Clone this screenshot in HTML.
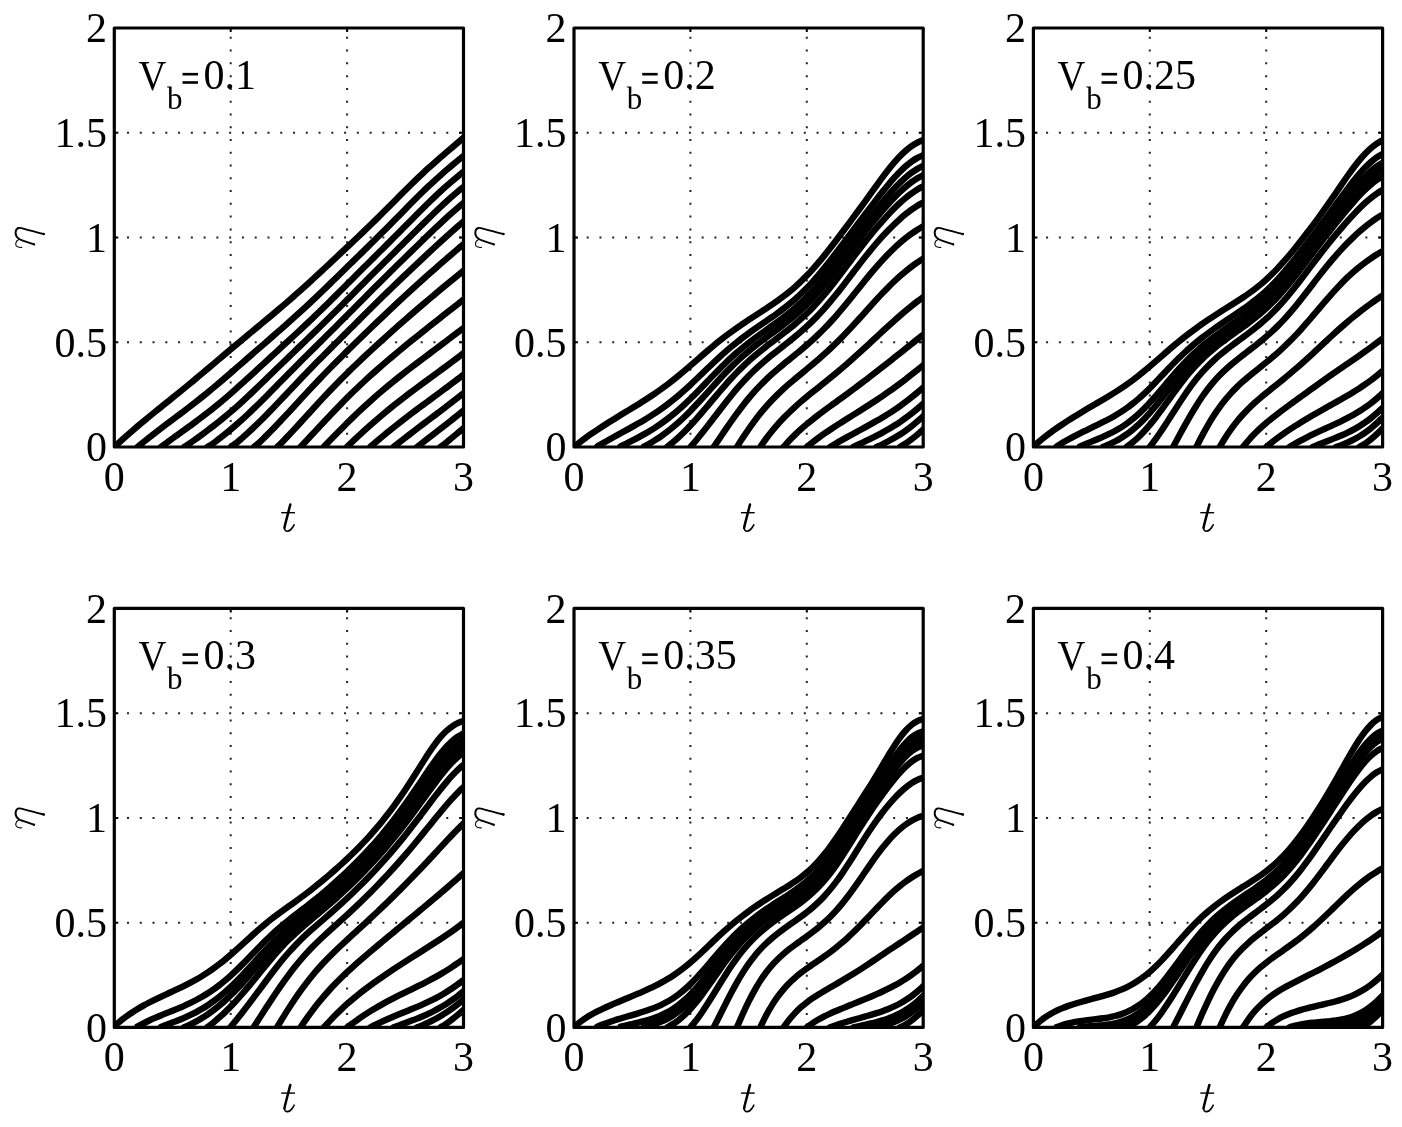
<!DOCTYPE html><html><head><meta charset="utf-8"><style>html,body{margin:0;padding:0;background:#fff;overflow:hidden}svg{display:block}</style></head><body>
<svg width="1402" height="1127" viewBox="0 0 1402 1127" style="will-change:transform">
<rect width="1402" height="1127" fill="#fff"/>
<defs>
<clipPath id="c00"><rect x="114.30" y="28.00" width="349.20" height="419.00"/></clipPath>
<clipPath id="c01"><rect x="574.00" y="28.00" width="349.20" height="419.00"/></clipPath>
<clipPath id="c02"><rect x="1033.40" y="28.00" width="349.20" height="419.00"/></clipPath>
<clipPath id="c10"><rect x="114.30" y="608.40" width="349.20" height="419.00"/></clipPath>
<clipPath id="c11"><rect x="574.00" y="608.40" width="349.20" height="419.00"/></clipPath>
<clipPath id="c12"><rect x="1033.40" y="608.40" width="349.20" height="419.00"/></clipPath>
</defs>
<line x1="230.70" y1="447.00" x2="230.70" y2="28.00" stroke="#222" stroke-width="2" stroke-dasharray="2 10.77" stroke-dashoffset="-12.3"/>
<line x1="347.10" y1="447.00" x2="347.10" y2="28.00" stroke="#222" stroke-width="2" stroke-dasharray="2 10.77" stroke-dashoffset="-12.3"/>
<line x1="114.30" y1="342.25" x2="463.50" y2="342.25" stroke="#222" stroke-width="2" stroke-dasharray="2 10.77" stroke-dashoffset="-12.7"/>
<line x1="114.30" y1="237.50" x2="463.50" y2="237.50" stroke="#222" stroke-width="2" stroke-dasharray="2 10.77" stroke-dashoffset="-12.7"/>
<line x1="114.30" y1="132.75" x2="463.50" y2="132.75" stroke="#222" stroke-width="2" stroke-dasharray="2 10.77" stroke-dashoffset="-12.7"/>
<g clip-path="url(#c00)" fill="none" stroke="#000" stroke-width="6.40" stroke-linejoin="round" stroke-linecap="round"><path d="M114.30 446.98 C115.27 446.09 118.18 443.40 120.12 441.64 C122.06 439.88 124.00 438.14 125.94 436.42 C127.88 434.70 129.82 432.99 131.76 431.31 C133.70 429.62 135.64 427.95 137.58 426.30 C139.52 424.65 141.46 423.04 143.40 421.42 C145.34 419.80 147.28 418.19 149.22 416.60 C151.16 415.01 153.10 413.44 155.04 411.87 C156.98 410.30 158.92 408.74 160.86 407.17 C162.80 405.61 164.74 404.04 166.68 402.48 C168.62 400.92 170.56 399.37 172.50 397.81 C174.44 396.25 176.38 394.69 178.32 393.12 C180.26 391.55 182.20 389.97 184.14 388.38 C186.08 386.80 188.02 385.21 189.96 383.61 C191.90 382.00 193.84 380.38 195.78 378.77 C197.72 377.15 199.66 375.53 201.60 373.91 C203.54 372.28 205.48 370.64 207.42 369.00 C209.36 367.37 211.30 365.74 213.24 364.10 C215.18 362.46 217.12 360.80 219.06 359.16 C221.00 357.52 222.94 355.89 224.88 354.25 C226.82 352.62 228.76 350.97 230.70 349.33 C232.64 347.70 234.58 346.07 236.52 344.45 C238.46 342.83 240.40 341.22 242.34 339.61 C244.28 338.00 246.22 336.38 248.16 334.77 C250.10 333.16 252.04 331.56 253.98 329.95 C255.92 328.35 257.86 326.74 259.80 325.13 C261.74 323.53 263.68 321.93 265.62 320.32 C267.56 318.70 269.50 317.08 271.44 315.45 C273.38 313.83 275.32 312.19 277.26 310.55 C279.20 308.91 281.14 307.27 283.08 305.61 C285.02 303.95 286.96 302.27 288.90 300.58 C290.84 298.89 292.78 297.18 294.72 295.47 C296.66 293.76 298.60 292.05 300.54 290.31 C302.48 288.58 304.42 286.82 306.36 285.06 C308.30 283.30 310.24 281.53 312.18 279.76 C314.12 277.98 316.06 276.19 318.00 274.39 C319.94 272.60 321.88 270.79 323.82 268.99 C325.76 267.18 327.70 265.37 329.64 263.56 C331.58 261.75 333.52 259.95 335.46 258.14 C337.40 256.32 339.34 254.49 341.28 252.67 C343.22 250.85 345.16 249.02 347.10 247.20 C349.04 245.38 350.98 243.57 352.92 241.73 C354.86 239.90 356.80 238.05 358.74 236.20 C360.68 234.35 362.62 232.51 364.56 230.65 C366.50 228.79 368.44 226.92 370.38 225.03 C372.32 223.15 374.26 221.25 376.20 219.34 C378.14 217.43 380.08 215.50 382.02 213.58 C383.96 211.65 385.90 209.72 387.84 207.77 C389.78 205.83 391.72 203.86 393.66 201.91 C395.60 199.95 397.54 197.99 399.48 196.04 C401.42 194.09 403.36 192.14 405.30 190.22 C407.24 188.29 409.18 186.38 411.12 184.48 C413.06 182.58 415.00 180.68 416.94 178.82 C418.88 176.96 420.82 175.14 422.76 173.33 C424.70 171.52 426.64 169.73 428.58 167.97 C430.52 166.21 432.46 164.49 434.40 162.77 C436.34 161.06 438.28 159.36 440.22 157.68 C442.16 156.00 444.10 154.34 446.04 152.67 C447.98 151.01 449.92 149.37 451.86 147.71 C453.80 146.05 455.74 144.40 457.68 142.72 C459.62 141.05 462.53 138.50 463.50 137.65"/><path d="M137.58 446.92 C138.55 446.12 141.46 443.71 143.40 442.14 C145.34 440.57 147.28 439.03 149.22 437.49 C151.16 435.95 153.10 434.43 155.04 432.92 C156.98 431.42 158.92 429.94 160.86 428.46 C162.80 426.98 164.74 425.52 166.68 424.06 C168.62 422.60 170.56 421.16 172.50 419.70 C174.44 418.25 176.38 416.78 178.32 415.32 C180.26 413.86 182.20 412.42 184.14 410.95 C186.08 409.48 188.02 408.00 189.96 406.50 C191.90 405.01 193.84 403.50 195.78 401.98 C197.72 400.46 199.66 398.92 201.60 397.37 C203.54 395.82 205.48 394.24 207.42 392.66 C209.36 391.07 211.30 389.47 213.24 387.86 C215.18 386.25 217.12 384.62 219.06 382.98 C221.00 381.34 222.94 379.68 224.88 378.01 C226.82 376.35 228.76 374.66 230.70 372.98 C232.64 371.30 234.58 369.62 236.52 367.93 C238.46 366.24 240.40 364.54 242.34 362.84 C244.28 361.15 246.22 359.45 248.16 357.75 C250.10 356.06 252.04 354.37 253.98 352.68 C255.92 350.99 257.86 349.30 259.80 347.61 C261.74 345.92 263.68 344.23 265.62 342.54 C267.56 340.85 269.50 339.16 271.44 337.47 C273.38 335.78 275.32 334.10 277.26 332.40 C279.20 330.71 281.14 329.00 283.08 327.29 C285.02 325.58 286.96 323.87 288.90 322.14 C290.84 320.41 292.78 318.67 294.72 316.92 C296.66 315.17 298.60 313.42 300.54 311.64 C302.48 309.87 304.42 308.08 306.36 306.28 C308.30 304.48 310.24 302.66 312.18 300.83 C314.12 299.01 316.06 297.17 318.00 295.32 C319.94 293.47 321.88 291.60 323.82 289.73 C325.76 287.86 327.70 286.00 329.64 284.11 C331.58 282.23 333.52 280.33 335.46 278.44 C337.40 276.54 339.34 274.65 341.28 272.76 C343.22 270.87 345.16 268.98 347.10 267.08 C349.04 265.19 350.98 263.28 352.92 261.38 C354.86 259.49 356.80 257.60 358.74 255.71 C360.68 253.81 362.62 251.91 364.56 250.01 C366.50 248.11 368.44 246.22 370.38 244.31 C372.32 242.40 374.26 240.49 376.20 238.57 C378.14 236.65 380.08 234.72 382.02 232.79 C383.96 230.85 385.90 228.91 387.84 226.96 C389.78 225.01 391.72 223.04 393.66 221.08 C395.60 219.11 397.54 217.14 399.48 215.17 C401.42 213.19 403.36 211.21 405.30 209.24 C407.24 207.27 409.18 205.29 411.12 203.33 C413.06 201.38 415.00 199.43 416.94 197.51 C418.88 195.58 420.82 193.65 422.76 191.77 C424.70 189.88 426.64 188.03 428.58 186.19 C430.52 184.36 432.46 182.54 434.40 180.77 C436.34 178.99 438.28 177.25 440.22 175.53 C442.16 173.81 444.10 172.11 446.04 170.44 C447.98 168.77 449.92 167.13 451.86 165.49 C453.80 163.86 455.74 162.26 457.68 160.66 C459.62 159.05 462.53 156.67 463.50 155.88"/><path d="M160.86 447.00 C161.83 446.29 164.74 444.15 166.68 442.73 C168.62 441.31 170.56 439.88 172.50 438.47 C174.44 437.07 176.38 435.68 178.32 434.28 C180.26 432.89 182.20 431.51 184.14 430.11 C186.08 428.72 188.02 427.31 189.96 425.90 C191.90 424.49 193.84 423.09 195.78 421.65 C197.72 420.22 199.66 418.76 201.60 417.29 C203.54 415.82 205.48 414.34 207.42 412.83 C209.36 411.32 211.30 409.78 213.24 408.22 C215.18 406.66 217.12 405.09 219.06 403.49 C221.00 401.88 222.94 400.24 224.88 398.58 C226.82 396.93 228.76 395.25 230.70 393.56 C232.64 391.86 234.58 390.15 236.52 388.42 C238.46 386.70 240.40 384.94 242.34 383.19 C244.28 381.43 246.22 379.66 248.16 377.89 C250.10 376.11 252.04 374.33 253.98 372.54 C255.92 370.76 257.86 368.97 259.80 367.18 C261.74 365.39 263.68 363.59 265.62 361.80 C267.56 360.01 269.50 358.22 271.44 356.43 C273.38 354.65 275.32 352.85 277.26 351.07 C279.20 349.29 281.14 347.51 283.08 345.73 C285.02 343.94 286.96 342.15 288.90 340.36 C290.84 338.58 292.78 336.80 294.72 335.00 C296.66 333.21 298.60 331.41 300.54 329.60 C302.48 327.78 304.42 325.96 306.36 324.13 C308.30 322.30 310.24 320.47 312.18 318.62 C314.12 316.77 316.06 314.90 318.00 313.02 C319.94 311.15 321.88 309.26 323.82 307.37 C325.76 305.47 327.70 303.56 329.64 301.65 C331.58 299.74 333.52 297.82 335.46 295.89 C337.40 293.96 339.34 292.02 341.28 290.08 C343.22 288.15 345.16 286.20 347.10 284.26 C349.04 282.32 350.98 280.38 352.92 278.44 C354.86 276.49 356.80 274.55 358.74 272.61 C360.68 270.67 362.62 268.74 364.56 266.81 C366.50 264.88 368.44 262.96 370.38 261.03 C372.32 259.10 374.26 257.15 376.20 255.22 C378.14 253.29 380.08 251.37 382.02 249.44 C383.96 247.51 385.90 245.58 387.84 243.64 C389.78 241.70 391.72 239.75 393.66 237.79 C395.60 235.84 397.54 233.89 399.48 231.93 C401.42 229.96 403.36 227.99 405.30 226.02 C407.24 224.05 409.18 222.09 411.12 220.13 C413.06 218.17 415.00 216.20 416.94 214.25 C418.88 212.29 420.82 210.35 422.76 208.42 C424.70 206.50 426.64 204.58 428.58 202.70 C430.52 200.82 432.46 198.96 434.40 197.13 C436.34 195.30 438.28 193.48 440.22 191.70 C442.16 189.93 444.10 188.18 446.04 186.47 C447.98 184.75 449.92 183.08 451.86 181.42 C453.80 179.76 455.74 178.12 457.68 176.51 C459.62 174.90 462.53 172.55 463.50 171.76"/><path d="M184.14 447.00 C185.11 446.36 188.02 444.51 189.96 443.19 C191.90 441.86 193.84 440.43 195.78 439.04 C197.72 437.65 199.66 436.25 201.60 434.83 C203.54 433.41 205.48 431.98 207.42 430.53 C209.36 429.08 211.30 427.63 213.24 426.13 C215.18 424.64 217.12 423.12 219.06 421.57 C221.00 420.01 222.94 418.42 224.88 416.81 C226.82 415.20 228.76 413.57 230.70 411.91 C232.64 410.24 234.58 408.54 236.52 406.82 C238.46 405.09 240.40 403.34 242.34 401.56 C244.28 399.78 246.22 397.97 248.16 396.15 C250.10 394.34 252.04 392.50 253.98 390.64 C255.92 388.79 257.86 386.92 259.80 385.05 C261.74 383.18 263.68 381.30 265.62 379.42 C267.56 377.53 269.50 375.63 271.44 373.74 C273.38 371.85 275.32 369.96 277.26 368.08 C279.20 366.20 281.14 364.32 283.08 362.45 C285.02 360.57 286.96 358.70 288.90 356.83 C290.84 354.96 292.78 353.08 294.72 351.22 C296.66 349.35 298.60 347.49 300.54 345.62 C302.48 343.76 304.42 341.90 306.36 340.03 C308.30 338.16 310.24 336.29 312.18 334.41 C314.12 332.54 316.06 330.65 318.00 328.76 C319.94 326.87 321.88 324.97 323.82 323.06 C325.76 321.15 327.70 319.24 329.64 317.32 C331.58 315.40 333.52 313.45 335.46 311.52 C337.40 309.58 339.34 307.64 341.28 305.69 C343.22 303.74 345.16 301.79 347.10 299.83 C349.04 297.87 350.98 295.90 352.92 293.94 C354.86 291.98 356.80 290.01 358.74 288.05 C360.68 286.09 362.62 284.14 364.56 282.19 C366.50 280.23 368.44 278.29 370.38 276.34 C372.32 274.40 374.26 272.46 376.20 270.52 C378.14 268.58 380.08 266.64 382.02 264.71 C383.96 262.78 385.90 260.86 387.84 258.93 C389.78 257.00 391.72 255.08 393.66 253.15 C395.60 251.22 397.54 249.28 399.48 247.35 C401.42 245.41 403.36 243.48 405.30 241.54 C407.24 239.61 409.18 237.68 411.12 235.74 C413.06 233.80 415.00 231.85 416.94 229.92 C418.88 227.98 420.82 226.05 422.76 224.13 C424.70 222.22 426.64 220.31 428.58 218.41 C430.52 216.52 432.46 214.64 434.40 212.78 C436.34 210.92 438.28 209.06 440.22 207.25 C442.16 205.43 444.10 203.64 446.04 201.89 C447.98 200.13 449.92 198.39 451.86 196.69 C453.80 194.99 455.74 193.32 457.68 191.68 C459.62 190.04 462.53 187.65 463.50 186.84"/><path d="M207.42 447.00 C208.39 446.38 211.30 444.65 213.24 443.29 C215.18 441.93 217.12 440.34 219.06 438.83 C221.00 437.32 222.94 435.80 224.88 434.24 C226.82 432.68 228.76 431.09 230.70 429.46 C232.64 427.84 234.58 426.17 236.52 424.48 C238.46 422.79 240.40 421.08 242.34 419.33 C244.28 417.57 246.22 415.78 248.16 413.96 C250.10 412.14 252.04 410.28 253.98 408.41 C255.92 406.54 257.86 404.65 259.80 402.73 C261.74 400.82 263.68 398.88 265.62 396.93 C267.56 394.98 269.50 393.01 271.44 391.04 C273.38 389.07 275.32 387.09 277.26 385.11 C279.20 383.14 281.14 381.16 283.08 379.18 C285.02 377.21 286.96 375.24 288.90 373.28 C290.84 371.31 292.78 369.34 294.72 367.39 C296.66 365.44 298.60 363.50 300.54 361.57 C302.48 359.63 304.42 357.69 306.36 355.76 C308.30 353.83 310.24 351.90 312.18 349.98 C314.12 348.06 316.06 346.16 318.00 344.24 C319.94 342.32 321.88 340.40 323.82 338.48 C325.76 336.56 327.70 334.62 329.64 332.70 C331.58 330.77 333.52 328.85 335.46 326.91 C337.40 324.98 339.34 323.04 341.28 321.09 C343.22 319.15 345.16 317.20 347.10 315.25 C349.04 313.29 350.98 311.34 352.92 309.38 C354.86 307.42 356.80 305.45 358.74 303.49 C360.68 301.53 362.62 299.58 364.56 297.63 C366.50 295.67 368.44 293.73 370.38 291.78 C372.32 289.84 374.26 287.89 376.20 285.96 C378.14 284.02 380.08 282.10 382.02 280.18 C383.96 278.25 385.90 276.33 387.84 274.41 C389.78 272.50 391.72 270.60 393.66 268.69 C395.60 266.79 397.54 264.88 399.48 262.98 C401.42 261.07 403.36 259.17 405.30 257.28 C407.24 255.38 409.18 253.49 411.12 251.60 C413.06 249.71 415.00 247.81 416.94 245.92 C418.88 244.03 420.82 242.15 422.76 240.27 C424.70 238.38 426.64 236.50 428.58 234.63 C430.52 232.76 432.46 230.90 434.40 229.06 C436.34 227.21 438.28 225.36 440.22 223.55 C442.16 221.73 444.10 219.94 446.04 218.16 C447.98 216.39 449.92 214.63 451.86 212.90 C453.80 211.18 455.74 209.47 457.68 207.79 C459.62 206.12 462.53 203.67 463.50 202.85"/><path d="M230.70 447.00 C231.67 446.31 234.58 444.40 236.52 442.87 C238.46 441.34 240.40 439.54 242.34 437.82 C244.28 436.11 246.22 434.37 248.16 432.59 C250.10 430.81 252.04 428.99 253.98 427.14 C255.92 425.29 257.86 423.41 259.80 421.50 C261.74 419.60 263.68 417.66 265.62 415.70 C267.56 413.74 269.50 411.74 271.44 409.73 C273.38 407.72 275.32 405.69 277.26 403.65 C279.20 401.62 281.14 399.57 283.08 397.52 C285.02 395.47 286.96 393.41 288.90 391.36 C290.84 389.30 292.78 387.24 294.72 385.20 C296.66 383.15 298.60 381.11 300.54 379.08 C302.48 377.05 304.42 375.03 306.36 373.03 C308.30 371.02 310.24 369.02 312.18 367.03 C314.12 365.04 316.06 363.05 318.00 361.08 C319.94 359.11 321.88 357.17 323.82 355.22 C325.76 353.27 327.70 351.31 329.64 349.37 C331.58 347.43 333.52 345.50 335.46 343.57 C337.40 341.64 339.34 339.70 341.28 337.77 C343.22 335.83 345.16 333.90 347.10 331.96 C349.04 330.03 350.98 328.09 352.92 326.16 C354.86 324.23 356.80 322.31 358.74 320.38 C360.68 318.45 362.62 316.50 364.56 314.58 C366.50 312.65 368.44 310.73 370.38 308.81 C372.32 306.89 374.26 304.97 376.20 303.05 C378.14 301.14 380.08 299.23 382.02 297.33 C383.96 295.43 385.90 293.54 387.84 291.66 C389.78 289.77 391.72 287.87 393.66 286.00 C395.60 284.12 397.54 282.26 399.48 280.41 C401.42 278.55 403.36 276.70 405.30 274.85 C407.24 273.01 409.18 271.16 411.12 269.32 C413.06 267.48 415.00 265.64 416.94 263.81 C418.88 261.98 420.82 260.16 422.76 258.35 C424.70 256.53 426.64 254.71 428.58 252.90 C430.52 251.09 432.46 249.29 434.40 247.49 C436.34 245.70 438.28 243.91 440.22 242.13 C442.16 240.35 444.10 238.58 446.04 236.83 C447.98 235.08 449.92 233.33 451.86 231.61 C453.80 229.90 455.74 228.21 457.68 226.52 C459.62 224.84 462.53 222.35 463.50 221.52"/><path d="M253.98 447.00 C254.95 446.18 257.86 443.85 259.80 442.08 C261.74 440.31 263.68 438.31 265.62 436.38 C267.56 434.45 269.50 432.50 271.44 430.51 C273.38 428.53 275.32 426.51 277.26 424.48 C279.20 422.45 281.14 420.39 283.08 418.32 C285.02 416.25 286.96 414.15 288.90 412.06 C290.84 409.96 292.78 407.86 294.72 405.75 C296.66 403.64 298.60 401.51 300.54 399.40 C302.48 397.29 304.42 395.19 306.36 393.10 C308.30 391.00 310.24 388.92 312.18 386.85 C314.12 384.79 316.06 382.74 318.00 380.69 C319.94 378.65 321.88 376.61 323.82 374.60 C325.76 372.59 327.70 370.61 329.64 368.63 C331.58 366.65 333.52 364.67 335.46 362.72 C337.40 360.76 339.34 358.82 341.28 356.89 C343.22 354.96 345.16 353.05 347.10 351.13 C349.04 349.22 350.98 347.31 352.92 345.41 C354.86 343.51 356.80 341.62 358.74 339.74 C360.68 337.85 362.62 335.98 364.56 334.10 C366.50 332.23 368.44 330.35 370.38 328.49 C372.32 326.62 374.26 324.75 376.20 322.89 C378.14 321.03 380.08 319.17 382.02 317.32 C383.96 315.47 385.90 313.64 387.84 311.81 C389.78 309.98 391.72 308.14 393.66 306.32 C395.60 304.50 397.54 302.70 399.48 300.89 C401.42 299.09 403.36 297.30 405.30 295.51 C407.24 293.72 409.18 291.94 411.12 290.17 C413.06 288.40 415.00 286.65 416.94 284.89 C418.88 283.13 420.82 281.37 422.76 279.63 C424.70 277.89 426.64 276.16 428.58 274.43 C430.52 272.71 432.46 271.00 434.40 269.28 C436.34 267.57 438.28 265.85 440.22 264.15 C442.16 262.45 444.10 260.76 446.04 259.08 C447.98 257.40 449.92 255.72 451.86 254.05 C453.80 252.38 455.74 250.71 457.68 249.06 C459.62 247.42 462.53 244.98 463.50 244.16"/><path d="M277.26 447.00 C278.23 446.04 281.14 443.20 283.08 441.22 C285.02 439.23 286.96 437.16 288.90 435.10 C290.84 433.04 292.78 430.95 294.72 428.86 C296.66 426.76 298.60 424.65 300.54 422.53 C302.48 420.41 304.42 418.28 306.36 416.16 C308.30 414.04 310.24 411.91 312.18 409.79 C314.12 407.67 316.06 405.55 318.00 403.44 C319.94 401.34 321.88 399.25 323.82 397.18 C325.76 395.11 327.70 393.06 329.64 391.02 C331.58 388.99 333.52 386.96 335.46 384.97 C337.40 382.97 339.34 380.99 341.28 379.04 C343.22 377.08 345.16 375.15 347.10 373.24 C349.04 371.32 350.98 369.42 352.92 367.54 C354.86 365.65 356.80 363.79 358.74 361.94 C360.68 360.09 362.62 358.26 364.56 356.43 C366.50 354.61 368.44 352.81 370.38 351.01 C372.32 349.21 374.26 347.42 376.20 345.64 C378.14 343.87 380.08 342.10 382.02 340.34 C383.96 338.58 385.90 336.83 387.84 335.09 C389.78 333.34 391.72 331.60 393.66 329.87 C395.60 328.14 397.54 326.43 399.48 324.71 C401.42 323.00 403.36 321.30 405.30 319.60 C407.24 317.91 409.18 316.22 411.12 314.53 C413.06 312.85 415.00 311.17 416.94 309.51 C418.88 307.84 420.82 306.17 422.76 304.52 C424.70 302.86 426.64 301.21 428.58 299.57 C430.52 297.94 432.46 296.32 434.40 294.69 C436.34 293.07 438.28 291.45 440.22 289.83 C442.16 288.22 444.10 286.61 446.04 285.01 C447.98 283.42 449.92 281.83 451.86 280.24 C453.80 278.65 455.74 277.06 457.68 275.48 C459.62 273.90 462.53 271.55 463.50 270.77"/><path d="M300.54 446.90 C301.51 445.87 304.42 442.80 306.36 440.74 C308.30 438.67 310.24 436.59 312.18 434.51 C314.12 432.44 316.06 430.35 318.00 428.27 C319.94 426.19 321.88 424.10 323.82 422.03 C325.76 419.95 327.70 417.88 329.64 415.83 C331.58 413.77 333.52 411.73 335.46 409.71 C337.40 407.69 339.34 405.68 341.28 403.70 C343.22 401.71 345.16 399.75 347.10 397.81 C349.04 395.87 350.98 393.96 352.92 392.07 C354.86 390.18 356.80 388.32 358.74 386.48 C360.68 384.63 362.62 382.81 364.56 381.01 C366.50 379.21 368.44 377.44 370.38 375.69 C372.32 373.93 374.26 372.21 376.20 370.49 C378.14 368.78 380.08 367.08 382.02 365.40 C383.96 363.72 385.90 362.04 387.84 360.39 C389.78 358.74 391.72 357.12 393.66 355.49 C395.60 353.86 397.54 352.24 399.48 350.63 C401.42 349.02 403.36 347.44 405.30 345.85 C407.24 344.26 409.18 342.67 411.12 341.10 C413.06 339.52 415.00 337.97 416.94 336.40 C418.88 334.84 420.82 333.28 422.76 331.73 C424.70 330.18 426.64 328.65 428.58 327.10 C430.52 325.56 432.46 324.01 434.40 322.47 C436.34 320.94 438.28 319.41 440.22 317.89 C442.16 316.36 444.10 314.82 446.04 313.30 C447.98 311.77 449.92 310.25 451.86 308.73 C453.80 307.21 455.74 305.68 457.68 304.16 C459.62 302.64 462.53 300.37 463.50 299.62"/><path d="M323.82 446.73 C324.79 445.73 327.70 442.74 329.64 440.76 C331.58 438.77 333.52 436.80 335.46 434.83 C337.40 432.86 339.34 430.88 341.28 428.92 C343.22 426.96 345.16 425.02 347.10 423.10 C349.04 421.18 350.98 419.28 352.92 417.40 C354.86 415.52 356.80 413.64 358.74 411.80 C360.68 409.96 362.62 408.15 364.56 406.36 C366.50 404.57 368.44 402.80 370.38 401.06 C372.32 399.31 374.26 397.60 376.20 395.90 C378.14 394.21 380.08 392.54 382.02 390.90 C383.96 389.25 385.90 387.62 387.84 386.01 C389.78 384.41 391.72 382.82 393.66 381.26 C395.60 379.69 397.54 378.16 399.48 376.63 C401.42 375.10 403.36 373.57 405.30 372.06 C407.24 370.55 409.18 369.05 411.12 367.56 C413.06 366.07 415.00 364.59 416.94 363.12 C418.88 361.64 420.82 360.18 422.76 358.72 C424.70 357.25 426.64 355.79 428.58 354.34 C430.52 352.88 432.46 351.44 434.40 349.98 C436.34 348.52 438.28 347.06 440.22 345.60 C442.16 344.14 444.10 342.69 446.04 341.22 C447.98 339.76 449.92 338.30 451.86 336.82 C453.80 335.35 455.74 333.87 457.68 332.38 C459.62 330.90 462.53 328.66 463.50 327.92"/><path d="M347.10 446.71 C348.07 445.79 350.98 443.02 352.92 441.20 C354.86 439.37 356.80 437.57 358.74 435.77 C360.68 433.98 362.62 432.19 364.56 430.43 C366.50 428.67 368.44 426.91 370.38 425.19 C372.32 423.47 374.26 421.78 376.20 420.10 C378.14 418.42 380.08 416.75 382.02 415.11 C383.96 413.48 385.90 411.87 387.84 410.27 C389.78 408.68 391.72 407.11 393.66 405.56 C395.60 404.01 397.54 402.47 399.48 400.95 C401.42 399.43 403.36 397.93 405.30 396.45 C407.24 394.96 409.18 393.51 411.12 392.05 C413.06 390.59 415.00 389.13 416.94 387.69 C418.88 386.25 420.82 384.82 422.76 383.40 C424.70 381.97 426.64 380.54 428.58 379.12 C430.52 377.70 432.46 376.29 434.40 374.87 C436.34 373.45 438.28 372.02 440.22 370.60 C442.16 369.17 444.10 367.76 446.04 366.32 C447.98 364.89 449.92 363.44 451.86 361.98 C453.80 360.53 455.74 359.08 457.68 357.61 C459.62 356.14 462.53 353.91 463.50 353.16"/><path d="M370.38 446.77 C371.35 445.94 374.26 443.43 376.20 441.78 C378.14 440.14 380.08 438.50 382.02 436.88 C383.96 435.26 385.90 433.67 387.84 432.08 C389.78 430.50 391.72 428.92 393.66 427.37 C395.60 425.82 397.54 424.28 399.48 422.76 C401.42 421.24 403.36 419.73 405.30 418.24 C407.24 416.74 409.18 415.26 411.12 413.79 C413.06 412.32 415.00 410.86 416.94 409.42 C418.88 407.97 420.82 406.54 422.76 405.10 C424.70 403.66 426.64 402.24 428.58 400.81 C430.52 399.37 432.46 397.94 434.40 396.51 C436.34 395.08 438.28 393.65 440.22 392.22 C442.16 390.78 444.10 389.35 446.04 387.90 C447.98 386.45 449.92 385.01 451.86 383.54 C453.80 382.08 455.74 380.61 457.68 379.12 C459.62 377.64 462.53 375.39 463.50 374.64"/><path d="M393.66 446.87 C394.63 446.11 397.54 443.79 399.48 442.27 C401.42 440.74 403.36 439.22 405.30 437.72 C407.24 436.21 409.18 434.73 411.12 433.24 C413.06 431.74 415.00 430.25 416.94 428.77 C418.88 427.30 420.82 425.84 422.76 424.37 C424.70 422.91 426.64 421.44 428.58 419.97 C430.52 418.51 432.46 417.06 434.40 415.60 C436.34 414.14 438.28 412.68 440.22 411.22 C442.16 409.75 444.10 408.28 446.04 406.80 C447.98 405.32 449.92 403.83 451.86 402.33 C453.80 400.84 455.74 399.33 457.68 397.81 C459.62 396.29 462.53 393.99 463.50 393.22"/><path d="M416.94 447.00 C417.91 446.26 420.82 444.07 422.76 442.58 C424.70 441.09 426.64 439.58 428.58 438.08 C430.52 436.57 432.46 435.06 434.40 433.55 C436.34 432.04 438.28 430.54 440.22 429.02 C442.16 427.51 444.10 426.00 446.04 424.48 C447.98 422.95 449.92 421.41 451.86 419.87 C453.80 418.33 455.74 416.78 457.68 415.22 C459.62 413.65 462.53 411.27 463.50 410.48"/><path d="M440.22 447.00 C441.19 446.28 444.10 444.18 446.04 442.66 C447.98 441.14 449.92 439.49 451.86 437.89 C453.80 436.29 455.74 434.68 457.68 433.07 C459.62 431.45 462.53 429.00 463.50 428.19"/></g>
<path d="M114.30 447.00V443.00M114.30 28.00V32.00M230.70 447.00V443.00M230.70 28.00V32.00M347.10 447.00V443.00M347.10 28.00V32.00M463.50 447.00V443.00M463.50 28.00V32.00M114.30 447.00H118.30M463.50 447.00H459.50M114.30 342.25H118.30M463.50 342.25H459.50M114.30 237.50H118.30M463.50 237.50H459.50M114.30 132.75H118.30M463.50 132.75H459.50M114.30 28.00H118.30M463.50 28.00H459.50" stroke="#000" stroke-width="2" fill="none"/>
<rect x="114.30" y="28.00" width="349.20" height="419.00" fill="none" stroke="#000" stroke-width="3.2" stroke-linejoin="round"/>
<text x="106.90" y="461.30" font-family="Liberation Serif" font-size="42" text-anchor="end">0</text>
<text x="106.90" y="356.55" font-family="Liberation Serif" font-size="42" text-anchor="end">0.5</text>
<text x="106.90" y="251.80" font-family="Liberation Serif" font-size="42" text-anchor="end">1</text>
<text x="106.90" y="147.05" font-family="Liberation Serif" font-size="42" text-anchor="end">1.5</text>
<text x="106.90" y="42.30" font-family="Liberation Serif" font-size="42" text-anchor="end">2</text>
<text x="114.30" y="490.80" font-family="Liberation Serif" font-size="42" text-anchor="middle">0</text>
<text x="230.70" y="490.80" font-family="Liberation Serif" font-size="42" text-anchor="middle">1</text>
<text x="347.10" y="490.80" font-family="Liberation Serif" font-size="42" text-anchor="middle">2</text>
<text x="463.50" y="490.80" font-family="Liberation Serif" font-size="42" text-anchor="middle">3</text>
<g transform="translate(0.00 0.00)" fill="none" stroke="#000" stroke-linecap="round"><path stroke-width="2.5" d="M290.3 504.5 C289.5 507.7 287.2 516.5 285.9 521.6 C285.2 524.2 284.6 526.3 284.45 528"/><path stroke-width="1.6" d="M284.45 527.6 C284.3 530 285.6 531.2 287.4 531.2 C289.6 531.2 291.5 529.2 292.7 527.3 C293.3 526.3 293.8 525.5 294.1 524.8"/><path stroke-width="1.4" stroke-linecap="butt" d="M281.2 512.7 H295.0"/></g>
<g transform="translate(0.00 0.00)" fill="none" stroke="#000" stroke-linecap="round"><path stroke-width="1.9" d="M43.95 234.1 C38 232.6 30 230.56 25 229.2 C21.4 228.13 19.5 227.7 18.56 227.99 C16.9 228.5 15.6 230.6 15.56 232.84 C15.5 235 16.8 237.3 18.84 238.83 C20 239.7 21.5 240.1 22.84 240.55 C26.5 241.8 30.5 243.1 34.25 244.4"/><path stroke-width="1.1" d="M18.84 239.6 C17.2 240.3 15.9 241.6 15.7 243.6 C15.6 245.3 16.4 246.3 17.6 246.8 C18.9 247.3 20.3 247.5 21.7 247.4"/><circle cx="43.6" cy="234.0" r="1.25" fill="#000" stroke="none"/><circle cx="33.9" cy="244.3" r="1.15" fill="#000" stroke="none"/></g>
<text transform="translate(138.50 89.70) scale(0.93 1)" font-family="Liberation Serif" font-size="41.5">V</text>
<text x="167.10" y="109.00" font-family="Liberation Serif" font-size="31">b</text>
<rect x="182.50" y="72.90" width="15.5" height="2.6" fill="#000"/><rect x="182.50" y="81.20" width="15.5" height="2.6" fill="#000"/>
<text x="203.50" y="88.50" font-family="Liberation Serif" font-size="42">0.1</text>
<line x1="690.40" y1="447.00" x2="690.40" y2="28.00" stroke="#222" stroke-width="2" stroke-dasharray="2 10.77" stroke-dashoffset="-12.3"/>
<line x1="806.80" y1="447.00" x2="806.80" y2="28.00" stroke="#222" stroke-width="2" stroke-dasharray="2 10.77" stroke-dashoffset="-12.3"/>
<line x1="574.00" y1="342.25" x2="923.20" y2="342.25" stroke="#222" stroke-width="2" stroke-dasharray="2 10.77" stroke-dashoffset="-12.7"/>
<line x1="574.00" y1="237.50" x2="923.20" y2="237.50" stroke="#222" stroke-width="2" stroke-dasharray="2 10.77" stroke-dashoffset="-12.7"/>
<line x1="574.00" y1="132.75" x2="923.20" y2="132.75" stroke="#222" stroke-width="2" stroke-dasharray="2 10.77" stroke-dashoffset="-12.7"/>
<g clip-path="url(#c01)" fill="none" stroke="#000" stroke-width="6.40" stroke-linejoin="round" stroke-linecap="round"><path d="M574.00 446.75 C574.97 445.99 577.88 443.67 579.82 442.18 C581.76 440.70 583.70 439.25 585.64 437.84 C587.58 436.44 589.52 435.08 591.46 433.74 C593.40 432.40 595.34 431.09 597.28 429.80 C599.22 428.51 601.16 427.24 603.10 425.99 C605.04 424.74 606.98 423.52 608.92 422.30 C610.86 421.08 612.80 419.88 614.74 418.68 C616.68 417.47 618.62 416.28 620.56 415.09 C622.50 413.91 624.44 412.73 626.38 411.55 C628.32 410.37 630.26 409.20 632.20 408.01 C634.14 406.82 636.08 405.62 638.02 404.41 C639.96 403.20 641.90 402.00 643.84 400.76 C645.78 399.53 647.72 398.27 649.66 396.99 C651.60 395.71 653.54 394.41 655.48 393.07 C657.42 391.74 659.36 390.38 661.30 388.99 C663.24 387.60 665.18 386.18 667.12 384.72 C669.06 383.26 671.00 381.76 672.94 380.23 C674.88 378.70 676.82 377.13 678.76 375.54 C680.70 373.95 682.64 372.32 684.58 370.68 C686.52 369.04 688.46 367.37 690.40 365.69 C692.34 364.02 694.28 362.32 696.22 360.62 C698.16 358.93 700.10 357.22 702.04 355.53 C703.98 353.85 705.92 352.16 707.86 350.50 C709.80 348.85 711.74 347.21 713.68 345.60 C715.62 344.00 717.56 342.42 719.50 340.87 C721.44 339.32 723.38 337.78 725.32 336.30 C727.26 334.82 729.20 333.38 731.14 331.96 C733.08 330.55 735.02 329.16 736.96 327.79 C738.90 326.43 740.84 325.11 742.78 323.79 C744.72 322.48 746.66 321.20 748.60 319.92 C750.54 318.64 752.48 317.38 754.42 316.13 C756.36 314.87 758.30 313.63 760.24 312.38 C762.18 311.12 764.12 309.86 766.06 308.58 C768.00 307.30 769.94 306.01 771.88 304.69 C773.82 303.36 775.76 302.02 777.70 300.62 C779.64 299.23 781.58 297.81 783.52 296.33 C785.46 294.85 787.40 293.33 789.34 291.74 C791.28 290.15 793.22 288.50 795.16 286.77 C797.10 285.05 799.04 283.25 800.98 281.39 C802.92 279.53 804.86 277.60 806.80 275.59 C808.74 273.58 810.68 271.48 812.62 269.32 C814.56 267.17 816.50 264.94 818.44 262.66 C820.38 260.38 822.32 258.02 824.26 255.62 C826.20 253.23 828.14 250.77 830.08 248.29 C832.02 245.81 833.96 243.27 835.90 240.73 C837.84 238.18 839.78 235.61 841.72 233.04 C843.66 230.46 845.60 227.87 847.54 225.27 C849.48 222.66 851.42 220.06 853.36 217.43 C855.30 214.80 857.24 212.16 859.18 209.51 C861.12 206.86 863.06 204.19 865.00 201.51 C866.94 198.83 868.88 196.13 870.82 193.44 C872.76 190.75 874.70 188.04 876.64 185.38 C878.58 182.71 880.52 180.03 882.46 177.44 C884.40 174.84 886.34 172.27 888.28 169.81 C890.22 167.36 892.16 164.96 894.10 162.71 C896.04 160.46 897.98 158.29 899.92 156.30 C901.86 154.30 903.80 152.43 905.74 150.75 C907.68 149.06 909.62 147.53 911.56 146.18 C913.50 144.82 915.44 143.64 917.38 142.62 C919.32 141.60 922.23 140.49 923.20 140.06"/><path d="M597.28 446.48 C598.25 445.90 601.16 444.15 603.10 443.02 C605.04 441.89 606.98 440.80 608.92 439.71 C610.86 438.62 612.80 437.53 614.74 436.46 C616.68 435.39 618.62 434.34 620.56 433.28 C622.50 432.22 624.44 431.16 626.38 430.09 C628.32 429.02 630.26 427.95 632.20 426.87 C634.14 425.78 636.08 424.69 638.02 423.58 C639.96 422.46 641.90 421.34 643.84 420.18 C645.78 419.02 647.72 417.84 649.66 416.62 C651.60 415.40 653.54 414.15 655.48 412.85 C657.42 411.56 659.36 410.23 661.30 408.85 C663.24 407.47 665.18 406.06 667.12 404.60 C669.06 403.13 671.00 401.61 672.94 400.05 C674.88 398.49 676.82 396.88 678.76 395.23 C680.70 393.58 682.64 391.88 684.58 390.14 C686.52 388.40 688.46 386.61 690.40 384.80 C692.34 382.99 694.28 381.14 696.22 379.29 C698.16 377.44 700.10 375.55 702.04 373.68 C703.98 371.80 705.92 369.92 707.86 368.06 C709.80 366.20 711.74 364.32 713.68 362.49 C715.62 360.66 717.56 358.85 719.50 357.08 C721.44 355.31 723.38 353.57 725.32 351.87 C727.26 350.17 729.20 348.50 731.14 346.88 C733.08 345.26 735.02 343.70 736.96 342.17 C738.90 340.63 740.84 339.13 742.78 337.66 C744.72 336.20 746.66 334.77 748.60 333.37 C750.54 331.96 752.48 330.60 754.42 329.24 C756.36 327.88 758.30 326.54 760.24 325.20 C762.18 323.85 764.12 322.52 766.06 321.17 C768.00 319.83 769.94 318.50 771.88 317.13 C773.82 315.76 775.76 314.38 777.70 312.96 C779.64 311.54 781.58 310.10 783.52 308.60 C785.46 307.11 787.40 305.59 789.34 304.00 C791.28 302.40 793.22 300.76 795.16 299.05 C797.10 297.34 799.04 295.57 800.98 293.73 C802.92 291.89 804.86 289.98 806.80 287.99 C808.74 286.00 810.68 283.93 812.62 281.79 C814.56 279.65 816.50 277.44 818.44 275.17 C820.38 272.89 822.32 270.53 824.26 268.13 C826.20 265.73 828.14 263.27 830.08 260.78 C832.02 258.29 833.96 255.74 835.90 253.19 C837.84 250.64 839.78 248.05 841.72 245.46 C843.66 242.87 845.60 240.26 847.54 237.67 C849.48 235.07 851.42 232.48 853.36 229.90 C855.30 227.31 857.24 224.73 859.18 222.16 C861.12 219.59 863.06 217.03 865.00 214.48 C866.94 211.92 868.88 209.38 870.82 206.85 C872.76 204.32 874.70 201.78 876.64 199.29 C878.58 196.79 880.52 194.30 882.46 191.87 C884.40 189.44 886.34 187.03 888.28 184.71 C890.22 182.38 892.16 180.10 894.10 177.94 C896.04 175.78 897.98 173.70 899.92 171.76 C901.86 169.81 903.80 167.96 905.74 166.27 C907.68 164.58 909.62 163.02 911.56 161.62 C913.50 160.22 915.44 158.97 917.38 157.87 C919.32 156.77 922.23 155.51 923.20 155.04"/><path d="M620.56 446.43 C621.53 445.96 624.44 444.53 626.38 443.56 C628.32 442.60 630.26 441.63 632.20 440.63 C634.14 439.64 636.08 438.63 638.02 437.59 C639.96 436.55 641.90 435.49 643.84 434.39 C645.78 433.29 647.72 432.16 649.66 430.99 C651.60 429.82 653.54 428.63 655.48 427.37 C657.42 426.11 659.36 424.80 661.30 423.43 C663.24 422.06 665.18 420.63 667.12 419.16 C669.06 417.68 671.00 416.16 672.94 414.57 C674.88 412.98 676.82 411.33 678.76 409.63 C680.70 407.92 682.64 406.15 684.58 404.35 C686.52 402.54 688.46 400.67 690.40 398.77 C692.34 396.87 694.28 394.92 696.22 392.95 C698.16 390.98 700.10 388.97 702.04 386.96 C703.98 384.95 705.92 382.92 707.86 380.90 C709.80 378.88 711.74 376.85 713.68 374.85 C715.62 372.85 717.56 370.86 719.50 368.92 C721.44 366.98 723.38 365.06 725.32 363.20 C727.26 361.34 729.20 359.51 731.14 357.73 C733.08 355.95 735.02 354.22 736.96 352.54 C738.90 350.85 740.84 349.23 742.78 347.63 C744.72 346.04 746.66 344.50 748.60 342.98 C750.54 341.47 752.48 339.99 754.42 338.54 C756.36 337.09 758.30 335.68 760.24 334.27 C762.18 332.86 764.12 331.49 766.06 330.10 C768.00 328.71 769.94 327.31 771.88 325.91 C773.82 324.51 775.76 323.11 777.70 321.68 C779.64 320.24 781.58 318.79 783.52 317.30 C785.46 315.80 787.40 314.29 789.34 312.71 C791.28 311.13 793.22 309.50 795.16 307.81 C797.10 306.11 799.04 304.37 800.98 302.55 C802.92 300.73 804.86 298.85 806.80 296.89 C808.74 294.93 810.68 292.90 812.62 290.80 C814.56 288.69 816.50 286.51 818.44 284.26 C820.38 282.01 822.32 279.68 824.26 277.30 C826.20 274.93 828.14 272.49 830.08 270.01 C832.02 267.54 833.96 264.98 835.90 262.43 C837.84 259.88 839.78 257.29 841.72 254.70 C843.66 252.11 845.60 249.48 847.54 246.89 C849.48 244.29 851.42 241.69 853.36 239.11 C855.30 236.54 857.24 233.97 859.18 231.42 C861.12 228.88 863.06 226.36 865.00 223.86 C866.94 221.37 868.88 218.90 870.82 216.45 C872.76 213.99 874.70 211.55 876.64 209.15 C878.58 206.76 880.52 204.38 882.46 202.05 C884.40 199.72 886.34 197.41 888.28 195.18 C890.22 192.96 892.16 190.78 894.10 188.71 C896.04 186.63 897.98 184.61 899.92 182.72 C901.86 180.82 903.80 179.00 905.74 177.33 C907.68 175.66 909.62 174.11 911.56 172.70 C913.50 171.29 915.44 170.01 917.38 168.87 C919.32 167.73 922.23 166.37 923.20 165.87"/><path d="M643.84 446.66 C644.81 446.13 647.72 444.56 649.66 443.44 C651.60 442.31 653.54 441.15 655.48 439.92 C657.42 438.69 659.36 437.42 661.30 436.06 C663.24 434.71 665.18 433.30 667.12 431.81 C669.06 430.33 671.00 428.78 672.94 427.16 C674.88 425.54 676.82 423.86 678.76 422.11 C680.70 420.37 682.64 418.55 684.58 416.69 C686.52 414.82 688.46 412.88 690.40 410.90 C692.34 408.92 694.28 406.87 696.22 404.81 C698.16 402.74 700.10 400.62 702.04 398.50 C703.98 396.38 705.92 394.22 707.86 392.07 C709.80 389.92 711.74 387.75 713.68 385.62 C715.62 383.48 717.56 381.34 719.50 379.25 C721.44 377.16 723.38 375.09 725.32 373.07 C727.26 371.05 729.20 369.06 731.14 367.14 C733.08 365.21 735.02 363.34 736.96 361.52 C738.90 359.70 740.84 357.94 742.78 356.22 C744.72 354.51 746.66 352.85 748.60 351.24 C750.54 349.62 752.48 348.06 754.42 346.52 C756.36 344.99 758.30 343.50 760.24 342.02 C762.18 340.54 764.12 339.10 766.06 337.66 C768.00 336.22 769.94 334.80 771.88 333.37 C773.82 331.94 775.76 330.52 777.70 329.07 C779.64 327.62 781.58 326.15 783.52 324.65 C785.46 323.15 787.40 321.66 789.34 320.08 C791.28 318.51 793.22 316.90 795.16 315.22 C797.10 313.55 799.04 311.84 800.98 310.05 C802.92 308.26 804.86 306.42 806.80 304.50 C808.74 302.58 810.68 300.59 812.62 298.53 C814.56 296.46 816.50 294.31 818.44 292.10 C820.38 289.89 822.32 287.61 824.26 285.27 C826.20 282.92 828.14 280.50 830.08 278.04 C832.02 275.58 833.96 273.06 835.90 270.52 C837.84 267.98 839.78 265.39 841.72 262.81 C843.66 260.22 845.60 257.61 847.54 255.01 C849.48 252.42 851.42 249.80 853.36 247.22 C855.30 244.64 857.24 242.08 859.18 239.55 C861.12 237.03 863.06 234.53 865.00 232.05 C866.94 229.58 868.88 227.13 870.82 224.72 C872.76 222.31 874.70 219.93 876.64 217.60 C878.58 215.27 880.52 212.97 882.46 210.73 C884.40 208.48 886.34 206.26 888.28 204.11 C890.22 201.95 892.16 199.84 894.10 197.82 C896.04 195.80 897.98 193.84 899.92 192.00 C901.86 190.15 903.80 188.38 905.74 186.74 C907.68 185.09 909.62 183.54 911.56 182.13 C913.50 180.72 915.44 179.42 917.38 178.25 C919.32 177.09 922.23 175.67 923.20 175.15"/><path d="M667.12 446.96 C668.09 446.18 671.00 443.92 672.94 442.29 C674.88 440.65 676.82 438.93 678.76 437.13 C680.70 435.34 682.64 433.46 684.58 431.52 C686.52 429.58 688.46 427.55 690.40 425.48 C692.34 423.41 694.28 421.27 696.22 419.09 C698.16 416.92 700.10 414.67 702.04 412.41 C703.98 410.16 705.92 407.85 707.86 405.56 C709.80 403.27 711.74 400.95 713.68 398.65 C715.62 396.35 717.56 394.02 719.50 391.75 C721.44 389.49 723.38 387.23 725.32 385.03 C727.26 382.83 729.20 380.64 731.14 378.54 C733.08 376.43 735.02 374.37 736.96 372.38 C738.90 370.39 740.84 368.47 742.78 366.59 C744.72 364.72 746.66 362.90 748.60 361.15 C750.54 359.39 752.48 357.71 754.42 356.06 C756.36 354.40 758.30 352.81 760.24 351.24 C762.18 349.67 764.12 348.16 766.06 346.65 C768.00 345.14 769.94 343.67 771.88 342.19 C773.82 340.71 775.76 339.24 777.70 337.77 C779.64 336.29 781.58 334.83 783.52 333.33 C785.46 331.82 787.40 330.30 789.34 328.74 C791.28 327.18 793.22 325.60 795.16 323.96 C797.10 322.32 799.04 320.64 800.98 318.89 C802.92 317.14 804.86 315.34 806.80 313.46 C808.74 311.59 810.68 309.67 812.62 307.66 C814.56 305.65 816.50 303.57 818.44 301.42 C820.38 299.27 822.32 297.04 824.26 294.76 C826.20 292.47 828.14 290.11 830.08 287.70 C832.02 285.29 833.96 282.80 835.90 280.30 C837.84 277.80 839.78 275.24 841.72 272.68 C843.66 270.11 845.60 267.51 847.54 264.92 C849.48 262.34 851.42 259.72 853.36 257.15 C855.30 254.58 857.24 252.01 859.18 249.48 C861.12 246.96 863.06 244.46 865.00 242.00 C866.94 239.55 868.88 237.13 870.82 234.76 C872.76 232.38 874.70 230.04 876.64 227.76 C878.58 225.47 880.52 223.24 882.46 221.05 C884.40 218.87 886.34 216.72 888.28 214.64 C890.22 212.57 892.16 210.55 894.10 208.61 C896.04 206.67 897.98 204.77 899.92 202.97 C901.86 201.18 903.80 199.47 905.74 197.86 C907.68 196.25 909.62 194.72 911.56 193.32 C913.50 191.91 915.44 190.60 917.38 189.42 C919.32 188.24 922.23 186.75 923.20 186.21"/><path d="M690.40 447.00 C691.37 445.88 694.28 442.61 696.22 440.30 C698.16 437.98 700.10 435.55 702.04 433.11 C703.98 430.67 705.92 428.16 707.86 425.65 C709.80 423.14 711.74 420.60 713.68 418.07 C715.62 415.53 717.56 412.96 719.50 410.44 C721.44 407.92 723.38 405.41 725.32 402.94 C727.26 400.48 729.20 398.03 731.14 395.65 C733.08 393.28 735.02 390.95 736.96 388.70 C738.90 386.44 740.84 384.24 742.78 382.12 C744.72 379.99 746.66 377.94 748.60 375.96 C750.54 373.98 752.48 372.09 754.42 370.24 C756.36 368.39 758.30 366.61 760.24 364.88 C762.18 363.14 764.12 361.48 766.06 359.85 C768.00 358.21 769.94 356.64 771.88 355.07 C773.82 353.50 775.76 351.97 777.70 350.44 C779.64 348.91 781.58 347.40 783.52 345.87 C785.46 344.34 787.40 342.82 789.34 341.27 C791.28 339.71 793.22 338.16 795.16 336.55 C797.10 334.95 799.04 333.31 800.98 331.63 C802.92 329.94 804.86 328.22 806.80 326.43 C808.74 324.64 810.68 322.79 812.62 320.88 C814.56 318.97 816.50 317.02 818.44 314.97 C820.38 312.93 822.32 310.80 824.26 308.63 C826.20 306.45 828.14 304.20 830.08 301.90 C832.02 299.60 833.96 297.23 835.90 294.82 C837.84 292.41 839.78 289.92 841.72 287.42 C843.66 284.93 845.60 282.40 847.54 279.86 C849.48 277.33 851.42 274.76 853.36 272.21 C855.30 269.67 857.24 267.12 859.18 264.61 C861.12 262.10 863.06 259.60 865.00 257.15 C866.94 254.70 868.88 252.28 870.82 249.92 C872.76 247.57 874.70 245.28 876.64 243.03 C878.58 240.79 880.52 238.58 882.46 236.45 C884.40 234.32 886.34 232.26 888.28 230.25 C890.22 228.25 892.16 226.30 894.10 224.43 C896.04 222.56 897.98 220.75 899.92 219.02 C901.86 217.30 903.80 215.64 905.74 214.08 C907.68 212.51 909.62 211.03 911.56 209.64 C913.50 208.25 915.44 206.94 917.38 205.74 C919.32 204.54 922.23 203.00 923.20 202.45"/><path d="M713.68 447.00 C714.65 445.58 717.56 441.33 719.50 438.47 C721.44 435.62 723.38 432.72 725.32 429.88 C727.26 427.05 729.20 424.23 731.14 421.48 C733.08 418.73 735.02 416.01 736.96 413.38 C738.90 410.74 740.84 408.16 742.78 405.67 C744.72 403.17 746.66 400.73 748.60 398.40 C750.54 396.06 752.48 393.82 754.42 391.65 C756.36 389.48 758.30 387.40 760.24 385.39 C762.18 383.37 764.12 381.45 766.06 379.58 C768.00 377.71 769.94 375.93 771.88 374.18 C773.82 372.43 775.76 370.75 777.70 369.09 C779.64 367.42 781.58 365.81 783.52 364.21 C785.46 362.60 787.40 361.05 789.34 359.47 C791.28 357.89 793.22 356.32 795.16 354.74 C797.10 353.15 799.04 351.58 800.98 349.96 C802.92 348.34 804.86 346.70 806.80 345.02 C808.74 343.33 810.68 341.63 812.62 339.86 C814.56 338.09 816.50 336.29 818.44 334.41 C820.38 332.54 822.32 330.62 824.26 328.63 C826.20 326.65 828.14 324.61 830.08 322.52 C832.02 320.42 833.96 318.25 835.90 316.04 C837.84 313.83 839.78 311.58 841.72 309.27 C843.66 306.97 845.60 304.61 847.54 302.24 C849.48 299.86 851.42 297.42 853.36 295.01 C855.30 292.59 857.24 290.16 859.18 287.74 C861.12 285.32 863.06 282.88 865.00 280.49 C866.94 278.10 868.88 275.73 870.82 273.41 C872.76 271.09 874.70 268.80 876.64 266.58 C878.58 264.35 880.52 262.17 882.46 260.06 C884.40 257.95 886.34 255.90 888.28 253.92 C890.22 251.95 892.16 250.04 894.10 248.21 C896.04 246.37 897.98 244.61 899.92 242.93 C901.86 241.24 903.80 239.63 905.74 238.09 C907.68 236.55 909.62 235.07 911.56 233.69 C913.50 232.30 915.44 231.00 917.38 229.77 C919.32 228.54 922.23 226.89 923.20 226.31"/><path d="M736.96 447.00 C737.93 445.48 740.84 440.83 742.78 437.87 C744.72 434.90 746.66 432.00 748.60 429.21 C750.54 426.42 752.48 423.73 754.42 421.13 C756.36 418.53 758.30 416.01 760.24 413.61 C762.18 411.20 764.12 408.89 766.06 406.67 C768.00 404.45 769.94 402.33 771.88 400.28 C773.82 398.23 775.76 396.28 777.70 394.37 C779.64 392.47 781.58 390.64 783.52 388.86 C785.46 387.08 787.40 385.38 789.34 383.69 C791.28 382.00 793.22 380.38 795.16 378.74 C797.10 377.11 799.04 375.51 800.98 373.91 C802.92 372.30 804.86 370.73 806.80 369.13 C808.74 367.53 810.68 365.92 812.62 364.29 C814.56 362.66 816.50 361.02 818.44 359.35 C820.38 357.67 822.32 355.96 824.26 354.21 C826.20 352.47 828.14 350.69 830.08 348.87 C832.02 347.05 833.96 345.20 835.90 343.30 C837.84 341.40 839.78 339.45 841.72 337.47 C843.66 335.49 845.60 333.47 847.54 331.42 C849.48 329.37 851.42 327.28 853.36 325.18 C855.30 323.07 857.24 320.92 859.18 318.77 C861.12 316.61 863.06 314.43 865.00 312.27 C866.94 310.11 868.88 307.94 870.82 305.80 C872.76 303.65 874.70 301.49 876.64 299.39 C878.58 297.28 880.52 295.20 882.46 293.16 C884.40 291.13 886.34 289.12 888.28 287.17 C890.22 285.23 892.16 283.33 894.10 281.50 C896.04 279.66 897.98 277.87 899.92 276.15 C901.86 274.43 903.80 272.78 905.74 271.19 C907.68 269.60 909.62 268.06 911.56 266.60 C913.50 265.14 915.44 263.74 917.38 262.41 C919.32 261.08 922.23 259.23 923.20 258.60"/><path d="M760.24 446.98 C761.21 445.61 764.12 441.39 766.06 438.77 C768.00 436.14 769.94 433.65 771.88 431.25 C773.82 428.84 775.76 426.56 777.70 424.35 C779.64 422.15 781.58 420.05 783.52 418.03 C785.46 416.00 787.40 414.08 789.34 412.20 C791.28 410.33 793.22 408.53 795.16 406.78 C797.10 405.02 799.04 403.35 800.98 401.69 C802.92 400.02 804.86 398.40 806.80 396.80 C808.74 395.20 810.68 393.65 812.62 392.09 C814.56 390.53 816.50 388.97 818.44 387.42 C820.38 385.86 822.32 384.32 824.26 382.77 C826.20 381.21 828.14 379.65 830.08 378.07 C832.02 376.50 833.96 374.91 835.90 373.30 C837.84 371.68 839.78 370.05 841.72 368.40 C843.66 366.74 845.60 365.06 847.54 363.37 C849.48 361.67 851.42 359.95 853.36 358.21 C855.30 356.48 857.24 354.74 859.18 352.98 C861.12 351.21 863.06 349.43 865.00 347.63 C866.94 345.84 868.88 344.03 870.82 342.23 C872.76 340.43 874.70 338.63 876.64 336.82 C878.58 335.02 880.52 333.21 882.46 331.42 C884.40 329.63 886.34 327.84 888.28 326.08 C890.22 324.31 892.16 322.55 894.10 320.82 C896.04 319.09 897.98 317.38 899.92 315.71 C901.86 314.03 903.80 312.38 905.74 310.76 C907.68 309.14 909.62 307.55 911.56 305.99 C913.50 304.42 915.44 302.88 917.38 301.40 C919.32 299.91 922.23 297.78 923.20 297.06"/><path d="M783.52 447.00 C784.49 445.92 787.40 442.59 789.34 440.53 C791.28 438.46 793.22 436.51 795.16 434.62 C797.10 432.73 799.04 430.93 800.98 429.19 C802.92 427.45 804.86 425.79 806.80 424.16 C808.74 422.54 810.68 420.97 812.62 419.43 C814.56 417.89 816.50 416.39 818.44 414.90 C820.38 413.42 822.32 411.99 824.26 410.55 C826.20 409.11 828.14 407.69 830.08 406.27 C832.02 404.86 833.96 403.45 835.90 402.04 C837.84 400.63 839.78 399.24 841.72 397.83 C843.66 396.42 845.60 395.00 847.54 393.58 C849.48 392.15 851.42 390.72 853.36 389.28 C855.30 387.84 857.24 386.38 859.18 384.93 C861.12 383.47 863.06 382.00 865.00 380.53 C866.94 379.05 868.88 377.58 870.82 376.08 C872.76 374.59 874.70 373.09 876.64 371.58 C878.58 370.07 880.52 368.55 882.46 367.03 C884.40 365.51 886.34 364.00 888.28 362.47 C890.22 360.94 892.16 359.39 894.10 357.86 C896.04 356.32 897.98 354.79 899.92 353.25 C901.86 351.71 903.80 350.15 905.74 348.60 C907.68 347.05 909.62 345.50 911.56 343.95 C913.50 342.40 915.44 340.85 917.38 339.30 C919.32 337.75 922.23 335.42 923.20 334.65"/><path d="M806.80 447.00 C807.77 446.21 810.68 443.77 812.62 442.24 C814.56 440.71 816.50 439.25 818.44 437.82 C820.38 436.40 822.32 435.02 824.26 433.68 C826.20 432.33 828.14 431.03 830.08 429.74 C832.02 428.45 833.96 427.18 835.90 425.92 C837.84 424.67 839.78 423.45 841.72 422.22 C843.66 420.99 845.60 419.77 847.54 418.55 C849.48 417.33 851.42 416.11 853.36 414.88 C855.30 413.66 857.24 412.44 859.18 411.22 C861.12 409.99 863.06 408.77 865.00 407.53 C866.94 406.29 868.88 405.02 870.82 403.76 C872.76 402.50 874.70 401.23 876.64 399.95 C878.58 398.66 880.52 397.36 882.46 396.03 C884.40 394.70 886.34 393.35 888.28 391.99 C890.22 390.62 892.16 389.26 894.10 387.86 C896.04 386.46 897.98 385.03 899.92 383.58 C901.86 382.14 903.80 380.66 905.74 379.16 C907.68 377.67 909.62 376.14 911.56 374.60 C913.50 373.05 915.44 371.49 917.38 369.90 C919.32 368.32 922.23 365.89 923.20 365.09"/><path d="M830.08 446.96 C831.05 446.37 833.96 444.60 835.90 443.46 C837.84 442.32 839.78 441.22 841.72 440.13 C843.66 439.03 845.60 437.95 847.54 436.88 C849.48 435.81 851.42 434.75 853.36 433.70 C855.30 432.64 857.24 431.61 859.18 430.55 C861.12 429.50 863.06 428.46 865.00 427.39 C866.94 426.33 868.88 425.25 870.82 424.16 C872.76 423.08 874.70 421.98 876.64 420.85 C878.58 419.73 880.52 418.59 882.46 417.42 C884.40 416.25 886.34 415.07 888.28 413.84 C890.22 412.61 892.16 411.34 894.10 410.04 C896.04 408.75 897.98 407.42 899.92 406.04 C901.86 404.67 903.80 403.25 905.74 401.79 C907.68 400.33 909.62 398.83 911.56 397.29 C913.50 395.74 915.44 394.16 917.38 392.53 C919.32 390.90 922.23 388.36 923.20 387.52"/><path d="M853.36 446.96 C854.33 446.49 857.24 445.10 859.18 444.17 C861.12 443.24 863.06 442.32 865.00 441.39 C866.94 440.45 868.88 439.52 870.82 438.56 C872.76 437.60 874.70 436.62 876.64 435.62 C878.58 434.63 880.52 433.62 882.46 432.57 C884.40 431.51 886.34 430.43 888.28 429.30 C890.22 428.17 892.16 427.01 894.10 425.80 C896.04 424.59 897.98 423.34 899.92 422.03 C901.86 420.72 903.80 419.36 905.74 417.94 C907.68 416.52 909.62 415.04 911.56 413.50 C913.50 411.96 915.44 410.37 917.38 408.72 C919.32 407.08 922.23 404.46 923.20 403.61"/><path d="M876.64 447.00 C877.61 446.55 880.52 445.25 882.46 444.30 C884.40 443.35 886.34 442.34 888.28 441.30 C890.22 440.26 892.16 439.19 894.10 438.05 C896.04 436.92 897.98 435.73 899.92 434.47 C901.86 433.22 903.80 431.92 905.74 430.53 C907.68 429.15 909.62 427.69 911.56 426.18 C913.50 424.66 915.44 423.08 917.38 421.42 C919.32 419.76 922.23 417.11 923.20 416.25"/><path d="M899.92 447.00 C900.89 446.42 903.80 444.82 905.74 443.54 C907.68 442.26 909.62 440.80 911.56 439.31 C913.50 437.82 915.44 436.25 917.38 434.60 C919.32 432.95 922.23 430.27 923.20 429.40"/></g>
<path d="M574.00 447.00V443.00M574.00 28.00V32.00M690.40 447.00V443.00M690.40 28.00V32.00M806.80 447.00V443.00M806.80 28.00V32.00M923.20 447.00V443.00M923.20 28.00V32.00M574.00 447.00H578.00M923.20 447.00H919.20M574.00 342.25H578.00M923.20 342.25H919.20M574.00 237.50H578.00M923.20 237.50H919.20M574.00 132.75H578.00M923.20 132.75H919.20M574.00 28.00H578.00M923.20 28.00H919.20" stroke="#000" stroke-width="2" fill="none"/>
<rect x="574.00" y="28.00" width="349.20" height="419.00" fill="none" stroke="#000" stroke-width="3.2" stroke-linejoin="round"/>
<text x="566.60" y="461.30" font-family="Liberation Serif" font-size="42" text-anchor="end">0</text>
<text x="566.60" y="356.55" font-family="Liberation Serif" font-size="42" text-anchor="end">0.5</text>
<text x="566.60" y="251.80" font-family="Liberation Serif" font-size="42" text-anchor="end">1</text>
<text x="566.60" y="147.05" font-family="Liberation Serif" font-size="42" text-anchor="end">1.5</text>
<text x="566.60" y="42.30" font-family="Liberation Serif" font-size="42" text-anchor="end">2</text>
<text x="574.00" y="490.80" font-family="Liberation Serif" font-size="42" text-anchor="middle">0</text>
<text x="690.40" y="490.80" font-family="Liberation Serif" font-size="42" text-anchor="middle">1</text>
<text x="806.80" y="490.80" font-family="Liberation Serif" font-size="42" text-anchor="middle">2</text>
<text x="923.20" y="490.80" font-family="Liberation Serif" font-size="42" text-anchor="middle">3</text>
<g transform="translate(459.70 0.00)" fill="none" stroke="#000" stroke-linecap="round"><path stroke-width="2.5" d="M290.3 504.5 C289.5 507.7 287.2 516.5 285.9 521.6 C285.2 524.2 284.6 526.3 284.45 528"/><path stroke-width="1.6" d="M284.45 527.6 C284.3 530 285.6 531.2 287.4 531.2 C289.6 531.2 291.5 529.2 292.7 527.3 C293.3 526.3 293.8 525.5 294.1 524.8"/><path stroke-width="1.4" stroke-linecap="butt" d="M281.2 512.7 H295.0"/></g>
<g transform="translate(459.70 0.00)" fill="none" stroke="#000" stroke-linecap="round"><path stroke-width="1.9" d="M43.95 234.1 C38 232.6 30 230.56 25 229.2 C21.4 228.13 19.5 227.7 18.56 227.99 C16.9 228.5 15.6 230.6 15.56 232.84 C15.5 235 16.8 237.3 18.84 238.83 C20 239.7 21.5 240.1 22.84 240.55 C26.5 241.8 30.5 243.1 34.25 244.4"/><path stroke-width="1.1" d="M18.84 239.6 C17.2 240.3 15.9 241.6 15.7 243.6 C15.6 245.3 16.4 246.3 17.6 246.8 C18.9 247.3 20.3 247.5 21.7 247.4"/><circle cx="43.6" cy="234.0" r="1.25" fill="#000" stroke="none"/><circle cx="33.9" cy="244.3" r="1.15" fill="#000" stroke="none"/></g>
<text transform="translate(598.20 89.70) scale(0.93 1)" font-family="Liberation Serif" font-size="41.5">V</text>
<text x="626.80" y="109.00" font-family="Liberation Serif" font-size="31">b</text>
<rect x="642.20" y="72.90" width="15.5" height="2.6" fill="#000"/><rect x="642.20" y="81.20" width="15.5" height="2.6" fill="#000"/>
<text x="663.20" y="88.50" font-family="Liberation Serif" font-size="42">0.2</text>
<line x1="1149.80" y1="447.00" x2="1149.80" y2="28.00" stroke="#222" stroke-width="2" stroke-dasharray="2 10.77" stroke-dashoffset="-12.3"/>
<line x1="1266.20" y1="447.00" x2="1266.20" y2="28.00" stroke="#222" stroke-width="2" stroke-dasharray="2 10.77" stroke-dashoffset="-12.3"/>
<line x1="1033.40" y1="342.25" x2="1382.60" y2="342.25" stroke="#222" stroke-width="2" stroke-dasharray="2 10.77" stroke-dashoffset="-12.7"/>
<line x1="1033.40" y1="237.50" x2="1382.60" y2="237.50" stroke="#222" stroke-width="2" stroke-dasharray="2 10.77" stroke-dashoffset="-12.7"/>
<line x1="1033.40" y1="132.75" x2="1382.60" y2="132.75" stroke="#222" stroke-width="2" stroke-dasharray="2 10.77" stroke-dashoffset="-12.7"/>
<g clip-path="url(#c02)" fill="none" stroke="#000" stroke-width="6.40" stroke-linejoin="round" stroke-linecap="round"><path d="M1033.40 446.48 C1034.37 445.63 1037.28 443.05 1039.22 441.43 C1041.16 439.80 1043.10 438.25 1045.04 436.73 C1046.98 435.22 1048.92 433.78 1050.86 432.36 C1052.80 430.93 1054.74 429.54 1056.68 428.19 C1058.62 426.83 1060.56 425.52 1062.50 424.23 C1064.44 422.93 1066.38 421.66 1068.32 420.41 C1070.26 419.16 1072.20 417.94 1074.14 416.73 C1076.08 415.52 1078.02 414.34 1079.96 413.17 C1081.90 411.99 1083.84 410.84 1085.78 409.69 C1087.72 408.54 1089.66 407.39 1091.60 406.25 C1093.54 405.11 1095.48 403.99 1097.42 402.86 C1099.36 401.72 1101.30 400.59 1103.24 399.44 C1105.18 398.29 1107.12 397.14 1109.06 395.97 C1111.00 394.79 1112.94 393.61 1114.88 392.38 C1116.82 391.16 1118.76 389.92 1120.70 388.63 C1122.64 387.34 1124.58 386.02 1126.52 384.65 C1128.46 383.29 1130.40 381.89 1132.34 380.44 C1134.28 379.00 1136.22 377.51 1138.16 375.98 C1140.10 374.45 1142.04 372.89 1143.98 371.29 C1145.92 369.69 1147.86 368.04 1149.80 366.38 C1151.74 364.73 1153.68 363.06 1155.62 361.38 C1157.56 359.70 1159.50 357.99 1161.44 356.31 C1163.38 354.62 1165.32 352.92 1167.26 351.26 C1169.20 349.59 1171.14 347.94 1173.08 346.31 C1175.02 344.69 1176.96 343.09 1178.90 341.52 C1180.84 339.95 1182.78 338.40 1184.72 336.89 C1186.66 335.37 1188.60 333.89 1190.54 332.42 C1192.48 330.96 1194.42 329.52 1196.36 328.11 C1198.30 326.70 1200.24 325.32 1202.18 323.96 C1204.12 322.60 1206.06 321.27 1208.00 319.96 C1209.94 318.65 1211.88 317.36 1213.82 316.08 C1215.76 314.81 1217.70 313.56 1219.64 312.31 C1221.58 311.07 1223.52 309.85 1225.46 308.63 C1227.40 307.40 1229.34 306.18 1231.28 304.96 C1233.22 303.73 1235.16 302.52 1237.10 301.27 C1239.04 300.03 1240.98 298.78 1242.92 297.48 C1244.86 296.18 1246.80 294.88 1248.74 293.50 C1250.68 292.12 1252.62 290.71 1254.56 289.23 C1256.50 287.75 1258.44 286.22 1260.38 284.62 C1262.32 283.01 1264.26 281.34 1266.20 279.59 C1268.14 277.83 1270.08 275.99 1272.02 274.08 C1273.96 272.17 1275.90 270.19 1277.84 268.13 C1279.78 266.07 1281.72 263.93 1283.66 261.74 C1285.60 259.55 1287.54 257.28 1289.48 254.97 C1291.42 252.66 1293.36 250.29 1295.30 247.89 C1297.24 245.49 1299.18 243.05 1301.12 240.58 C1303.06 238.11 1305.00 235.60 1306.94 233.08 C1308.88 230.56 1310.82 228.02 1312.76 225.43 C1314.70 222.85 1316.64 220.23 1318.58 217.58 C1320.52 214.92 1322.46 212.22 1324.40 209.49 C1326.34 206.76 1328.28 203.97 1330.22 201.17 C1332.16 198.37 1334.10 195.53 1336.04 192.69 C1337.98 189.85 1339.92 186.96 1341.86 184.14 C1343.80 181.32 1345.74 178.49 1347.68 175.76 C1349.62 173.03 1351.56 170.32 1353.50 167.76 C1355.44 165.19 1357.38 162.71 1359.32 160.38 C1361.26 158.06 1363.20 155.85 1365.14 153.83 C1367.08 151.80 1369.02 149.91 1370.96 148.21 C1372.90 146.51 1374.84 144.98 1376.78 143.64 C1378.72 142.30 1381.63 140.75 1382.60 140.17"/><path d="M1056.68 446.37 C1057.65 445.78 1060.56 443.99 1062.50 442.85 C1064.44 441.71 1066.38 440.62 1068.32 439.54 C1070.26 438.47 1072.20 437.42 1074.14 436.40 C1076.08 435.38 1078.02 434.38 1079.96 433.40 C1081.90 432.42 1083.84 431.47 1085.78 430.51 C1087.72 429.56 1089.66 428.62 1091.60 427.68 C1093.54 426.74 1095.48 425.83 1097.42 424.88 C1099.36 423.93 1101.30 422.97 1103.24 421.99 C1105.18 421.00 1107.12 420.01 1109.06 418.97 C1111.00 417.92 1112.94 416.86 1114.88 415.72 C1116.82 414.59 1118.76 413.41 1120.70 412.16 C1122.64 410.91 1124.58 409.62 1126.52 408.24 C1128.46 406.86 1130.40 405.41 1132.34 403.88 C1134.28 402.36 1136.22 400.75 1138.16 399.07 C1140.10 397.39 1142.04 395.63 1143.98 393.81 C1145.92 391.99 1147.86 390.09 1149.80 388.15 C1151.74 386.22 1153.68 384.22 1155.62 382.20 C1157.56 380.19 1159.50 378.11 1161.44 376.06 C1163.38 374.02 1165.32 371.96 1167.26 369.92 C1169.20 367.89 1171.14 365.85 1173.08 363.87 C1175.02 361.89 1176.96 359.94 1178.90 358.05 C1180.84 356.15 1182.78 354.29 1184.72 352.49 C1186.66 350.70 1188.60 348.95 1190.54 347.26 C1192.48 345.56 1194.42 343.92 1196.36 342.31 C1198.30 340.71 1200.24 339.16 1202.18 337.64 C1204.12 336.13 1206.06 334.66 1208.00 333.22 C1209.94 331.78 1211.88 330.37 1213.82 328.99 C1215.76 327.61 1217.70 326.26 1219.64 324.92 C1221.58 323.59 1223.52 322.27 1225.46 320.96 C1227.40 319.66 1229.34 318.39 1231.28 317.09 C1233.22 315.79 1235.16 314.49 1237.10 313.17 C1239.04 311.86 1240.98 310.55 1242.92 309.19 C1244.86 307.84 1246.80 306.47 1248.74 305.04 C1250.68 303.61 1252.62 302.15 1254.56 300.62 C1256.50 299.10 1258.44 297.54 1260.38 295.89 C1262.32 294.24 1264.26 292.53 1266.20 290.73 C1268.14 288.94 1270.08 287.09 1272.02 285.14 C1273.96 283.20 1275.90 281.16 1277.84 279.06 C1279.78 276.97 1281.72 274.79 1283.66 272.55 C1285.60 270.31 1287.54 267.99 1289.48 265.64 C1291.42 263.28 1293.36 260.85 1295.30 258.41 C1297.24 255.96 1299.18 253.47 1301.12 250.97 C1303.06 248.47 1305.00 245.94 1306.94 243.41 C1308.88 240.88 1310.82 238.34 1312.76 235.78 C1314.70 233.23 1316.64 230.65 1318.58 228.07 C1320.52 225.49 1322.46 222.91 1324.40 220.30 C1326.34 217.69 1328.28 215.07 1330.22 212.42 C1332.16 209.78 1334.10 207.11 1336.04 204.44 C1337.98 201.78 1339.92 199.08 1341.86 196.44 C1343.80 193.79 1345.74 191.14 1347.68 188.56 C1349.62 185.98 1351.56 183.42 1353.50 180.98 C1355.44 178.54 1357.38 176.15 1359.32 173.92 C1361.26 171.68 1363.20 169.53 1365.14 167.55 C1367.08 165.57 1369.02 163.72 1370.96 162.04 C1372.90 160.36 1374.84 158.83 1376.78 157.47 C1378.72 156.12 1381.63 154.50 1382.60 153.91"/><path d="M1079.96 446.52 C1080.93 446.11 1083.84 444.86 1085.78 444.05 C1087.72 443.23 1089.66 442.43 1091.60 441.62 C1093.54 440.81 1095.48 440.01 1097.42 439.19 C1099.36 438.36 1101.30 437.54 1103.24 436.67 C1105.18 435.80 1107.12 434.92 1109.06 433.97 C1111.00 433.02 1112.94 432.03 1114.88 430.97 C1116.82 429.91 1118.76 428.80 1120.70 427.60 C1122.64 426.40 1124.58 425.12 1126.52 423.75 C1128.46 422.37 1130.40 420.91 1132.34 419.35 C1134.28 417.78 1136.22 416.12 1138.16 414.36 C1140.10 412.60 1142.04 410.73 1143.98 408.79 C1145.92 406.84 1147.86 404.79 1149.80 402.69 C1151.74 400.59 1153.68 398.40 1155.62 396.18 C1157.56 393.95 1159.50 391.66 1161.44 389.37 C1163.38 387.08 1165.32 384.73 1167.26 382.43 C1169.20 380.13 1171.14 377.83 1173.08 375.58 C1175.02 373.34 1176.96 371.11 1178.90 368.96 C1180.84 366.81 1182.78 364.70 1184.72 362.68 C1186.66 360.65 1188.60 358.68 1190.54 356.79 C1192.48 354.90 1194.42 353.08 1196.36 351.32 C1198.30 349.56 1200.24 347.87 1202.18 346.23 C1204.12 344.59 1206.06 343.01 1208.00 341.47 C1209.94 339.94 1211.88 338.45 1213.82 336.99 C1215.76 335.53 1217.70 334.12 1219.64 332.72 C1221.58 331.32 1223.52 329.95 1225.46 328.59 C1227.40 327.23 1229.34 325.91 1231.28 324.57 C1233.22 323.23 1235.16 321.91 1237.10 320.57 C1239.04 319.22 1240.98 317.86 1242.92 316.48 C1244.86 315.10 1246.80 313.72 1248.74 312.27 C1250.68 310.82 1252.62 309.35 1254.56 307.81 C1256.50 306.27 1258.44 304.69 1260.38 303.03 C1262.32 301.37 1264.26 299.66 1266.20 297.86 C1268.14 296.06 1270.08 294.19 1272.02 292.24 C1273.96 290.29 1275.90 288.25 1277.84 286.15 C1279.78 284.04 1281.72 281.84 1283.66 279.59 C1285.60 277.34 1287.54 275.01 1289.48 272.63 C1291.42 270.26 1293.36 267.81 1295.30 265.34 C1297.24 262.88 1299.18 260.36 1301.12 257.84 C1303.06 255.32 1305.00 252.76 1306.94 250.22 C1308.88 247.67 1310.82 245.12 1312.76 242.57 C1314.70 240.02 1316.64 237.45 1318.58 234.90 C1320.52 232.35 1322.46 229.83 1324.40 227.28 C1326.34 224.73 1328.28 222.17 1330.22 219.61 C1332.16 217.05 1334.10 214.48 1336.04 211.92 C1337.98 209.36 1339.92 206.79 1341.86 204.25 C1343.80 201.72 1345.74 199.18 1347.68 196.71 C1349.62 194.24 1351.56 191.79 1353.50 189.44 C1355.44 187.09 1357.38 184.79 1359.32 182.61 C1361.26 180.44 1363.20 178.33 1365.14 176.39 C1367.08 174.45 1369.02 172.62 1370.96 170.96 C1372.90 169.30 1374.84 167.78 1376.78 166.42 C1378.72 165.05 1381.63 163.40 1382.60 162.79"/><path d="M1103.24 446.77 C1104.21 446.36 1107.12 445.18 1109.06 444.30 C1111.00 443.42 1112.94 442.50 1114.88 441.49 C1116.82 440.48 1118.76 439.42 1120.70 438.24 C1122.64 437.07 1124.58 435.82 1126.52 434.45 C1128.46 433.08 1130.40 431.61 1132.34 430.03 C1134.28 428.45 1136.22 426.76 1138.16 424.96 C1140.10 423.16 1142.04 421.23 1143.98 419.22 C1145.92 417.21 1147.86 415.08 1149.80 412.87 C1151.74 410.67 1153.68 408.34 1155.62 405.98 C1157.56 403.62 1159.50 401.18 1161.44 398.73 C1163.38 396.28 1165.32 393.77 1167.26 391.29 C1169.20 388.82 1171.14 386.31 1173.08 383.88 C1175.02 381.44 1176.96 379.03 1178.90 376.69 C1180.84 374.35 1182.78 372.04 1184.72 369.84 C1186.66 367.64 1188.60 365.52 1190.54 363.47 C1192.48 361.43 1194.42 359.46 1196.36 357.56 C1198.30 355.67 1200.24 353.86 1202.18 352.12 C1204.12 350.37 1206.06 348.71 1208.00 347.09 C1209.94 345.47 1211.88 343.92 1213.82 342.40 C1215.76 340.88 1217.70 339.42 1219.64 337.98 C1221.58 336.53 1223.52 335.12 1225.46 333.72 C1227.40 332.33 1229.34 330.98 1231.28 329.62 C1233.22 328.25 1235.16 326.90 1237.10 325.53 C1239.04 324.16 1240.98 322.80 1242.92 321.40 C1244.86 320.01 1246.80 318.60 1248.74 317.15 C1250.68 315.70 1252.62 314.23 1254.56 312.69 C1256.50 311.15 1258.44 309.55 1260.38 307.89 C1262.32 306.23 1264.26 304.52 1266.20 302.72 C1268.14 300.92 1270.08 299.05 1272.02 297.10 C1273.96 295.15 1275.90 293.13 1277.84 291.03 C1279.78 288.92 1281.72 286.73 1283.66 284.47 C1285.60 282.21 1287.54 279.87 1289.48 277.49 C1291.42 275.11 1293.36 272.66 1295.30 270.18 C1297.24 267.71 1299.18 265.17 1301.12 262.64 C1303.06 260.11 1305.00 257.55 1306.94 254.99 C1308.88 252.44 1310.82 249.88 1312.76 247.33 C1314.70 244.77 1316.64 242.21 1318.58 239.68 C1320.52 237.14 1322.46 234.63 1324.40 232.12 C1326.34 229.60 1328.28 227.08 1330.22 224.57 C1332.16 222.07 1334.10 219.56 1336.04 217.07 C1337.98 214.58 1339.92 212.10 1341.86 209.64 C1343.80 207.17 1345.74 204.70 1347.68 202.30 C1349.62 199.91 1351.56 197.53 1353.50 195.24 C1355.44 192.96 1357.38 190.70 1359.32 188.58 C1361.26 186.46 1363.20 184.41 1365.14 182.51 C1367.08 180.60 1369.02 178.79 1370.96 177.14 C1372.90 175.49 1374.84 173.98 1376.78 172.62 C1378.72 171.26 1381.63 169.58 1382.60 168.97"/><path d="M1126.52 446.96 C1127.49 446.23 1130.40 444.16 1132.34 442.58 C1134.28 440.99 1136.22 439.29 1138.16 437.45 C1140.10 435.61 1142.04 433.63 1143.98 431.54 C1145.92 429.45 1147.86 427.23 1149.80 424.92 C1151.74 422.61 1153.68 420.17 1155.62 417.67 C1157.56 415.17 1159.50 412.56 1161.44 409.94 C1163.38 407.32 1165.32 404.61 1167.26 401.94 C1169.20 399.26 1171.14 396.53 1173.08 393.87 C1175.02 391.21 1176.96 388.56 1178.90 385.99 C1180.84 383.43 1182.78 380.90 1184.72 378.47 C1186.66 376.05 1188.60 373.70 1190.54 371.45 C1192.48 369.21 1194.42 367.06 1196.36 365.00 C1198.30 362.94 1200.24 360.98 1202.18 359.09 C1204.12 357.21 1206.06 355.42 1208.00 353.69 C1209.94 351.96 1211.88 350.31 1213.82 348.70 C1215.76 347.10 1217.70 345.56 1219.64 344.05 C1221.58 342.55 1223.52 341.11 1225.46 339.67 C1227.40 338.24 1229.34 336.84 1231.28 335.44 C1233.22 334.04 1235.16 332.66 1237.10 331.27 C1239.04 329.88 1240.98 328.51 1242.92 327.10 C1244.86 325.70 1246.80 324.29 1248.74 322.83 C1250.68 321.37 1252.62 319.89 1254.56 318.35 C1256.50 316.80 1258.44 315.21 1260.38 313.55 C1262.32 311.89 1264.26 310.18 1266.20 308.39 C1268.14 306.61 1270.08 304.76 1272.02 302.82 C1273.96 300.88 1275.90 298.87 1277.84 296.77 C1279.78 294.67 1281.72 292.48 1283.66 290.23 C1285.60 287.98 1287.54 285.65 1289.48 283.28 C1291.42 280.90 1293.36 278.44 1295.30 275.96 C1297.24 273.49 1299.18 270.94 1301.12 268.40 C1303.06 265.86 1305.00 263.28 1306.94 260.71 C1308.88 258.15 1310.82 255.58 1312.76 253.02 C1314.70 250.47 1316.64 247.91 1318.58 245.38 C1320.52 242.85 1322.46 240.34 1324.40 237.86 C1326.34 235.37 1328.28 232.92 1330.22 230.46 C1332.16 228.01 1334.10 225.55 1336.04 223.13 C1337.98 220.71 1339.92 218.30 1341.86 215.92 C1343.80 213.54 1345.74 211.17 1347.68 208.86 C1349.62 206.55 1351.56 204.26 1353.50 202.05 C1355.44 199.85 1357.38 197.68 1359.32 195.62 C1361.26 193.56 1363.20 191.56 1365.14 189.69 C1367.08 187.83 1369.02 186.06 1370.96 184.43 C1372.90 182.81 1374.84 181.31 1376.78 179.95 C1378.72 178.59 1381.63 176.90 1382.60 176.28"/><path d="M1149.80 447.00 C1150.77 445.70 1153.68 441.91 1155.62 439.21 C1157.56 436.50 1159.50 433.67 1161.44 430.78 C1163.38 427.90 1165.32 424.88 1167.26 421.88 C1169.20 418.88 1171.14 415.80 1173.08 412.77 C1175.02 409.74 1176.96 406.67 1178.90 403.70 C1180.84 400.72 1182.78 397.77 1184.72 394.94 C1186.66 392.10 1188.60 389.33 1190.54 386.68 C1192.48 384.04 1194.42 381.50 1196.36 379.08 C1198.30 376.66 1200.24 374.38 1202.18 372.19 C1204.12 370.00 1206.06 367.92 1208.00 365.94 C1209.94 363.96 1211.88 362.10 1213.82 360.31 C1215.76 358.51 1217.70 356.82 1219.64 355.18 C1221.58 353.53 1223.52 351.96 1225.46 350.42 C1227.40 348.88 1229.34 347.41 1231.28 345.94 C1233.22 344.47 1235.16 343.03 1237.10 341.60 C1239.04 340.17 1240.98 338.78 1242.92 337.35 C1244.86 335.92 1246.80 334.48 1248.74 333.01 C1250.68 331.54 1252.62 330.06 1254.56 328.53 C1256.50 326.99 1258.44 325.43 1260.38 323.79 C1262.32 322.16 1264.26 320.48 1266.20 318.72 C1268.14 316.96 1270.08 315.14 1272.02 313.23 C1273.96 311.33 1275.90 309.36 1277.84 307.31 C1279.78 305.25 1281.72 303.11 1283.66 300.89 C1285.60 298.68 1287.54 296.38 1289.48 294.02 C1291.42 291.67 1293.36 289.24 1295.30 286.77 C1297.24 284.31 1299.18 281.77 1301.12 279.23 C1303.06 276.69 1305.00 274.11 1306.94 271.54 C1308.88 268.98 1310.82 266.39 1312.76 263.83 C1314.70 261.27 1316.64 258.70 1318.58 256.19 C1320.52 253.67 1322.46 251.18 1324.40 248.73 C1326.34 246.27 1328.28 243.84 1330.22 241.46 C1332.16 239.07 1334.10 236.74 1336.04 234.42 C1337.98 232.11 1339.92 229.81 1341.86 227.57 C1343.80 225.32 1345.74 223.11 1347.68 220.95 C1349.62 218.78 1351.56 216.64 1353.50 214.58 C1355.44 212.52 1357.38 210.50 1359.32 208.57 C1361.26 206.63 1363.20 204.74 1365.14 202.97 C1367.08 201.21 1369.02 199.53 1370.96 197.97 C1372.90 196.40 1374.84 194.93 1376.78 193.59 C1378.72 192.25 1381.63 190.53 1382.60 189.92"/><path d="M1173.08 446.96 C1174.05 445.17 1176.96 439.81 1178.90 436.25 C1180.84 432.69 1182.78 429.09 1184.72 425.61 C1186.66 422.13 1188.60 418.67 1190.54 415.34 C1192.48 412.02 1194.42 408.78 1196.36 405.69 C1198.30 402.60 1200.24 399.62 1202.18 396.80 C1204.12 393.99 1206.06 391.33 1208.00 388.80 C1209.94 386.28 1211.88 383.91 1213.82 381.66 C1215.76 379.41 1217.70 377.31 1219.64 375.31 C1221.58 373.30 1223.52 371.44 1225.46 369.63 C1227.40 367.82 1229.34 366.12 1231.28 364.46 C1233.22 362.79 1235.16 361.22 1237.10 359.66 C1239.04 358.10 1240.98 356.61 1242.92 355.11 C1244.86 353.61 1246.80 352.14 1248.74 350.65 C1250.68 349.16 1252.62 347.69 1254.56 346.17 C1256.50 344.65 1258.44 343.12 1260.38 341.54 C1262.32 339.96 1264.26 338.35 1266.20 336.68 C1268.14 335.00 1270.08 333.28 1272.02 331.48 C1273.96 329.68 1275.90 327.81 1277.84 325.87 C1279.78 323.93 1281.72 321.92 1283.66 319.83 C1285.60 317.75 1287.54 315.59 1289.48 313.36 C1291.42 311.13 1293.36 308.82 1295.30 306.47 C1297.24 304.11 1299.18 301.67 1301.12 299.22 C1303.06 296.77 1305.00 294.27 1306.94 291.76 C1308.88 289.25 1310.82 286.70 1312.76 284.18 C1314.70 281.65 1316.64 279.11 1318.58 276.61 C1320.52 274.12 1322.46 271.64 1324.40 269.22 C1326.34 266.80 1328.28 264.41 1330.22 262.10 C1332.16 259.78 1334.10 257.51 1336.04 255.31 C1337.98 253.10 1339.92 250.94 1341.86 248.85 C1343.80 246.77 1345.74 244.75 1347.68 242.78 C1349.62 240.81 1351.56 238.91 1353.50 237.06 C1355.44 235.21 1357.38 233.42 1359.32 231.70 C1361.26 229.98 1363.20 228.31 1365.14 226.73 C1367.08 225.15 1369.02 223.63 1370.96 222.21 C1372.90 220.78 1374.84 219.43 1376.78 218.16 C1378.72 216.90 1381.63 215.21 1382.60 214.62"/><path d="M1196.36 446.94 C1197.33 445.05 1200.24 439.26 1202.18 435.62 C1204.12 431.99 1206.06 428.47 1208.00 425.13 C1209.94 421.79 1211.88 418.60 1213.82 415.60 C1215.76 412.59 1217.70 409.77 1219.64 407.09 C1221.58 404.41 1223.52 401.90 1225.46 399.53 C1227.40 397.15 1229.34 394.95 1231.28 392.84 C1233.22 390.74 1235.16 388.77 1237.10 386.87 C1239.04 384.98 1240.98 383.20 1242.92 381.47 C1244.86 379.74 1246.80 378.11 1248.74 376.48 C1250.68 374.86 1252.62 373.29 1254.56 371.73 C1256.50 370.16 1258.44 368.63 1260.38 367.08 C1262.32 365.52 1264.26 363.99 1266.20 362.40 C1268.14 360.82 1270.08 359.23 1272.02 357.59 C1273.96 355.94 1275.90 354.28 1277.84 352.56 C1279.78 350.83 1281.72 349.06 1283.66 347.24 C1285.60 345.41 1287.54 343.54 1289.48 341.60 C1291.42 339.66 1293.36 337.66 1295.30 335.61 C1297.24 333.56 1299.18 331.45 1301.12 329.30 C1303.06 327.16 1305.00 324.95 1306.94 322.72 C1308.88 320.50 1310.82 318.21 1312.76 315.94 C1314.70 313.66 1316.64 311.35 1318.58 309.07 C1320.52 306.78 1322.46 304.47 1324.40 302.21 C1326.34 299.96 1328.28 297.70 1330.22 295.51 C1332.16 293.32 1334.10 291.16 1336.04 289.06 C1337.98 286.96 1339.92 284.90 1341.86 282.92 C1343.80 280.94 1345.74 279.02 1347.68 277.18 C1349.62 275.34 1351.56 273.56 1353.50 271.86 C1355.44 270.15 1357.38 268.52 1359.32 266.96 C1361.26 265.39 1363.20 263.89 1365.14 262.45 C1367.08 261.01 1369.02 259.64 1370.96 258.32 C1372.90 257.01 1374.84 255.75 1376.78 254.55 C1378.72 253.36 1381.63 251.71 1382.60 251.14"/><path d="M1219.64 447.00 C1220.61 445.40 1223.52 440.43 1225.46 437.40 C1227.40 434.38 1229.34 431.53 1231.28 428.84 C1233.22 426.14 1235.16 423.62 1237.10 421.23 C1239.04 418.84 1240.98 416.62 1242.92 414.49 C1244.86 412.35 1246.80 410.36 1248.74 408.43 C1250.68 406.50 1252.62 404.69 1254.56 402.92 C1256.50 401.15 1258.44 399.49 1260.38 397.83 C1262.32 396.18 1264.26 394.58 1266.20 392.99 C1268.14 391.40 1270.08 389.86 1272.02 388.30 C1273.96 386.74 1275.90 385.19 1277.84 383.63 C1279.78 382.07 1281.72 380.52 1283.66 378.93 C1285.60 377.35 1287.54 375.74 1289.48 374.11 C1291.42 372.49 1293.36 370.86 1295.30 369.19 C1297.24 367.52 1299.18 365.82 1301.12 364.10 C1303.06 362.38 1305.00 360.63 1306.94 358.86 C1308.88 357.10 1310.82 355.31 1312.76 353.52 C1314.70 351.73 1316.64 349.92 1318.58 348.12 C1320.52 346.31 1322.46 344.48 1324.40 342.67 C1326.34 340.86 1328.28 339.03 1330.22 337.24 C1332.16 335.45 1334.10 333.67 1336.04 331.92 C1337.98 330.17 1339.92 328.43 1341.86 326.73 C1343.80 325.02 1345.74 323.34 1347.68 321.70 C1349.62 320.05 1351.56 318.44 1353.50 316.86 C1355.44 315.28 1357.38 313.72 1359.32 312.21 C1361.26 310.69 1363.20 309.22 1365.14 307.77 C1367.08 306.32 1369.02 304.91 1370.96 303.51 C1372.90 302.12 1374.84 300.75 1376.78 299.41 C1378.72 298.06 1381.63 296.11 1382.60 295.45"/><path d="M1242.92 447.00 C1243.89 445.84 1246.80 442.26 1248.74 440.07 C1250.68 437.87 1252.62 435.80 1254.56 433.82 C1256.50 431.84 1258.44 429.99 1260.38 428.19 C1262.32 426.39 1264.26 424.69 1266.20 423.03 C1268.14 421.37 1270.08 419.79 1272.02 418.24 C1273.96 416.68 1275.90 415.18 1277.84 413.69 C1279.78 412.20 1281.72 410.74 1283.66 409.29 C1285.60 407.84 1287.54 406.42 1289.48 405.00 C1291.42 403.57 1293.36 402.16 1295.30 400.74 C1297.24 399.33 1299.18 397.92 1301.12 396.51 C1303.06 395.10 1305.00 393.70 1306.94 392.30 C1308.88 390.90 1310.82 389.51 1312.76 388.11 C1314.70 386.71 1316.64 385.31 1318.58 383.92 C1320.52 382.53 1322.46 381.15 1324.40 379.77 C1326.34 378.40 1328.28 377.03 1330.22 375.67 C1332.16 374.30 1334.10 372.95 1336.04 371.60 C1337.98 370.25 1339.92 368.92 1341.86 367.58 C1343.80 366.24 1345.74 364.91 1347.68 363.58 C1349.62 362.24 1351.56 360.91 1353.50 359.58 C1355.44 358.24 1357.38 356.90 1359.32 355.55 C1361.26 354.20 1363.20 352.85 1365.14 351.47 C1367.08 350.09 1369.02 348.68 1370.96 347.26 C1372.90 345.84 1374.84 344.40 1376.78 342.94 C1378.72 341.48 1381.63 339.22 1382.60 338.48"/><path d="M1266.20 447.00 C1267.17 446.20 1270.08 443.72 1272.02 442.18 C1273.96 440.64 1275.90 439.18 1277.84 437.74 C1279.78 436.31 1281.72 434.92 1283.66 433.57 C1285.60 432.22 1287.54 430.93 1289.48 429.65 C1291.42 428.38 1293.36 427.14 1295.30 425.90 C1297.24 424.67 1299.18 423.45 1301.12 422.26 C1303.06 421.06 1305.00 419.89 1306.94 418.74 C1308.88 417.58 1310.82 416.45 1312.76 415.32 C1314.70 414.19 1316.64 413.06 1318.58 411.95 C1320.52 410.84 1322.46 409.75 1324.40 408.66 C1326.34 407.57 1328.28 406.48 1330.22 405.39 C1332.16 404.31 1334.10 403.24 1336.04 402.15 C1337.98 401.06 1339.92 399.96 1341.86 398.86 C1343.80 397.75 1345.74 396.64 1347.68 395.50 C1349.62 394.37 1351.56 393.22 1353.50 392.03 C1355.44 390.84 1357.38 389.62 1359.32 388.36 C1361.26 387.10 1363.20 385.81 1365.14 384.46 C1367.08 383.12 1369.02 381.74 1370.96 380.30 C1372.90 378.85 1374.84 377.34 1376.78 375.79 C1378.72 374.24 1381.63 371.78 1382.60 370.97"/><path d="M1289.48 446.94 C1290.45 446.37 1293.36 444.64 1295.30 443.54 C1297.24 442.45 1299.18 441.39 1301.12 440.36 C1303.06 439.33 1305.00 438.32 1306.94 437.34 C1308.88 436.36 1310.82 435.41 1312.76 434.47 C1314.70 433.53 1316.64 432.60 1318.58 431.69 C1320.52 430.77 1322.46 429.88 1324.40 428.98 C1326.34 428.09 1328.28 427.22 1330.22 426.32 C1332.16 425.43 1334.10 424.53 1336.04 423.62 C1337.98 422.71 1339.92 421.80 1341.86 420.85 C1343.80 419.90 1345.74 418.94 1347.68 417.92 C1349.62 416.91 1351.56 415.86 1353.50 414.76 C1355.44 413.65 1357.38 412.52 1359.32 411.30 C1361.26 410.08 1363.20 408.80 1365.14 407.45 C1367.08 406.09 1369.02 404.67 1370.96 403.17 C1372.90 401.67 1374.84 400.09 1376.78 398.44 C1378.72 396.78 1381.63 394.11 1382.60 393.24"/><path d="M1312.76 446.92 C1313.73 446.52 1316.64 445.31 1318.58 444.53 C1320.52 443.75 1322.46 443.01 1324.40 442.24 C1326.34 441.48 1328.28 440.73 1330.22 439.96 C1332.16 439.19 1334.10 438.43 1336.04 437.64 C1337.98 436.84 1339.92 436.05 1341.86 435.21 C1343.80 434.36 1345.74 433.50 1347.68 432.57 C1349.62 431.63 1351.56 430.66 1353.50 429.61 C1355.44 428.56 1357.38 427.47 1359.32 426.28 C1361.26 425.09 1363.20 423.83 1365.14 422.47 C1367.08 421.11 1369.02 419.67 1370.96 418.13 C1372.90 416.59 1374.84 414.96 1376.78 413.23 C1378.72 411.50 1381.63 408.67 1382.60 407.76"/><path d="M1336.04 447.00 C1337.01 446.64 1339.92 445.63 1341.86 444.86 C1343.80 444.10 1345.74 443.28 1347.68 442.41 C1349.62 441.54 1351.56 440.63 1353.50 439.63 C1355.44 438.62 1357.38 437.55 1359.32 436.38 C1361.26 435.21 1363.20 433.97 1365.14 432.61 C1367.08 431.25 1369.02 429.79 1370.96 428.23 C1372.90 426.66 1374.84 425.00 1376.78 423.22 C1378.72 421.45 1381.63 418.53 1382.60 417.59"/><path d="M1359.32 447.00 C1360.29 446.45 1363.20 444.97 1365.14 443.69 C1367.08 442.40 1369.02 440.88 1370.96 439.29 C1372.90 437.71 1374.84 436.00 1376.78 434.18 C1378.72 432.36 1381.63 429.33 1382.60 428.35"/></g>
<path d="M1033.40 447.00V443.00M1033.40 28.00V32.00M1149.80 447.00V443.00M1149.80 28.00V32.00M1266.20 447.00V443.00M1266.20 28.00V32.00M1382.60 447.00V443.00M1382.60 28.00V32.00M1033.40 447.00H1037.40M1382.60 447.00H1378.60M1033.40 342.25H1037.40M1382.60 342.25H1378.60M1033.40 237.50H1037.40M1382.60 237.50H1378.60M1033.40 132.75H1037.40M1382.60 132.75H1378.60M1033.40 28.00H1037.40M1382.60 28.00H1378.60" stroke="#000" stroke-width="2" fill="none"/>
<rect x="1033.40" y="28.00" width="349.20" height="419.00" fill="none" stroke="#000" stroke-width="3.2" stroke-linejoin="round"/>
<text x="1026.00" y="461.30" font-family="Liberation Serif" font-size="42" text-anchor="end">0</text>
<text x="1026.00" y="356.55" font-family="Liberation Serif" font-size="42" text-anchor="end">0.5</text>
<text x="1026.00" y="251.80" font-family="Liberation Serif" font-size="42" text-anchor="end">1</text>
<text x="1026.00" y="147.05" font-family="Liberation Serif" font-size="42" text-anchor="end">1.5</text>
<text x="1026.00" y="42.30" font-family="Liberation Serif" font-size="42" text-anchor="end">2</text>
<text x="1033.40" y="490.80" font-family="Liberation Serif" font-size="42" text-anchor="middle">0</text>
<text x="1149.80" y="490.80" font-family="Liberation Serif" font-size="42" text-anchor="middle">1</text>
<text x="1266.20" y="490.80" font-family="Liberation Serif" font-size="42" text-anchor="middle">2</text>
<text x="1382.60" y="490.80" font-family="Liberation Serif" font-size="42" text-anchor="middle">3</text>
<g transform="translate(919.10 0.00)" fill="none" stroke="#000" stroke-linecap="round"><path stroke-width="2.5" d="M290.3 504.5 C289.5 507.7 287.2 516.5 285.9 521.6 C285.2 524.2 284.6 526.3 284.45 528"/><path stroke-width="1.6" d="M284.45 527.6 C284.3 530 285.6 531.2 287.4 531.2 C289.6 531.2 291.5 529.2 292.7 527.3 C293.3 526.3 293.8 525.5 294.1 524.8"/><path stroke-width="1.4" stroke-linecap="butt" d="M281.2 512.7 H295.0"/></g>
<g transform="translate(919.10 0.00)" fill="none" stroke="#000" stroke-linecap="round"><path stroke-width="1.9" d="M43.95 234.1 C38 232.6 30 230.56 25 229.2 C21.4 228.13 19.5 227.7 18.56 227.99 C16.9 228.5 15.6 230.6 15.56 232.84 C15.5 235 16.8 237.3 18.84 238.83 C20 239.7 21.5 240.1 22.84 240.55 C26.5 241.8 30.5 243.1 34.25 244.4"/><path stroke-width="1.1" d="M18.84 239.6 C17.2 240.3 15.9 241.6 15.7 243.6 C15.6 245.3 16.4 246.3 17.6 246.8 C18.9 247.3 20.3 247.5 21.7 247.4"/><circle cx="43.6" cy="234.0" r="1.25" fill="#000" stroke="none"/><circle cx="33.9" cy="244.3" r="1.15" fill="#000" stroke="none"/></g>
<text transform="translate(1057.60 89.70) scale(0.93 1)" font-family="Liberation Serif" font-size="41.5">V</text>
<text x="1086.20" y="109.00" font-family="Liberation Serif" font-size="31">b</text>
<rect x="1101.60" y="72.90" width="15.5" height="2.6" fill="#000"/><rect x="1101.60" y="81.20" width="15.5" height="2.6" fill="#000"/>
<text x="1122.60" y="88.50" font-family="Liberation Serif" font-size="42">0.25</text>
<line x1="230.70" y1="1027.40" x2="230.70" y2="608.40" stroke="#222" stroke-width="2" stroke-dasharray="2 10.77" stroke-dashoffset="-12.3"/>
<line x1="347.10" y1="1027.40" x2="347.10" y2="608.40" stroke="#222" stroke-width="2" stroke-dasharray="2 10.77" stroke-dashoffset="-12.3"/>
<line x1="114.30" y1="922.65" x2="463.50" y2="922.65" stroke="#222" stroke-width="2" stroke-dasharray="2 10.77" stroke-dashoffset="-12.7"/>
<line x1="114.30" y1="817.90" x2="463.50" y2="817.90" stroke="#222" stroke-width="2" stroke-dasharray="2 10.77" stroke-dashoffset="-12.7"/>
<line x1="114.30" y1="713.15" x2="463.50" y2="713.15" stroke="#222" stroke-width="2" stroke-dasharray="2 10.77" stroke-dashoffset="-12.7"/>
<g clip-path="url(#c10)" fill="none" stroke="#000" stroke-width="6.40" stroke-linejoin="round" stroke-linecap="round"><path d="M114.30 1026.06 C115.27 1025.25 118.18 1022.77 120.12 1021.22 C122.06 1019.67 124.00 1018.19 125.94 1016.78 C127.88 1015.36 129.82 1014.03 131.76 1012.74 C133.70 1011.44 135.64 1010.21 137.58 1009.03 C139.52 1007.84 141.46 1006.72 143.40 1005.63 C145.34 1004.55 147.28 1003.52 149.22 1002.51 C151.16 1001.50 153.10 1000.53 155.04 999.58 C156.98 998.63 158.92 997.71 160.86 996.79 C162.80 995.88 164.74 994.98 166.68 994.09 C168.62 993.20 170.56 992.33 172.50 991.43 C174.44 990.53 176.38 989.63 178.32 988.71 C180.26 987.78 182.20 986.86 184.14 985.90 C186.08 984.94 188.02 983.96 189.96 982.94 C191.90 981.92 193.84 980.88 195.78 979.78 C197.72 978.68 199.66 977.55 201.60 976.37 C203.54 975.18 205.48 973.96 207.42 972.68 C209.36 971.39 211.30 970.05 213.24 968.66 C215.18 967.26 217.12 965.82 219.06 964.32 C221.00 962.82 222.94 961.26 224.88 959.67 C226.82 958.08 228.76 956.44 230.70 954.77 C232.64 953.09 234.58 951.35 236.52 949.61 C238.46 947.87 240.40 946.10 242.34 944.33 C244.28 942.57 246.22 940.80 248.16 939.03 C250.10 937.27 252.04 935.48 253.98 933.75 C255.92 932.03 257.86 930.33 259.80 928.66 C261.74 927.00 263.68 925.36 265.62 923.76 C267.56 922.16 269.50 920.60 271.44 919.09 C273.38 917.57 275.32 916.12 277.26 914.67 C279.20 913.22 281.14 911.80 283.08 910.39 C285.02 908.98 286.96 907.60 288.90 906.20 C290.84 904.81 292.78 903.44 294.72 902.04 C296.66 900.63 298.60 899.22 300.54 897.78 C302.48 896.35 304.42 894.90 306.36 893.42 C308.30 891.95 310.24 890.46 312.18 888.94 C314.12 887.42 316.06 885.87 318.00 884.29 C319.94 882.72 321.88 881.11 323.82 879.49 C325.76 877.87 327.70 876.24 329.64 874.57 C331.58 872.90 333.52 871.22 335.46 869.50 C337.40 867.78 339.34 866.03 341.28 864.26 C343.22 862.49 345.16 860.71 347.10 858.88 C349.04 857.05 350.98 855.18 352.92 853.28 C354.86 851.39 356.80 849.46 358.74 847.48 C360.68 845.51 362.62 843.49 364.56 841.43 C366.50 839.36 368.44 837.24 370.38 835.08 C372.32 832.91 374.26 830.71 376.20 828.44 C378.14 826.16 380.08 823.84 382.02 821.44 C383.96 819.05 385.90 816.59 387.84 814.07 C389.78 811.55 391.72 808.96 393.66 806.31 C395.60 803.67 397.54 800.96 399.48 798.19 C401.42 795.41 403.36 792.56 405.30 789.66 C407.24 786.76 409.18 783.80 411.12 780.80 C413.06 777.79 415.00 774.71 416.94 771.64 C418.88 768.57 420.82 765.44 422.76 762.38 C424.70 759.33 426.64 756.23 428.58 753.31 C430.52 750.39 432.46 747.50 434.40 744.85 C436.34 742.19 438.28 739.66 440.22 737.39 C442.16 735.12 444.10 733.06 446.04 731.25 C447.98 729.44 449.92 727.87 451.86 726.52 C453.80 725.16 455.74 724.06 457.68 723.14 C459.62 722.22 462.53 721.34 463.50 720.99"/><path d="M137.58 1026.35 C138.55 1025.84 141.46 1024.27 143.40 1023.29 C145.34 1022.32 147.28 1021.39 149.22 1020.49 C151.16 1019.59 153.10 1018.73 155.04 1017.89 C156.98 1017.05 158.92 1016.24 160.86 1015.44 C162.80 1014.63 164.74 1013.85 166.68 1013.07 C168.62 1012.29 170.56 1011.53 172.50 1010.74 C174.44 1009.96 176.38 1009.17 178.32 1008.36 C180.26 1007.54 182.20 1006.73 184.14 1005.86 C186.08 1005.00 188.02 1004.11 189.96 1003.18 C191.90 1002.25 193.84 1001.31 195.78 1000.29 C197.72 999.27 199.66 998.21 201.60 997.09 C203.54 995.96 205.48 994.81 207.42 993.57 C209.36 992.33 211.30 991.02 213.24 989.65 C215.18 988.28 217.12 986.85 219.06 985.35 C221.00 983.85 222.94 982.27 224.88 980.64 C226.82 979.01 228.76 977.31 230.70 975.55 C232.64 973.79 234.58 971.96 236.52 970.10 C238.46 968.24 240.40 966.33 242.34 964.38 C244.28 962.44 246.22 960.43 248.16 958.43 C250.10 956.44 252.04 954.42 253.98 952.42 C255.92 950.42 257.86 948.40 259.80 946.43 C261.74 944.46 263.68 942.49 265.62 940.58 C267.56 938.67 269.50 936.79 271.44 934.97 C273.38 933.15 275.32 931.38 277.26 929.67 C279.20 927.95 281.14 926.30 283.08 924.68 C285.02 923.06 286.96 921.50 288.90 919.95 C290.84 918.40 292.78 916.89 294.72 915.38 C296.66 913.87 298.60 912.39 300.54 910.90 C302.48 909.40 304.42 907.92 306.36 906.41 C308.30 904.91 310.24 903.39 312.18 901.85 C314.12 900.30 316.06 898.74 318.00 897.15 C319.94 895.57 321.88 893.97 323.82 892.34 C325.76 890.70 327.70 889.04 329.64 887.35 C331.58 885.66 333.52 883.95 335.46 882.22 C337.40 880.48 339.34 878.73 341.28 876.94 C343.22 875.15 345.16 873.32 347.10 871.47 C349.04 869.62 350.98 867.76 352.92 865.85 C354.86 863.95 356.80 862.00 358.74 860.03 C360.68 858.06 362.62 856.06 364.56 854.02 C366.50 851.97 368.44 849.88 370.38 847.75 C372.32 845.63 374.26 843.48 376.20 841.26 C378.14 839.04 380.08 836.77 382.02 834.45 C383.96 832.14 385.90 829.79 387.84 827.37 C389.78 824.95 391.72 822.47 393.66 819.95 C395.60 817.43 397.54 814.87 399.48 812.24 C401.42 809.62 403.36 806.94 405.30 804.22 C407.24 801.50 409.18 798.72 411.12 795.92 C413.06 793.12 415.00 790.28 416.94 787.42 C418.88 784.56 420.82 781.64 422.76 778.77 C424.70 775.89 426.64 772.99 428.58 770.15 C430.52 767.32 432.46 764.47 434.40 761.77 C436.34 759.08 438.28 756.45 440.22 754.00 C442.16 751.55 444.10 749.20 446.04 747.09 C447.98 744.97 449.92 743.03 451.86 741.31 C453.80 739.58 455.74 738.06 457.68 736.74 C459.62 735.42 462.53 733.95 463.50 733.39"/><path d="M160.86 1026.92 C161.83 1026.55 164.74 1025.45 166.68 1024.72 C168.62 1023.99 170.56 1023.26 172.50 1022.52 C174.44 1021.77 176.38 1021.04 178.32 1020.26 C180.26 1019.47 182.20 1018.67 184.14 1017.83 C186.08 1016.98 188.02 1016.11 189.96 1015.19 C191.90 1014.26 193.84 1013.31 195.78 1012.30 C197.72 1011.28 199.66 1010.21 201.60 1009.07 C203.54 1007.93 205.48 1006.73 207.42 1005.47 C209.36 1004.20 211.30 1002.87 213.24 1001.46 C215.18 1000.06 217.12 998.59 219.06 997.04 C221.00 995.50 222.94 993.89 224.88 992.20 C226.82 990.52 228.76 988.75 230.70 986.92 C232.64 985.10 234.58 983.21 236.52 981.27 C238.46 979.33 240.40 977.32 242.34 975.28 C244.28 973.23 246.22 971.12 248.16 969.01 C250.10 966.90 252.04 964.74 253.98 962.60 C255.92 960.46 257.86 958.30 259.80 956.17 C261.74 954.04 263.68 951.90 265.62 949.82 C267.56 947.74 269.50 945.70 271.44 943.70 C273.38 941.71 275.32 939.75 277.26 937.86 C279.20 935.97 281.14 934.14 283.08 932.37 C285.02 930.60 286.96 928.89 288.90 927.22 C290.84 925.54 292.78 923.93 294.72 922.34 C296.66 920.74 298.60 919.18 300.54 917.62 C302.48 916.06 304.42 914.54 306.36 912.99 C308.30 911.45 310.24 909.90 312.18 908.34 C314.12 906.78 316.06 905.22 318.00 903.63 C319.94 902.04 321.88 900.43 323.82 898.79 C325.76 897.15 327.70 895.49 329.64 893.80 C331.58 892.12 333.52 890.41 335.46 888.67 C337.40 886.93 339.34 885.16 341.28 883.37 C343.22 881.58 345.16 879.77 347.10 877.92 C349.04 876.08 350.98 874.21 352.92 872.31 C354.86 870.40 356.80 868.47 358.74 866.50 C360.68 864.54 362.62 862.54 364.56 860.51 C366.50 858.48 368.44 856.42 370.38 854.31 C372.32 852.20 374.26 850.05 376.20 847.86 C378.14 845.67 380.08 843.45 382.02 841.18 C383.96 838.90 385.90 836.57 387.84 834.20 C389.78 831.83 391.72 829.42 393.66 826.95 C395.60 824.49 397.54 821.97 399.48 819.41 C401.42 816.85 403.36 814.24 405.30 811.59 C407.24 808.95 409.18 806.27 411.12 803.55 C413.06 800.83 415.00 798.07 416.94 795.29 C418.88 792.52 420.82 789.71 422.76 786.91 C424.70 784.12 426.64 781.30 428.58 778.53 C430.52 775.77 432.46 773.01 434.40 770.34 C436.34 767.68 438.28 765.03 440.22 762.55 C442.16 760.07 444.10 757.66 446.04 755.45 C447.98 753.24 449.92 751.16 451.86 749.29 C453.80 747.42 455.74 745.73 457.68 744.24 C459.62 742.75 462.53 740.99 463.50 740.34"/><path d="M184.14 1027.27 C185.11 1026.83 188.02 1025.54 189.96 1024.59 C191.90 1023.65 193.84 1022.67 195.78 1021.62 C197.72 1020.57 199.66 1019.47 201.60 1018.29 C203.54 1017.11 205.48 1015.85 207.42 1014.54 C209.36 1013.22 211.30 1011.84 213.24 1010.39 C215.18 1008.93 217.12 1007.41 219.06 1005.80 C221.00 1004.19 222.94 1002.50 224.88 1000.75 C226.82 999.00 228.76 997.19 230.70 995.30 C232.64 993.42 234.58 991.45 236.52 989.44 C238.46 987.42 240.40 985.34 242.34 983.22 C244.28 981.10 246.22 978.91 248.16 976.72 C250.10 974.53 252.04 972.30 253.98 970.06 C255.92 967.82 257.86 965.53 259.80 963.29 C261.74 961.05 263.68 958.81 265.62 956.61 C267.56 954.41 269.50 952.21 271.44 950.09 C273.38 947.98 275.32 945.90 277.26 943.89 C279.20 941.88 281.14 939.92 283.08 938.03 C285.02 936.13 286.96 934.32 288.90 932.54 C290.84 930.76 292.78 929.05 294.72 927.36 C296.66 925.68 298.60 924.06 300.54 922.44 C302.48 920.82 304.42 919.25 306.36 917.66 C308.30 916.08 310.24 914.51 312.18 912.93 C314.12 911.34 316.06 909.76 318.00 908.15 C319.94 906.55 321.88 904.95 323.82 903.31 C325.76 901.68 327.70 900.01 329.64 898.33 C331.58 896.64 333.52 894.93 335.46 893.19 C337.40 891.46 339.34 889.70 341.28 887.91 C343.22 886.13 345.16 884.31 347.10 882.47 C349.04 880.62 350.98 878.75 352.92 876.85 C354.86 874.95 356.80 873.03 358.74 871.07 C360.68 869.11 362.62 867.12 364.56 865.10 C366.50 863.08 368.44 861.03 370.38 858.94 C372.32 856.85 374.26 854.72 376.20 852.55 C378.14 850.38 380.08 848.18 382.02 845.93 C383.96 843.68 385.90 841.40 387.84 839.06 C389.78 836.72 391.72 834.34 393.66 831.92 C395.60 829.49 397.54 827.01 399.48 824.50 C401.42 821.99 403.36 819.43 405.30 816.83 C407.24 814.23 409.18 811.58 411.12 808.91 C413.06 806.24 415.00 803.54 416.94 800.83 C418.88 798.11 420.82 795.37 422.76 792.63 C424.70 789.90 426.64 787.14 428.58 784.42 C430.52 781.71 432.46 778.97 434.40 776.34 C436.34 773.70 438.28 771.07 440.22 768.58 C442.16 766.10 444.10 763.67 446.04 761.42 C447.98 759.17 449.92 757.02 451.86 755.07 C453.80 753.13 455.74 751.35 457.68 749.75 C459.62 748.15 462.53 746.21 463.50 745.50"/><path d="M207.42 1027.15 C208.39 1026.40 211.30 1024.24 213.24 1022.67 C215.18 1021.09 217.12 1019.43 219.06 1017.70 C221.00 1015.98 222.94 1014.18 224.88 1012.32 C226.82 1010.45 228.76 1008.51 230.70 1006.51 C232.64 1004.51 234.58 1002.44 236.52 1000.31 C238.46 998.19 240.40 995.99 242.34 993.75 C244.28 991.52 246.22 989.24 248.16 986.92 C250.10 984.61 252.04 982.25 253.98 979.89 C255.92 977.52 257.86 975.10 259.80 972.72 C261.74 970.34 263.68 967.95 265.62 965.60 C267.56 963.25 269.50 960.90 271.44 958.62 C273.38 956.34 275.32 954.08 277.26 951.90 C279.20 949.72 281.14 947.60 283.08 945.55 C285.02 943.50 286.96 941.52 288.90 939.60 C290.84 937.68 292.78 935.83 294.72 934.03 C296.66 932.22 298.60 930.48 300.54 928.77 C302.48 927.06 304.42 925.41 306.36 923.76 C308.30 922.11 310.24 920.49 312.18 918.86 C314.12 917.23 316.06 915.62 318.00 914.00 C319.94 912.37 321.88 910.74 323.82 909.10 C325.76 907.45 327.70 905.80 329.64 904.11 C331.58 902.42 333.52 900.71 335.46 898.98 C337.40 897.24 339.34 895.50 341.28 893.72 C343.22 891.94 345.16 890.13 347.10 888.29 C349.04 886.46 350.98 884.60 352.92 882.72 C354.86 880.83 356.80 878.92 358.74 876.98 C360.68 875.03 362.62 873.06 364.56 871.05 C366.50 869.04 368.44 867.00 370.38 864.93 C372.32 862.86 374.26 860.77 376.20 858.63 C378.14 856.49 380.08 854.31 382.02 852.09 C383.96 849.87 385.90 847.62 387.84 845.32 C389.78 843.03 391.72 840.70 393.66 838.33 C395.60 835.95 397.54 833.52 399.48 831.06 C401.42 828.59 403.36 826.09 405.30 823.56 C407.24 821.02 409.18 818.44 411.12 815.85 C413.06 813.25 415.00 810.62 416.94 807.97 C418.88 805.32 420.82 802.64 422.76 799.97 C424.70 797.30 426.64 794.60 428.58 791.94 C430.52 789.29 432.46 786.62 434.40 784.02 C436.34 781.43 438.28 778.83 440.22 776.36 C442.16 773.88 444.10 771.45 446.04 769.17 C447.98 766.89 449.92 764.68 451.86 762.65 C453.80 760.63 455.74 758.73 457.68 757.02 C459.62 755.30 462.53 753.14 463.50 752.37"/><path d="M230.70 1026.81 C231.67 1025.64 234.58 1022.17 236.52 1019.77 C238.46 1017.38 240.40 1014.94 242.34 1012.46 C244.28 1009.98 246.22 1007.45 248.16 1004.90 C250.10 1002.35 252.04 999.76 253.98 997.17 C255.92 994.57 257.86 991.95 259.80 989.33 C261.74 986.72 263.68 984.10 265.62 981.50 C267.56 978.90 269.50 976.29 271.44 973.75 C273.38 971.20 275.32 968.68 277.26 966.23 C279.20 963.77 281.14 961.37 283.08 959.04 C285.02 956.71 286.96 954.44 288.90 952.25 C290.84 950.07 292.78 947.96 294.72 945.93 C296.66 943.89 298.60 941.93 300.54 940.02 C302.48 938.11 304.42 936.27 306.36 934.47 C308.30 932.66 310.24 930.94 312.18 929.21 C314.12 927.48 316.06 925.79 318.00 924.10 C319.94 922.40 321.88 920.73 323.82 919.05 C325.76 917.36 327.70 915.68 329.64 913.98 C331.58 912.28 333.52 910.57 335.46 908.84 C337.40 907.12 339.34 905.37 341.28 903.61 C343.22 901.84 345.16 900.06 347.10 898.24 C349.04 896.43 350.98 894.60 352.92 892.73 C354.86 890.87 356.80 888.97 358.74 887.06 C360.68 885.14 362.62 883.20 364.56 881.23 C366.50 879.26 368.44 877.27 370.38 875.24 C372.32 873.21 374.26 871.15 376.20 869.06 C378.14 866.97 380.08 864.85 382.02 862.69 C383.96 860.54 385.90 858.35 387.84 856.13 C389.78 853.91 391.72 851.66 393.66 849.37 C395.60 847.07 397.54 844.73 399.48 842.37 C401.42 840.01 403.36 837.62 405.30 835.18 C407.24 832.75 409.18 830.26 411.12 827.77 C413.06 825.27 415.00 822.74 416.94 820.20 C418.88 817.67 420.82 815.10 422.76 812.54 C424.70 809.97 426.64 807.39 428.58 804.83 C430.52 802.27 432.46 799.70 434.40 797.18 C436.34 794.66 438.28 792.14 440.22 789.70 C442.16 787.26 444.10 784.85 446.04 782.56 C447.98 780.26 449.92 778.02 451.86 775.92 C453.80 773.81 455.74 771.80 457.68 769.95 C459.62 768.09 462.53 765.65 463.50 764.79"/><path d="M253.98 1026.69 C254.95 1025.18 257.86 1020.63 259.80 1017.62 C261.74 1014.60 263.68 1011.57 265.62 1008.59 C267.56 1005.60 269.50 1002.63 271.44 999.70 C273.38 996.78 275.32 993.87 277.26 991.03 C279.20 988.19 281.14 985.38 283.08 982.65 C285.02 979.92 286.96 977.24 288.90 974.65 C290.84 972.05 292.78 969.52 294.72 967.08 C296.66 964.65 298.60 962.30 300.54 960.02 C302.48 957.75 304.42 955.55 306.36 953.43 C308.30 951.30 310.24 949.27 312.18 947.29 C314.12 945.30 316.06 943.40 318.00 941.53 C319.94 939.65 321.88 937.83 323.82 936.02 C325.76 934.20 327.70 932.42 329.64 930.65 C331.58 928.88 333.52 927.15 335.46 925.39 C337.40 923.64 339.34 921.90 341.28 920.14 C343.22 918.37 345.16 916.60 347.10 914.81 C349.04 913.03 350.98 911.23 352.92 909.41 C354.86 907.59 356.80 905.77 358.74 903.92 C360.68 902.07 362.62 900.18 364.56 898.29 C366.50 896.39 368.44 894.47 370.38 892.52 C372.32 890.58 374.26 888.61 376.20 886.62 C378.14 884.62 380.08 882.60 382.02 880.56 C383.96 878.52 385.90 876.45 387.84 874.36 C389.78 872.27 391.72 870.16 393.66 868.01 C395.60 865.87 397.54 863.70 399.48 861.50 C401.42 859.30 403.36 857.07 405.30 854.81 C407.24 852.56 409.18 850.29 411.12 847.98 C413.06 845.68 415.00 843.34 416.94 840.99 C418.88 838.64 420.82 836.27 422.76 833.88 C424.70 831.50 426.64 829.09 428.58 826.70 C430.52 824.30 432.46 821.89 434.40 819.51 C436.34 817.14 438.28 814.76 440.22 812.43 C442.16 810.10 444.10 807.77 446.04 805.52 C447.98 803.26 449.92 801.03 451.86 798.90 C453.80 796.76 455.74 794.69 457.68 792.72 C459.62 790.75 462.53 788.02 463.50 787.08"/><path d="M277.26 1026.96 C278.23 1025.36 281.14 1020.48 283.08 1017.34 C285.02 1014.20 286.96 1011.13 288.90 1008.13 C290.84 1005.12 292.78 1002.17 294.72 999.31 C296.66 996.45 298.60 993.66 300.54 990.97 C302.48 988.27 304.42 985.66 306.36 983.13 C308.30 980.60 310.24 978.16 312.18 975.80 C314.12 973.44 316.06 971.16 318.00 968.95 C319.94 966.74 321.88 964.61 323.82 962.54 C325.76 960.46 327.70 958.47 329.64 956.51 C331.58 954.54 333.52 952.63 335.46 950.74 C337.40 948.86 339.34 947.04 341.28 945.21 C343.22 943.39 345.16 941.60 347.10 939.81 C349.04 938.02 350.98 936.24 352.92 934.47 C354.86 932.69 356.80 930.92 358.74 929.14 C360.68 927.37 362.62 925.59 364.56 923.80 C366.50 922.01 368.44 920.22 370.38 918.42 C372.32 916.61 374.26 914.80 376.20 912.97 C378.14 911.14 380.08 909.30 382.02 907.44 C383.96 905.58 385.90 903.71 387.84 901.83 C389.78 899.94 391.72 898.06 393.66 896.15 C395.60 894.24 397.54 892.30 399.48 890.37 C401.42 888.43 403.36 886.49 405.30 884.52 C407.24 882.56 409.18 880.57 411.12 878.57 C413.06 876.57 415.00 874.56 416.94 872.54 C418.88 870.51 420.82 868.47 422.76 866.42 C424.70 864.37 426.64 862.30 428.58 860.22 C430.52 858.14 432.46 856.05 434.40 853.95 C436.34 851.86 438.28 849.76 440.22 847.67 C442.16 845.58 444.10 843.48 446.04 841.41 C447.98 839.34 449.92 837.28 451.86 835.25 C453.80 833.22 455.74 831.19 457.68 829.23 C459.62 827.28 462.53 824.45 463.50 823.49"/><path d="M300.54 1027.38 C301.51 1025.96 304.42 1021.64 306.36 1018.89 C308.30 1016.15 310.24 1013.48 312.18 1010.89 C314.12 1008.30 316.06 1005.80 318.00 1003.37 C319.94 1000.94 321.88 998.60 323.82 996.33 C325.76 994.06 327.70 991.86 329.64 989.73 C331.58 987.60 333.52 985.56 335.46 983.55 C337.40 981.54 339.34 979.59 341.28 977.69 C343.22 975.78 345.16 973.95 347.10 972.13 C349.04 970.32 350.98 968.54 352.92 966.79 C354.86 965.04 356.80 963.32 358.74 961.62 C360.68 959.91 362.62 958.23 364.56 956.57 C366.50 954.90 368.44 953.26 370.38 951.62 C372.32 949.98 374.26 948.35 376.20 946.72 C378.14 945.09 380.08 943.48 382.02 941.86 C383.96 940.24 385.90 938.63 387.84 937.02 C389.78 935.41 391.72 933.79 393.66 932.18 C395.60 930.57 397.54 928.97 399.48 927.36 C401.42 925.76 403.36 924.17 405.30 922.57 C407.24 920.96 409.18 919.35 411.12 917.75 C413.06 916.14 415.00 914.54 416.94 912.93 C418.88 911.32 420.82 909.72 422.76 908.11 C424.70 906.50 426.64 904.87 428.58 903.25 C430.52 901.63 432.46 900.00 434.40 898.37 C436.34 896.73 438.28 895.10 440.22 893.45 C442.16 891.79 444.10 890.13 446.04 888.46 C447.98 886.79 449.92 885.10 451.86 883.41 C453.80 881.72 455.74 880.02 457.68 878.32 C459.62 876.62 462.53 874.06 463.50 873.21"/><path d="M323.82 1027.40 C324.79 1026.35 327.70 1023.18 329.64 1021.12 C331.58 1019.05 333.52 1016.98 335.46 1015.02 C337.40 1013.05 339.34 1011.16 341.28 1009.32 C343.22 1007.48 345.16 1005.71 347.10 1003.98 C349.04 1002.25 350.98 1000.58 352.92 998.95 C354.86 997.32 356.80 995.74 358.74 994.19 C360.68 992.64 362.62 991.13 364.56 989.65 C366.50 988.17 368.44 986.73 370.38 985.31 C372.32 983.89 374.26 982.50 376.20 981.12 C378.14 979.75 380.08 978.40 382.02 977.06 C383.96 975.72 385.90 974.39 387.84 973.08 C389.78 971.77 391.72 970.48 393.66 969.20 C395.60 967.92 397.54 966.65 399.48 965.39 C401.42 964.12 403.36 962.86 405.30 961.62 C407.24 960.37 409.18 959.14 411.12 957.91 C413.06 956.67 415.00 955.43 416.94 954.20 C418.88 952.97 420.82 951.75 422.76 950.51 C424.70 949.28 426.64 948.05 428.58 946.81 C430.52 945.56 432.46 944.32 434.40 943.06 C436.34 941.79 438.28 940.51 440.22 939.22 C442.16 937.93 444.10 936.65 446.04 935.32 C447.98 934.00 449.92 932.65 451.86 931.28 C453.80 929.91 455.74 928.53 457.68 927.11 C459.62 925.69 462.53 923.50 463.50 922.78"/><path d="M347.10 1027.40 C348.07 1026.68 350.98 1024.49 352.92 1023.06 C354.86 1021.63 356.80 1020.18 358.74 1018.81 C360.68 1017.44 362.62 1016.13 364.56 1014.85 C366.50 1013.57 368.44 1012.34 370.38 1011.14 C372.32 1009.94 374.26 1008.78 376.20 1007.64 C378.14 1006.51 380.08 1005.41 382.02 1004.33 C383.96 1003.26 385.90 1002.22 387.84 1001.19 C389.78 1000.16 391.72 999.15 393.66 998.15 C395.60 997.16 397.54 996.19 399.48 995.22 C401.42 994.25 403.36 993.30 405.30 992.35 C407.24 991.40 409.18 990.47 411.12 989.52 C413.06 988.57 415.00 987.61 416.94 986.65 C418.88 985.69 420.82 984.74 422.76 983.76 C424.70 982.78 426.64 981.78 428.58 980.77 C430.52 979.75 432.46 978.73 434.40 977.66 C436.34 976.60 438.28 975.50 440.22 974.38 C442.16 973.25 444.10 972.10 446.04 970.90 C447.98 969.70 449.92 968.45 451.86 967.17 C453.80 965.89 455.74 964.58 457.68 963.21 C459.62 961.84 462.53 959.67 463.50 958.96"/><path d="M370.38 1027.40 C371.35 1026.90 374.26 1025.39 376.20 1024.43 C378.14 1023.46 380.08 1022.53 382.02 1021.62 C383.96 1020.71 385.90 1019.82 387.84 1018.96 C389.78 1018.10 391.72 1017.28 393.66 1016.46 C395.60 1015.64 397.54 1014.83 399.48 1014.03 C401.42 1013.23 403.36 1012.45 405.30 1011.67 C407.24 1010.88 409.18 1010.12 411.12 1009.32 C413.06 1008.52 415.00 1007.71 416.94 1006.89 C418.88 1006.07 420.82 1005.24 422.76 1004.38 C424.70 1003.51 426.64 1002.62 428.58 1001.69 C430.52 1000.77 432.46 999.83 434.40 998.82 C436.34 997.82 438.28 996.77 440.22 995.68 C442.16 994.59 444.10 993.46 446.04 992.27 C447.98 991.07 449.92 989.83 451.86 988.52 C453.80 987.21 455.74 985.84 457.68 984.41 C459.62 982.99 462.53 980.71 463.50 979.97"/><path d="M393.66 1027.34 C394.63 1026.98 397.54 1025.90 399.48 1025.18 C401.42 1024.46 403.36 1023.76 405.30 1023.04 C407.24 1022.32 409.18 1021.60 411.12 1020.86 C413.06 1020.13 415.00 1019.40 416.94 1018.62 C418.88 1017.85 420.82 1017.05 422.76 1016.21 C424.70 1015.38 426.64 1014.53 428.58 1013.61 C430.52 1012.70 432.46 1011.75 434.40 1010.74 C436.34 1009.74 438.28 1008.69 440.22 1007.58 C442.16 1006.47 444.10 1005.31 446.04 1004.08 C447.98 1002.86 449.92 1001.58 451.86 1000.23 C453.80 998.88 455.74 997.46 457.68 995.98 C459.62 994.49 462.53 992.10 463.50 991.32"/><path d="M416.94 1027.40 C417.91 1027.01 420.82 1025.90 422.76 1025.07 C424.70 1024.25 426.64 1023.38 428.58 1022.46 C430.52 1021.53 432.46 1020.57 434.40 1019.54 C436.34 1018.51 438.28 1017.42 440.22 1016.28 C442.16 1015.13 444.10 1013.92 446.04 1012.65 C447.98 1011.38 449.92 1010.05 451.86 1008.65 C453.80 1007.25 455.74 1005.77 457.68 1004.23 C459.62 1002.69 462.53 1000.20 463.50 999.39"/><path d="M440.22 1027.40 C441.19 1026.83 444.10 1025.26 446.04 1023.96 C447.98 1022.67 449.92 1021.15 451.86 1019.65 C453.80 1018.14 455.74 1016.58 457.68 1014.93 C459.62 1013.29 462.53 1010.66 463.50 1009.80"/></g>
<path d="M114.30 1027.40V1023.40M114.30 608.40V612.40M230.70 1027.40V1023.40M230.70 608.40V612.40M347.10 1027.40V1023.40M347.10 608.40V612.40M463.50 1027.40V1023.40M463.50 608.40V612.40M114.30 1027.40H118.30M463.50 1027.40H459.50M114.30 922.65H118.30M463.50 922.65H459.50M114.30 817.90H118.30M463.50 817.90H459.50M114.30 713.15H118.30M463.50 713.15H459.50M114.30 608.40H118.30M463.50 608.40H459.50" stroke="#000" stroke-width="2" fill="none"/>
<rect x="114.30" y="608.40" width="349.20" height="419.00" fill="none" stroke="#000" stroke-width="3.2" stroke-linejoin="round"/>
<text x="106.90" y="1041.70" font-family="Liberation Serif" font-size="42" text-anchor="end">0</text>
<text x="106.90" y="936.95" font-family="Liberation Serif" font-size="42" text-anchor="end">0.5</text>
<text x="106.90" y="832.20" font-family="Liberation Serif" font-size="42" text-anchor="end">1</text>
<text x="106.90" y="727.45" font-family="Liberation Serif" font-size="42" text-anchor="end">1.5</text>
<text x="106.90" y="622.70" font-family="Liberation Serif" font-size="42" text-anchor="end">2</text>
<text x="114.30" y="1071.20" font-family="Liberation Serif" font-size="42" text-anchor="middle">0</text>
<text x="230.70" y="1071.20" font-family="Liberation Serif" font-size="42" text-anchor="middle">1</text>
<text x="347.10" y="1071.20" font-family="Liberation Serif" font-size="42" text-anchor="middle">2</text>
<text x="463.50" y="1071.20" font-family="Liberation Serif" font-size="42" text-anchor="middle">3</text>
<g transform="translate(0.00 580.40)" fill="none" stroke="#000" stroke-linecap="round"><path stroke-width="2.5" d="M290.3 504.5 C289.5 507.7 287.2 516.5 285.9 521.6 C285.2 524.2 284.6 526.3 284.45 528"/><path stroke-width="1.6" d="M284.45 527.6 C284.3 530 285.6 531.2 287.4 531.2 C289.6 531.2 291.5 529.2 292.7 527.3 C293.3 526.3 293.8 525.5 294.1 524.8"/><path stroke-width="1.4" stroke-linecap="butt" d="M281.2 512.7 H295.0"/></g>
<g transform="translate(0.00 580.40)" fill="none" stroke="#000" stroke-linecap="round"><path stroke-width="1.9" d="M43.95 234.1 C38 232.6 30 230.56 25 229.2 C21.4 228.13 19.5 227.7 18.56 227.99 C16.9 228.5 15.6 230.6 15.56 232.84 C15.5 235 16.8 237.3 18.84 238.83 C20 239.7 21.5 240.1 22.84 240.55 C26.5 241.8 30.5 243.1 34.25 244.4"/><path stroke-width="1.1" d="M18.84 239.6 C17.2 240.3 15.9 241.6 15.7 243.6 C15.6 245.3 16.4 246.3 17.6 246.8 C18.9 247.3 20.3 247.5 21.7 247.4"/><circle cx="43.6" cy="234.0" r="1.25" fill="#000" stroke="none"/><circle cx="33.9" cy="244.3" r="1.15" fill="#000" stroke="none"/></g>
<text transform="translate(138.50 670.10) scale(0.93 1)" font-family="Liberation Serif" font-size="41.5">V</text>
<text x="167.10" y="689.40" font-family="Liberation Serif" font-size="31">b</text>
<rect x="182.50" y="653.30" width="15.5" height="2.6" fill="#000"/><rect x="182.50" y="661.60" width="15.5" height="2.6" fill="#000"/>
<text x="203.50" y="668.90" font-family="Liberation Serif" font-size="42">0.3</text>
<line x1="690.40" y1="1027.40" x2="690.40" y2="608.40" stroke="#222" stroke-width="2" stroke-dasharray="2 10.77" stroke-dashoffset="-12.3"/>
<line x1="806.80" y1="1027.40" x2="806.80" y2="608.40" stroke="#222" stroke-width="2" stroke-dasharray="2 10.77" stroke-dashoffset="-12.3"/>
<line x1="574.00" y1="922.65" x2="923.20" y2="922.65" stroke="#222" stroke-width="2" stroke-dasharray="2 10.77" stroke-dashoffset="-12.7"/>
<line x1="574.00" y1="817.90" x2="923.20" y2="817.90" stroke="#222" stroke-width="2" stroke-dasharray="2 10.77" stroke-dashoffset="-12.7"/>
<line x1="574.00" y1="713.15" x2="923.20" y2="713.15" stroke="#222" stroke-width="2" stroke-dasharray="2 10.77" stroke-dashoffset="-12.7"/>
<g clip-path="url(#c11)" fill="none" stroke="#000" stroke-width="6.40" stroke-linejoin="round" stroke-linecap="round"><path d="M574.00 1027.00 C574.97 1026.20 577.88 1023.68 579.82 1022.20 C581.76 1020.72 583.70 1019.39 585.64 1018.12 C587.58 1016.85 589.52 1015.69 591.46 1014.58 C593.40 1013.46 595.34 1012.43 597.28 1011.44 C599.22 1010.44 601.16 1009.50 603.10 1008.59 C605.04 1007.67 606.98 1006.81 608.92 1005.95 C610.86 1005.09 612.80 1004.26 614.74 1003.43 C616.68 1002.61 618.62 1001.80 620.56 1000.98 C622.50 1000.17 624.44 999.36 626.38 998.55 C628.32 997.74 630.26 996.94 632.20 996.12 C634.14 995.31 636.08 994.51 638.02 993.67 C639.96 992.84 641.90 991.98 643.84 991.11 C645.78 990.25 647.72 989.38 649.66 988.47 C651.60 987.57 653.54 986.64 655.48 985.67 C657.42 984.70 659.36 983.71 661.30 982.65 C663.24 981.60 665.18 980.50 667.12 979.34 C669.06 978.18 671.00 976.99 672.94 975.72 C674.88 974.45 676.82 973.12 678.76 971.71 C680.70 970.31 682.64 968.83 684.58 967.29 C686.52 965.76 688.46 964.17 690.40 962.52 C692.34 960.87 694.28 959.14 696.22 957.39 C698.16 955.63 700.10 953.82 702.04 952.00 C703.98 950.18 705.92 948.32 707.86 946.47 C709.80 944.62 711.74 942.75 713.68 940.92 C715.62 939.09 717.56 937.26 719.50 935.47 C721.44 933.68 723.38 931.90 725.32 930.17 C727.26 928.44 729.20 926.75 731.14 925.10 C733.08 923.45 735.02 921.83 736.96 920.26 C738.90 918.69 740.84 917.17 742.78 915.67 C744.72 914.18 746.66 912.71 748.60 911.30 C750.54 909.88 752.48 908.51 754.42 907.17 C756.36 905.82 758.30 904.51 760.24 903.23 C762.18 901.95 764.12 900.70 766.06 899.48 C768.00 898.25 769.94 897.06 771.88 895.88 C773.82 894.69 775.76 893.53 777.70 892.36 C779.64 891.18 781.58 890.02 783.52 888.84 C785.46 887.65 787.40 886.48 789.34 885.23 C791.28 883.99 793.22 882.72 795.16 881.38 C797.10 880.04 799.04 878.67 800.98 877.19 C802.92 875.70 804.86 874.14 806.80 872.47 C808.74 870.81 810.68 869.06 812.62 867.17 C814.56 865.29 816.50 863.30 818.44 861.16 C820.38 859.03 822.32 856.76 824.26 854.37 C826.20 851.99 828.14 849.47 830.08 846.85 C832.02 844.24 833.96 841.49 835.90 838.68 C837.84 835.88 839.78 832.95 841.72 830.01 C843.66 827.07 845.60 824.07 847.54 821.06 C849.48 818.06 851.42 815.02 853.36 811.99 C855.30 808.97 857.24 805.94 859.18 802.92 C861.12 799.90 863.06 796.90 865.00 793.85 C866.94 790.80 868.88 787.73 870.82 784.61 C872.76 781.49 874.70 778.33 876.64 775.12 C878.58 771.91 880.52 768.63 882.46 765.38 C884.40 762.12 886.34 758.79 888.28 755.59 C890.22 752.40 892.16 749.17 894.10 746.19 C896.04 743.20 897.98 740.30 899.92 737.68 C901.86 735.06 903.80 732.61 905.74 730.48 C907.68 728.34 909.62 726.45 911.56 724.88 C913.50 723.31 915.44 722.04 917.38 721.07 C919.32 720.09 922.23 719.38 923.20 719.04"/><path d="M597.28 1026.67 C598.25 1026.27 601.16 1025.03 603.10 1024.28 C605.04 1023.53 606.98 1022.85 608.92 1022.18 C610.86 1021.51 612.80 1020.87 614.74 1020.26 C616.68 1019.64 618.62 1019.08 620.56 1018.50 C622.50 1017.92 624.44 1017.34 626.38 1016.78 C628.32 1016.21 630.26 1015.67 632.20 1015.10 C634.14 1014.54 636.08 1013.97 638.02 1013.38 C639.96 1012.80 641.90 1012.21 643.84 1011.58 C645.78 1010.95 647.72 1010.29 649.66 1009.59 C651.60 1008.89 653.54 1008.17 655.48 1007.37 C657.42 1006.58 659.36 1005.74 661.30 1004.82 C663.24 1003.89 665.18 1002.90 667.12 1001.82 C669.06 1000.74 671.00 999.59 672.94 998.32 C674.88 997.05 676.82 995.69 678.76 994.22 C680.70 992.74 682.64 991.17 684.58 989.48 C686.52 987.79 688.46 985.99 690.40 984.10 C692.34 982.21 694.28 980.21 696.22 978.15 C698.16 976.09 700.10 973.93 702.04 971.74 C703.98 969.54 705.92 967.26 707.86 964.99 C709.80 962.72 711.74 960.41 713.68 958.14 C715.62 955.87 717.56 953.57 719.50 951.35 C721.44 949.13 723.38 946.94 725.32 944.82 C727.26 942.69 729.20 940.61 731.14 938.61 C733.08 936.62 735.02 934.70 736.96 932.83 C738.90 930.97 740.84 929.16 742.78 927.43 C744.72 925.69 746.66 924.03 748.60 922.42 C750.54 920.81 752.48 919.26 754.42 917.75 C756.36 916.24 758.30 914.79 760.24 913.37 C762.18 911.95 764.12 910.58 766.06 909.24 C768.00 907.90 769.94 906.61 771.88 905.32 C773.82 904.04 775.76 902.80 777.70 901.55 C779.64 900.30 781.58 899.07 783.52 897.82 C785.46 896.57 787.40 895.34 789.34 894.05 C791.28 892.77 793.22 891.48 795.16 890.11 C797.10 888.75 799.04 887.34 800.98 885.84 C802.92 884.35 804.86 882.81 806.80 881.15 C808.74 879.49 810.68 877.74 812.62 875.87 C814.56 873.99 816.50 872.01 818.44 869.90 C820.38 867.79 822.32 865.56 824.26 863.19 C826.20 860.83 828.14 858.33 830.08 855.71 C832.02 853.10 833.96 850.34 835.90 847.52 C837.84 844.70 839.78 841.76 841.72 838.79 C843.66 835.82 845.60 832.76 847.54 829.72 C849.48 826.67 851.42 823.56 853.36 820.50 C855.30 817.44 857.24 814.37 859.18 811.34 C861.12 808.31 863.06 805.31 865.00 802.31 C866.94 799.32 868.88 796.37 870.82 793.39 C872.76 790.41 874.70 787.42 876.64 784.42 C878.58 781.42 880.52 778.40 882.46 775.39 C884.40 772.39 886.34 769.33 888.28 766.38 C890.22 763.43 892.16 760.47 894.10 757.69 C896.04 754.91 897.98 752.18 899.92 749.71 C901.86 747.23 903.80 744.89 905.74 742.84 C907.68 740.78 909.62 738.92 911.56 737.37 C913.50 735.82 915.44 734.54 917.38 733.53 C919.32 732.53 922.23 731.70 923.20 731.33"/><path d="M620.56 1026.71 C621.53 1026.48 624.44 1025.79 626.38 1025.35 C628.32 1024.90 630.26 1024.47 632.20 1024.03 C634.14 1023.58 636.08 1023.14 638.02 1022.67 C639.96 1022.19 641.90 1021.72 643.84 1021.20 C645.78 1020.68 647.72 1020.14 649.66 1019.54 C651.60 1018.94 653.54 1018.31 655.48 1017.60 C657.42 1016.88 659.36 1016.11 661.30 1015.25 C663.24 1014.38 665.18 1013.45 667.12 1012.40 C669.06 1011.35 671.00 1010.22 672.94 1008.96 C674.88 1007.70 676.82 1006.34 678.76 1004.84 C680.70 1003.34 682.64 1001.70 684.58 999.96 C686.52 998.21 688.46 996.35 690.40 994.36 C692.34 992.38 694.28 990.25 696.22 988.06 C698.16 985.86 700.10 983.54 702.04 981.18 C703.98 978.82 705.92 976.36 707.86 973.89 C709.80 971.43 711.74 968.90 713.68 966.41 C715.62 963.93 717.56 961.41 719.50 958.98 C721.44 956.54 723.38 954.12 725.32 951.79 C727.26 949.46 729.20 947.19 731.14 945.00 C733.08 942.82 735.02 940.70 736.96 938.68 C738.90 936.65 740.84 934.71 742.78 932.85 C744.72 930.99 746.66 929.23 748.60 927.51 C750.54 925.79 752.48 924.14 754.42 922.55 C756.36 920.95 758.30 919.44 760.24 917.96 C762.18 916.48 764.12 915.05 766.06 913.66 C768.00 912.27 769.94 910.94 771.88 909.62 C773.82 908.30 775.76 907.01 777.70 905.72 C779.64 904.44 781.58 903.18 783.52 901.91 C785.46 900.64 787.40 899.38 789.34 898.08 C791.28 896.77 793.22 895.47 795.16 894.10 C797.10 892.72 799.04 891.32 800.98 889.82 C802.92 888.33 804.86 886.78 806.80 885.13 C808.74 883.47 810.68 881.75 812.62 879.89 C814.56 878.03 816.50 876.08 818.44 873.98 C820.38 871.89 822.32 869.67 824.26 867.32 C826.20 864.97 828.14 862.48 830.08 859.88 C832.02 857.29 833.96 854.55 835.90 851.73 C837.84 848.92 839.78 845.98 841.72 843.00 C843.66 840.02 845.60 836.93 847.54 833.86 C849.48 830.80 851.42 827.68 853.36 824.60 C855.30 821.52 857.24 818.43 859.18 815.39 C861.12 812.34 863.06 809.34 865.00 806.36 C866.94 803.37 868.88 800.43 870.82 797.49 C872.76 794.55 874.70 791.64 876.64 788.72 C878.58 785.80 880.52 782.88 882.46 779.98 C884.40 777.08 886.34 774.15 888.28 771.31 C890.22 768.47 892.16 765.63 894.10 762.95 C896.04 760.27 897.98 757.62 899.92 755.22 C901.86 752.82 903.80 750.54 905.74 748.53 C907.68 746.53 909.62 744.70 911.56 743.17 C913.50 741.64 915.44 740.35 917.38 739.34 C919.32 738.32 922.23 737.47 923.20 737.10"/><path d="M643.84 1027.04 C644.81 1026.80 647.72 1026.12 649.66 1025.58 C651.60 1025.04 653.54 1024.46 655.48 1023.80 C657.42 1023.13 659.36 1022.42 661.30 1021.60 C663.24 1020.77 665.18 1019.86 667.12 1018.83 C669.06 1017.80 671.00 1016.69 672.94 1015.44 C674.88 1014.18 676.82 1012.80 678.76 1011.29 C680.70 1009.77 682.64 1008.13 684.58 1006.35 C686.52 1004.56 688.46 1002.64 690.40 1000.60 C692.34 998.57 694.28 996.38 696.22 994.11 C698.16 991.84 700.10 989.44 702.04 986.99 C703.98 984.53 705.92 981.96 707.86 979.38 C709.80 976.81 711.74 974.14 713.68 971.53 C715.62 968.91 717.56 966.26 719.50 963.69 C721.44 961.12 723.38 958.55 725.32 956.09 C727.26 953.62 729.20 951.23 731.14 948.92 C733.08 946.62 735.02 944.39 736.96 942.26 C738.90 940.13 740.84 938.11 742.78 936.16 C744.72 934.21 746.66 932.35 748.60 930.57 C750.54 928.78 752.48 927.10 754.42 925.46 C756.36 923.82 758.30 922.24 760.24 920.72 C762.18 919.20 764.12 917.75 766.06 916.32 C768.00 914.90 769.94 913.53 771.88 912.18 C773.82 910.82 775.76 909.52 777.70 908.22 C779.64 906.91 781.58 905.65 783.52 904.36 C785.46 903.08 787.40 901.82 789.34 900.51 C791.28 899.20 793.22 897.88 795.16 896.50 C797.10 895.13 799.04 893.73 800.98 892.23 C802.92 890.74 804.86 889.19 806.80 887.54 C808.74 885.89 810.68 884.17 812.62 882.32 C814.56 880.47 816.50 878.52 818.44 876.43 C820.38 874.35 822.32 872.15 824.26 869.81 C826.20 867.48 828.14 865.00 830.08 862.42 C832.02 859.83 833.96 857.12 835.90 854.31 C837.84 851.50 839.78 848.55 841.72 845.57 C843.66 842.60 845.60 839.51 847.54 836.44 C849.48 833.37 851.42 830.23 853.36 827.14 C855.30 824.05 857.24 820.93 859.18 817.88 C861.12 814.83 863.06 811.81 865.00 808.83 C866.94 805.85 868.88 802.92 870.82 800.01 C872.76 797.09 874.70 794.21 876.64 791.34 C878.58 788.46 880.52 785.59 882.46 782.75 C884.40 779.90 886.34 777.04 888.28 774.26 C890.22 771.49 892.16 768.71 894.10 766.09 C896.04 763.47 897.98 760.90 899.92 758.55 C901.86 756.20 903.80 753.95 905.74 751.97 C907.68 749.99 909.62 748.19 911.56 746.67 C913.50 745.15 915.44 743.87 917.38 742.86 C919.32 741.84 922.23 740.97 923.20 740.59"/><path d="M667.12 1027.40 C668.09 1026.84 671.00 1025.30 672.94 1024.05 C674.88 1022.80 676.82 1021.43 678.76 1019.90 C680.70 1018.37 682.64 1016.69 684.58 1014.87 C686.52 1013.05 688.46 1011.09 690.40 1008.98 C692.34 1006.88 694.28 1004.61 696.22 1002.24 C698.16 999.87 700.10 997.34 702.04 994.76 C703.98 992.18 705.92 989.48 707.86 986.76 C709.80 984.03 711.74 981.20 713.68 978.42 C715.62 975.64 717.56 972.81 719.50 970.06 C721.44 967.31 723.38 964.55 725.32 961.91 C727.26 959.27 729.20 956.69 731.14 954.22 C733.08 951.75 735.02 949.37 736.96 947.10 C738.90 944.83 740.84 942.65 742.78 940.58 C744.72 938.51 746.66 936.56 748.60 934.68 C750.54 932.79 752.48 931.01 754.42 929.29 C756.36 927.57 758.30 925.95 760.24 924.37 C762.18 922.79 764.12 921.29 766.06 919.82 C768.00 918.36 769.94 916.95 771.88 915.57 C773.82 914.19 775.76 912.85 777.70 911.53 C779.64 910.20 781.58 908.91 783.52 907.61 C785.46 906.30 787.40 905.01 789.34 903.69 C791.28 902.37 793.22 901.05 795.16 899.67 C797.10 898.29 799.04 896.88 800.98 895.39 C802.92 893.91 804.86 892.38 806.80 890.74 C808.74 889.11 810.68 887.41 812.62 885.57 C814.56 883.73 816.50 881.79 818.44 879.72 C820.38 877.66 822.32 875.48 824.26 873.17 C826.20 870.85 828.14 868.40 830.08 865.83 C832.02 863.27 833.96 860.56 835.90 857.77 C837.84 854.97 839.78 852.03 841.72 849.05 C843.66 846.08 845.60 842.99 847.54 839.92 C849.48 836.84 851.42 833.70 853.36 830.60 C855.30 827.49 857.24 824.36 859.18 821.29 C861.12 818.23 863.06 815.18 865.00 812.20 C866.94 809.22 868.88 806.30 870.82 803.40 C872.76 800.51 874.70 797.67 876.64 794.83 C878.58 792.00 880.52 789.19 882.46 786.41 C884.40 783.64 886.34 780.87 888.28 778.18 C890.22 775.49 892.16 772.80 894.10 770.26 C896.04 767.72 897.98 765.24 899.92 762.95 C901.86 760.66 903.80 758.47 905.74 756.54 C907.68 754.60 909.62 752.84 911.56 751.34 C913.50 749.84 915.44 748.56 917.38 747.55 C919.32 746.54 922.23 745.65 923.20 745.27"/><path d="M690.40 1027.40 C691.37 1026.22 694.28 1022.83 696.22 1020.30 C698.16 1017.76 700.10 1015.02 702.04 1012.19 C703.98 1009.37 705.92 1006.38 707.86 1003.35 C709.80 1000.32 711.74 997.16 713.68 994.03 C715.62 990.89 717.56 987.68 719.50 984.54 C721.44 981.40 723.38 978.23 725.32 975.19 C727.26 972.15 729.20 969.15 731.14 966.29 C733.08 963.43 735.02 960.68 736.96 958.06 C738.90 955.43 740.84 952.93 742.78 950.56 C744.72 948.18 746.66 945.95 748.60 943.83 C750.54 941.71 752.48 939.72 754.42 937.82 C756.36 935.91 758.30 934.13 760.24 932.41 C762.18 930.69 764.12 929.06 766.06 927.49 C768.00 925.91 769.94 924.42 771.88 922.96 C773.82 921.50 775.76 920.12 777.70 918.73 C779.64 917.35 781.58 916.01 783.52 914.67 C785.46 913.33 787.40 912.03 789.34 910.69 C791.28 909.35 793.22 908.01 795.16 906.62 C797.10 905.24 799.04 903.84 800.98 902.37 C802.92 900.90 804.86 899.40 806.80 897.78 C808.74 896.17 810.68 894.49 812.62 892.69 C814.56 890.90 816.50 889.03 818.44 887.01 C820.38 885.00 822.32 882.86 824.26 880.60 C826.20 878.34 828.14 875.97 830.08 873.46 C832.02 870.95 833.96 868.29 835.90 865.54 C837.84 862.79 839.78 859.90 841.72 856.95 C843.66 854.00 845.60 850.93 847.54 847.86 C849.48 844.78 851.42 841.62 853.36 838.49 C855.30 835.37 857.24 832.20 859.18 829.11 C861.12 826.02 863.06 822.95 865.00 819.95 C866.94 816.96 868.88 814.03 870.82 811.15 C872.76 808.28 874.70 805.47 876.64 802.71 C878.58 799.95 880.52 797.25 882.46 794.60 C884.40 791.96 886.34 789.36 888.28 786.83 C890.22 784.30 892.16 781.81 894.10 779.44 C896.04 777.06 897.98 774.75 899.92 772.61 C901.86 770.47 903.80 768.42 905.74 766.59 C907.68 764.77 909.62 763.09 911.56 761.65 C913.50 760.21 915.44 758.96 917.38 757.96 C919.32 756.96 922.23 756.04 923.20 755.66"/><path d="M713.68 1027.40 C714.65 1025.50 717.56 1019.81 719.50 1015.98 C721.44 1012.15 723.38 1008.23 725.32 1004.42 C727.26 1000.60 729.20 996.77 731.14 993.10 C733.08 989.44 735.02 985.83 736.96 982.42 C738.90 979.01 740.84 975.73 742.78 972.64 C744.72 969.55 746.66 966.62 748.60 963.88 C750.54 961.14 752.48 958.60 754.42 956.19 C756.36 953.79 758.30 951.55 760.24 949.45 C762.18 947.34 764.12 945.39 766.06 943.54 C768.00 941.68 769.94 939.97 771.88 938.30 C773.82 936.63 775.76 935.07 777.70 933.54 C779.64 932.02 781.58 930.59 783.52 929.17 C785.46 927.74 787.40 926.36 789.34 924.98 C791.28 923.59 793.22 922.25 795.16 920.87 C797.10 919.49 799.04 918.11 800.98 916.68 C802.92 915.24 804.86 913.80 806.80 912.26 C808.74 910.72 810.68 909.14 812.62 907.46 C814.56 905.78 816.50 904.04 818.44 902.16 C820.38 900.29 822.32 898.31 824.26 896.21 C826.20 894.11 828.14 891.91 830.08 889.57 C832.02 887.23 833.96 884.76 835.90 882.17 C837.84 879.59 839.78 876.87 841.72 874.07 C843.66 871.26 845.60 868.31 847.54 865.33 C849.48 862.35 851.42 859.26 853.36 856.18 C855.30 853.10 857.24 849.95 859.18 846.85 C861.12 843.76 863.06 840.64 865.00 837.61 C866.94 834.59 868.88 831.59 870.82 828.71 C872.76 825.83 874.70 823.01 876.64 820.31 C878.58 817.61 880.52 815.00 882.46 812.49 C884.40 809.99 886.34 807.60 888.28 805.29 C890.22 802.98 892.16 800.75 894.10 798.65 C896.04 796.54 897.98 794.54 899.92 792.68 C901.86 790.81 903.80 789.05 905.74 787.46 C907.68 785.87 909.62 784.40 911.56 783.12 C913.50 781.85 915.44 780.72 917.38 779.79 C919.32 778.86 922.23 777.92 923.20 777.55"/><path d="M736.96 1027.34 C737.93 1025.11 740.84 1018.25 742.78 1013.97 C744.72 1009.69 746.66 1005.55 748.60 1001.65 C750.54 997.76 752.48 994.05 754.42 990.59 C756.36 987.13 758.30 983.90 760.24 980.89 C762.18 977.88 764.12 975.12 766.06 972.53 C768.00 969.95 769.94 967.60 771.88 965.39 C773.82 963.17 775.76 961.17 777.70 959.25 C779.64 957.33 781.58 955.58 783.52 953.89 C785.46 952.20 787.40 950.64 789.34 949.11 C791.28 947.58 793.22 946.14 795.16 944.71 C797.10 943.28 799.04 941.91 800.98 940.52 C802.92 939.13 804.86 937.77 806.80 936.35 C808.74 934.94 810.68 933.52 812.62 932.04 C814.56 930.55 816.50 929.04 818.44 927.45 C820.38 925.85 822.32 924.21 824.26 922.46 C826.20 920.71 828.14 918.89 830.08 916.95 C832.02 915.01 833.96 912.97 835.90 910.83 C837.84 908.69 839.78 906.46 841.72 904.11 C843.66 901.76 845.60 899.30 847.54 896.76 C849.48 894.21 851.42 891.56 853.36 888.86 C855.30 886.16 857.24 883.36 859.18 880.56 C861.12 877.76 863.06 874.88 865.00 872.06 C866.94 869.23 868.88 866.39 870.82 863.61 C872.76 860.84 874.70 858.06 876.64 855.42 C878.58 852.78 880.52 850.20 882.46 847.75 C884.40 845.31 886.34 842.96 888.28 840.76 C890.22 838.55 892.16 836.45 894.10 834.51 C896.04 832.57 897.98 830.77 899.92 829.11 C901.86 827.44 903.80 825.91 905.74 824.52 C907.68 823.13 909.62 821.87 911.56 820.75 C913.50 819.63 915.44 818.67 917.38 817.82 C919.32 816.96 922.23 816.00 923.20 815.64"/><path d="M760.24 1027.34 C761.21 1025.38 764.12 1019.26 766.06 1015.61 C768.00 1011.95 769.94 1008.57 771.88 1005.42 C773.82 1002.27 775.76 999.39 777.70 996.71 C779.64 994.02 781.58 991.60 783.52 989.31 C785.46 987.03 787.40 984.96 789.34 983.01 C791.28 981.06 793.22 979.30 795.16 977.60 C797.10 975.90 799.04 974.34 800.98 972.83 C802.92 971.31 804.86 969.91 806.80 968.51 C808.74 967.11 810.68 965.79 812.62 964.45 C814.56 963.10 816.50 961.78 818.44 960.44 C820.38 959.11 822.32 957.79 824.26 956.42 C826.20 955.05 828.14 953.66 830.08 952.21 C832.02 950.76 833.96 949.27 835.90 947.73 C837.84 946.18 839.78 944.59 841.72 942.93 C843.66 941.27 845.60 939.55 847.54 937.78 C849.48 936.01 851.42 934.19 853.36 932.31 C855.30 930.43 857.24 928.47 859.18 926.50 C861.12 924.54 863.06 922.52 865.00 920.49 C866.94 918.47 868.88 916.40 870.82 914.35 C872.76 912.30 874.70 910.23 876.64 908.19 C878.58 906.16 880.52 904.13 882.46 902.16 C884.40 900.19 886.34 898.25 888.28 896.38 C890.22 894.51 892.16 892.68 894.10 890.95 C896.04 889.22 897.98 887.57 899.92 885.99 C901.86 884.41 903.80 882.90 905.74 881.48 C907.68 880.07 909.62 878.75 911.56 877.50 C913.50 876.25 915.44 875.08 917.38 873.98 C919.32 872.88 922.23 871.42 923.20 870.90"/><path d="M783.52 1027.40 C784.49 1026.08 787.40 1021.93 789.34 1019.50 C791.28 1017.08 793.22 1014.91 795.16 1012.86 C797.10 1010.81 799.04 1008.97 800.98 1007.23 C802.92 1005.48 804.86 1003.91 806.80 1002.41 C808.74 1000.90 810.68 999.53 812.62 998.20 C814.56 996.87 816.50 995.64 818.44 994.42 C820.38 993.21 822.32 992.05 824.26 990.91 C826.20 989.76 828.14 988.67 830.08 987.55 C832.02 986.44 833.96 985.34 835.90 984.22 C837.84 983.10 839.78 981.99 841.72 980.85 C843.66 979.71 845.60 978.55 847.54 977.37 C849.48 976.19 851.42 975.00 853.36 973.79 C855.30 972.58 857.24 971.35 859.18 970.10 C861.12 968.86 863.06 967.58 865.00 966.31 C866.94 965.04 868.88 963.75 870.82 962.46 C872.76 961.16 874.70 959.84 876.64 958.54 C878.58 957.23 880.52 955.94 882.46 954.64 C884.40 953.34 886.34 952.02 888.28 950.72 C890.22 949.42 892.16 948.14 894.10 946.85 C896.04 945.56 897.98 944.27 899.92 942.99 C901.86 941.71 903.80 940.44 905.74 939.16 C907.68 937.87 909.62 936.59 911.56 935.28 C913.50 933.98 915.44 932.67 917.38 931.34 C919.32 930.02 922.23 928.01 923.20 927.34"/><path d="M806.80 1027.40 C807.77 1026.69 810.68 1024.46 812.62 1023.15 C814.56 1021.83 816.50 1020.65 818.44 1019.52 C820.38 1018.39 822.32 1017.37 824.26 1016.38 C826.20 1015.39 828.14 1014.49 830.08 1013.59 C832.02 1012.70 833.96 1011.85 835.90 1011.02 C837.84 1010.18 839.78 1009.39 841.72 1008.59 C843.66 1007.79 845.60 1007.00 847.54 1006.22 C849.48 1005.44 851.42 1004.68 853.36 1003.89 C855.30 1003.11 857.24 1002.32 859.18 1001.53 C861.12 1000.73 863.06 999.95 865.00 999.14 C866.94 998.33 868.88 997.52 870.82 996.69 C872.76 995.86 874.70 995.01 876.64 994.15 C878.58 993.29 880.52 992.42 882.46 991.51 C884.40 990.60 886.34 989.68 888.28 988.71 C890.22 987.73 892.16 986.73 894.10 985.69 C896.04 984.64 897.98 983.58 899.92 982.44 C901.86 981.30 903.80 980.11 905.74 978.86 C907.68 977.61 909.62 976.30 911.56 974.92 C913.50 973.54 915.44 972.10 917.38 970.58 C919.32 969.07 922.23 966.62 923.20 965.83"/><path d="M830.08 1027.36 C831.05 1027.00 833.96 1025.90 835.90 1025.22 C837.84 1024.54 839.78 1023.91 841.72 1023.29 C843.66 1022.68 845.60 1022.09 847.54 1021.51 C849.48 1020.94 851.42 1020.41 853.36 1019.86 C855.30 1019.31 857.24 1018.77 859.18 1018.22 C861.12 1017.68 863.06 1017.12 865.00 1016.57 C866.94 1016.01 868.88 1015.47 870.82 1014.89 C872.76 1014.32 874.70 1013.74 876.64 1013.11 C878.58 1012.49 880.52 1011.84 882.46 1011.14 C884.40 1010.45 886.34 1009.73 888.28 1008.94 C890.22 1008.16 892.16 1007.34 894.10 1006.43 C896.04 1005.52 897.98 1004.56 899.92 1003.50 C901.86 1002.43 903.80 1001.30 905.74 1000.06 C907.68 998.82 909.62 997.49 911.56 996.06 C913.50 994.63 915.44 993.11 917.38 991.47 C919.32 989.83 922.23 987.11 923.20 986.23"/><path d="M853.36 1027.34 C854.33 1027.12 857.24 1026.47 859.18 1026.04 C861.12 1025.61 863.06 1025.19 865.00 1024.76 C866.94 1024.33 868.88 1023.90 870.82 1023.44 C872.76 1022.98 874.70 1022.51 876.64 1021.99 C878.58 1021.48 880.52 1020.95 882.46 1020.36 C884.40 1019.77 886.34 1019.15 888.28 1018.45 C890.22 1017.76 892.16 1017.01 894.10 1016.17 C896.04 1015.33 897.98 1014.42 899.92 1013.41 C901.86 1012.39 903.80 1011.28 905.74 1010.05 C907.68 1008.83 909.62 1007.51 911.56 1006.05 C913.50 1004.60 915.44 1003.01 917.38 1001.32 C919.32 999.62 922.23 996.80 923.20 995.89"/><path d="M876.64 1027.40 C877.61 1027.17 880.52 1026.55 882.46 1026.04 C884.40 1025.52 886.34 1024.97 888.28 1024.32 C890.22 1023.67 892.16 1022.97 894.10 1022.16 C896.04 1021.36 897.98 1020.49 899.92 1019.50 C901.86 1018.51 903.80 1017.43 905.74 1016.21 C907.68 1014.99 909.62 1013.66 911.56 1012.19 C913.50 1010.72 915.44 1009.14 917.38 1007.41 C919.32 1005.69 922.23 1002.79 923.20 1001.86"/><path d="M899.92 1027.40 C900.89 1026.93 903.80 1025.71 905.74 1024.57 C907.68 1023.43 909.62 1022.05 911.56 1020.57 C913.50 1019.09 915.44 1017.47 917.38 1015.71 C919.32 1013.95 922.23 1010.96 923.20 1010.01"/></g>
<path d="M574.00 1027.40V1023.40M574.00 608.40V612.40M690.40 1027.40V1023.40M690.40 608.40V612.40M806.80 1027.40V1023.40M806.80 608.40V612.40M923.20 1027.40V1023.40M923.20 608.40V612.40M574.00 1027.40H578.00M923.20 1027.40H919.20M574.00 922.65H578.00M923.20 922.65H919.20M574.00 817.90H578.00M923.20 817.90H919.20M574.00 713.15H578.00M923.20 713.15H919.20M574.00 608.40H578.00M923.20 608.40H919.20" stroke="#000" stroke-width="2" fill="none"/>
<rect x="574.00" y="608.40" width="349.20" height="419.00" fill="none" stroke="#000" stroke-width="3.2" stroke-linejoin="round"/>
<text x="566.60" y="1041.70" font-family="Liberation Serif" font-size="42" text-anchor="end">0</text>
<text x="566.60" y="936.95" font-family="Liberation Serif" font-size="42" text-anchor="end">0.5</text>
<text x="566.60" y="832.20" font-family="Liberation Serif" font-size="42" text-anchor="end">1</text>
<text x="566.60" y="727.45" font-family="Liberation Serif" font-size="42" text-anchor="end">1.5</text>
<text x="566.60" y="622.70" font-family="Liberation Serif" font-size="42" text-anchor="end">2</text>
<text x="574.00" y="1071.20" font-family="Liberation Serif" font-size="42" text-anchor="middle">0</text>
<text x="690.40" y="1071.20" font-family="Liberation Serif" font-size="42" text-anchor="middle">1</text>
<text x="806.80" y="1071.20" font-family="Liberation Serif" font-size="42" text-anchor="middle">2</text>
<text x="923.20" y="1071.20" font-family="Liberation Serif" font-size="42" text-anchor="middle">3</text>
<g transform="translate(459.70 580.40)" fill="none" stroke="#000" stroke-linecap="round"><path stroke-width="2.5" d="M290.3 504.5 C289.5 507.7 287.2 516.5 285.9 521.6 C285.2 524.2 284.6 526.3 284.45 528"/><path stroke-width="1.6" d="M284.45 527.6 C284.3 530 285.6 531.2 287.4 531.2 C289.6 531.2 291.5 529.2 292.7 527.3 C293.3 526.3 293.8 525.5 294.1 524.8"/><path stroke-width="1.4" stroke-linecap="butt" d="M281.2 512.7 H295.0"/></g>
<g transform="translate(459.70 580.40)" fill="none" stroke="#000" stroke-linecap="round"><path stroke-width="1.9" d="M43.95 234.1 C38 232.6 30 230.56 25 229.2 C21.4 228.13 19.5 227.7 18.56 227.99 C16.9 228.5 15.6 230.6 15.56 232.84 C15.5 235 16.8 237.3 18.84 238.83 C20 239.7 21.5 240.1 22.84 240.55 C26.5 241.8 30.5 243.1 34.25 244.4"/><path stroke-width="1.1" d="M18.84 239.6 C17.2 240.3 15.9 241.6 15.7 243.6 C15.6 245.3 16.4 246.3 17.6 246.8 C18.9 247.3 20.3 247.5 21.7 247.4"/><circle cx="43.6" cy="234.0" r="1.25" fill="#000" stroke="none"/><circle cx="33.9" cy="244.3" r="1.15" fill="#000" stroke="none"/></g>
<text transform="translate(598.20 670.10) scale(0.93 1)" font-family="Liberation Serif" font-size="41.5">V</text>
<text x="626.80" y="689.40" font-family="Liberation Serif" font-size="31">b</text>
<rect x="642.20" y="653.30" width="15.5" height="2.6" fill="#000"/><rect x="642.20" y="661.60" width="15.5" height="2.6" fill="#000"/>
<text x="663.20" y="668.90" font-family="Liberation Serif" font-size="42">0.35</text>
<line x1="1149.80" y1="1027.40" x2="1149.80" y2="608.40" stroke="#222" stroke-width="2" stroke-dasharray="2 10.77" stroke-dashoffset="-12.3"/>
<line x1="1266.20" y1="1027.40" x2="1266.20" y2="608.40" stroke="#222" stroke-width="2" stroke-dasharray="2 10.77" stroke-dashoffset="-12.3"/>
<line x1="1033.40" y1="922.65" x2="1382.60" y2="922.65" stroke="#222" stroke-width="2" stroke-dasharray="2 10.77" stroke-dashoffset="-12.7"/>
<line x1="1033.40" y1="817.90" x2="1382.60" y2="817.90" stroke="#222" stroke-width="2" stroke-dasharray="2 10.77" stroke-dashoffset="-12.7"/>
<line x1="1033.40" y1="713.15" x2="1382.60" y2="713.15" stroke="#222" stroke-width="2" stroke-dasharray="2 10.77" stroke-dashoffset="-12.7"/>
<g clip-path="url(#c12)" fill="none" stroke="#000" stroke-width="6.40" stroke-linejoin="round" stroke-linecap="round"><path d="M1033.40 1027.34 C1034.37 1026.44 1037.28 1023.58 1039.22 1021.93 C1041.16 1020.29 1043.10 1018.83 1045.04 1017.47 C1046.98 1016.11 1048.92 1014.91 1050.86 1013.78 C1052.80 1012.65 1054.74 1011.65 1056.68 1010.70 C1058.62 1009.76 1060.56 1008.91 1062.50 1008.11 C1064.44 1007.30 1066.38 1006.58 1068.32 1005.88 C1070.26 1005.19 1072.20 1004.55 1074.14 1003.94 C1076.08 1003.32 1078.02 1002.76 1079.96 1002.20 C1081.90 1001.63 1083.84 1001.09 1085.78 1000.56 C1087.72 1000.03 1089.66 999.53 1091.60 999.01 C1093.54 998.49 1095.48 997.97 1097.42 997.44 C1099.36 996.91 1101.30 996.39 1103.24 995.83 C1105.18 995.27 1107.12 994.70 1109.06 994.09 C1111.00 993.47 1112.94 992.84 1114.88 992.14 C1116.82 991.44 1118.76 990.71 1120.70 989.90 C1122.64 989.09 1124.58 988.24 1126.52 987.30 C1128.46 986.36 1130.40 985.37 1132.34 984.26 C1134.28 983.16 1136.22 981.97 1138.16 980.68 C1140.10 979.40 1142.04 978.03 1143.98 976.55 C1145.92 975.08 1147.86 973.50 1149.80 971.82 C1151.74 970.14 1153.68 968.36 1155.62 966.50 C1157.56 964.63 1159.50 962.65 1161.44 960.63 C1163.38 958.61 1165.32 956.51 1167.26 954.37 C1169.20 952.23 1171.14 950.01 1173.08 947.81 C1175.02 945.61 1176.96 943.37 1178.90 941.17 C1180.84 938.97 1182.78 936.74 1184.72 934.59 C1186.66 932.44 1188.60 930.32 1190.54 928.26 C1192.48 926.21 1194.42 924.20 1196.36 922.27 C1198.30 920.35 1200.24 918.49 1202.18 916.70 C1204.12 914.91 1206.06 913.17 1208.00 911.50 C1209.94 909.84 1211.88 908.25 1213.82 906.71 C1215.76 905.17 1217.70 903.70 1219.64 902.27 C1221.58 900.83 1223.52 899.44 1225.46 898.10 C1227.40 896.75 1229.34 895.47 1231.28 894.20 C1233.22 892.93 1235.16 891.68 1237.10 890.45 C1239.04 889.22 1240.98 888.04 1242.92 886.83 C1244.86 885.61 1246.80 884.41 1248.74 883.18 C1250.68 881.95 1252.62 880.73 1254.56 879.45 C1256.50 878.17 1258.44 876.86 1260.38 875.49 C1262.32 874.12 1264.26 872.71 1266.20 871.22 C1268.14 869.72 1270.08 868.18 1272.02 866.52 C1273.96 864.87 1275.90 863.13 1277.84 861.29 C1279.78 859.44 1281.72 857.51 1283.66 855.46 C1285.60 853.42 1287.54 851.26 1289.48 849.01 C1291.42 846.76 1293.36 844.41 1295.30 841.97 C1297.24 839.53 1299.18 836.99 1301.12 834.37 C1303.06 831.75 1305.00 829.03 1306.94 826.26 C1308.88 823.48 1310.82 820.63 1312.76 817.71 C1314.70 814.80 1316.64 811.81 1318.58 808.77 C1320.52 805.72 1322.46 802.60 1324.40 799.42 C1326.34 796.24 1328.28 792.99 1330.22 789.68 C1332.16 786.37 1334.10 782.99 1336.04 779.58 C1337.98 776.17 1339.92 772.68 1341.86 769.23 C1343.80 765.78 1345.74 762.28 1347.68 758.88 C1349.62 755.49 1351.56 752.08 1353.50 748.87 C1355.44 745.66 1357.38 742.50 1359.32 739.61 C1361.26 736.72 1363.20 733.96 1365.14 731.50 C1367.08 729.05 1369.02 726.81 1370.96 724.88 C1372.90 722.96 1374.84 721.29 1376.78 719.96 C1378.72 718.63 1381.63 717.41 1382.60 716.90"/><path d="M1056.68 1027.13 C1057.65 1026.78 1060.56 1025.65 1062.50 1025.03 C1064.44 1024.41 1066.38 1023.88 1068.32 1023.40 C1070.26 1022.92 1072.20 1022.52 1074.14 1022.14 C1076.08 1021.77 1078.02 1021.45 1079.96 1021.16 C1081.90 1020.86 1083.84 1020.61 1085.78 1020.36 C1087.72 1020.11 1089.66 1019.90 1091.60 1019.67 C1093.54 1019.44 1095.48 1019.24 1097.42 1019.00 C1099.36 1018.76 1101.30 1018.51 1103.24 1018.22 C1105.18 1017.94 1107.12 1017.65 1109.06 1017.28 C1111.00 1016.91 1112.94 1016.51 1114.88 1016.02 C1116.82 1015.54 1118.76 1015.00 1120.70 1014.35 C1122.64 1013.70 1124.58 1012.97 1126.52 1012.13 C1128.46 1011.28 1130.40 1010.35 1132.34 1009.28 C1134.28 1008.21 1136.22 1007.04 1138.16 1005.72 C1140.10 1004.40 1142.04 1002.94 1143.98 1001.36 C1145.92 999.78 1147.86 998.07 1149.80 996.23 C1151.74 994.39 1153.68 992.41 1155.62 990.32 C1157.56 988.23 1159.50 986.01 1161.44 983.70 C1163.38 981.39 1165.32 978.94 1167.26 976.45 C1169.20 973.96 1171.14 971.37 1173.08 968.76 C1175.02 966.15 1176.96 963.45 1178.90 960.80 C1180.84 958.15 1182.78 955.46 1184.72 952.84 C1186.66 950.22 1188.60 947.60 1190.54 945.09 C1192.48 942.57 1194.42 940.10 1196.36 937.73 C1198.30 935.37 1200.24 933.07 1202.18 930.88 C1204.12 928.70 1206.06 926.61 1208.00 924.62 C1209.94 922.63 1211.88 920.74 1213.82 918.92 C1215.76 917.10 1217.70 915.37 1219.64 913.70 C1221.58 912.04 1223.52 910.46 1225.46 908.93 C1227.40 907.39 1229.34 905.94 1231.28 904.51 C1233.22 903.08 1235.16 901.71 1237.10 900.36 C1239.04 899.00 1240.98 897.70 1242.92 896.38 C1244.86 895.06 1246.80 893.77 1248.74 892.46 C1250.68 891.15 1252.62 889.86 1254.56 888.52 C1256.50 887.18 1258.44 885.83 1260.38 884.42 C1262.32 883.00 1264.26 881.56 1266.20 880.04 C1268.14 878.52 1270.08 876.95 1272.02 875.28 C1273.96 873.61 1275.90 871.87 1277.84 870.02 C1279.78 868.18 1281.72 866.24 1283.66 864.20 C1285.60 862.16 1287.54 860.03 1289.48 857.79 C1291.42 855.55 1293.36 853.19 1295.30 850.75 C1297.24 848.31 1299.18 845.77 1301.12 843.17 C1303.06 840.56 1305.00 837.86 1306.94 835.10 C1308.88 832.34 1310.82 829.49 1312.76 826.62 C1314.70 823.74 1316.64 820.81 1318.58 817.84 C1320.52 814.86 1322.46 811.83 1324.40 808.77 C1326.34 805.70 1328.28 802.57 1330.22 799.42 C1332.16 796.27 1334.10 793.07 1336.04 789.87 C1337.98 786.66 1339.92 783.42 1341.86 780.19 C1343.80 776.96 1345.74 773.68 1347.68 770.51 C1349.62 767.34 1351.56 764.17 1353.50 761.17 C1355.44 758.16 1357.38 755.20 1359.32 752.47 C1361.26 749.75 1363.20 747.14 1365.14 744.81 C1367.08 742.47 1369.02 740.31 1370.96 738.46 C1372.90 736.60 1374.84 734.99 1376.78 733.68 C1378.72 732.37 1381.63 731.11 1382.60 730.60"/><path d="M1079.96 1027.02 C1080.93 1026.93 1083.84 1026.64 1085.78 1026.48 C1087.72 1026.32 1089.66 1026.20 1091.60 1026.06 C1093.54 1025.92 1095.48 1025.81 1097.42 1025.66 C1099.36 1025.51 1101.30 1025.38 1103.24 1025.18 C1105.18 1024.98 1107.12 1024.76 1109.06 1024.47 C1111.00 1024.17 1112.94 1023.85 1114.88 1023.42 C1116.82 1022.99 1118.76 1022.52 1120.70 1021.91 C1122.64 1021.31 1124.58 1020.62 1126.52 1019.80 C1128.46 1018.97 1130.40 1018.06 1132.34 1016.99 C1134.28 1015.92 1136.22 1014.73 1138.16 1013.38 C1140.10 1012.04 1142.04 1010.56 1143.98 1008.94 C1145.92 1007.32 1147.86 1005.56 1149.80 1003.66 C1151.74 1001.76 1153.68 999.71 1155.62 997.55 C1157.56 995.38 1159.50 993.07 1161.44 990.67 C1163.38 988.28 1165.32 985.74 1167.26 983.15 C1169.20 980.56 1171.14 977.85 1173.08 975.13 C1175.02 972.41 1176.96 969.60 1178.90 966.81 C1180.84 964.03 1182.78 961.19 1184.72 958.43 C1186.66 955.67 1188.60 952.91 1190.54 950.24 C1192.48 947.58 1194.42 944.95 1196.36 942.45 C1198.30 939.94 1200.24 937.53 1202.18 935.22 C1204.12 932.91 1206.06 930.70 1208.00 928.60 C1209.94 926.50 1211.88 924.52 1213.82 922.61 C1215.76 920.70 1217.70 918.88 1219.64 917.14 C1221.58 915.40 1223.52 913.77 1225.46 912.18 C1227.40 910.58 1229.34 909.06 1231.28 907.59 C1233.22 906.11 1235.16 904.71 1237.10 903.31 C1239.04 901.92 1240.98 900.57 1242.92 899.23 C1244.86 897.88 1246.80 896.58 1248.74 895.25 C1250.68 893.92 1252.62 892.60 1254.56 891.25 C1256.50 889.89 1258.44 888.54 1260.38 887.12 C1262.32 885.70 1264.26 884.25 1266.20 882.72 C1268.14 881.19 1270.08 879.62 1272.02 877.94 C1273.96 876.27 1275.90 874.53 1277.84 872.68 C1279.78 870.84 1281.72 868.92 1283.66 866.88 C1285.60 864.85 1287.54 862.71 1289.48 860.47 C1291.42 858.24 1293.36 855.90 1295.30 853.47 C1297.24 851.04 1299.18 848.49 1301.12 845.89 C1303.06 843.28 1305.00 840.59 1306.94 837.84 C1308.88 835.10 1310.82 832.27 1312.76 829.40 C1314.70 826.53 1316.64 823.61 1318.58 820.64 C1320.52 817.68 1322.46 814.67 1324.40 811.64 C1326.34 808.60 1328.28 805.52 1330.22 802.42 C1332.16 799.31 1334.10 796.16 1336.04 793.01 C1337.98 789.86 1339.92 786.66 1341.86 783.50 C1343.80 780.34 1345.74 777.13 1347.68 774.03 C1349.62 770.93 1351.56 767.82 1353.50 764.88 C1355.44 761.93 1357.38 759.04 1359.32 756.37 C1361.26 753.70 1363.20 751.13 1365.14 748.83 C1367.08 746.53 1369.02 744.41 1370.96 742.58 C1372.90 740.76 1374.84 739.16 1376.78 737.85 C1378.72 736.54 1381.63 735.27 1382.60 734.75"/><path d="M1103.24 1027.06 C1104.21 1026.96 1107.12 1026.69 1109.06 1026.42 C1111.00 1026.14 1112.94 1025.84 1114.88 1025.43 C1116.82 1025.02 1118.76 1024.55 1120.70 1023.96 C1122.64 1023.37 1124.58 1022.70 1126.52 1021.89 C1128.46 1021.08 1130.40 1020.15 1132.34 1019.08 C1134.28 1018.01 1136.22 1016.82 1138.16 1015.48 C1140.10 1014.14 1142.04 1012.65 1143.98 1011.02 C1145.92 1009.38 1147.86 1007.59 1149.80 1005.67 C1151.74 1003.76 1153.68 1001.70 1155.62 999.52 C1157.56 997.33 1159.50 994.99 1161.44 992.56 C1163.38 990.13 1165.32 987.57 1167.26 984.96 C1169.20 982.34 1171.14 979.60 1173.08 976.85 C1175.02 974.09 1176.96 971.24 1178.90 968.43 C1180.84 965.61 1182.78 962.74 1184.72 959.94 C1186.66 957.14 1188.60 954.34 1190.54 951.64 C1192.48 948.95 1194.42 946.29 1196.36 943.75 C1198.30 941.20 1200.24 938.74 1202.18 936.39 C1204.12 934.05 1206.06 931.82 1208.00 929.69 C1209.94 927.56 1211.88 925.53 1213.82 923.59 C1215.76 921.66 1217.70 919.84 1219.64 918.08 C1221.58 916.33 1223.52 914.66 1225.46 913.05 C1227.40 911.45 1229.34 909.92 1231.28 908.42 C1233.22 906.93 1235.16 905.51 1237.10 904.11 C1239.04 902.71 1240.98 901.35 1242.92 900.00 C1244.86 898.65 1246.80 897.34 1248.74 896.00 C1250.68 894.66 1252.62 893.34 1254.56 891.98 C1256.50 890.62 1258.44 889.26 1260.38 887.83 C1262.32 886.41 1264.26 884.96 1266.20 883.43 C1268.14 881.90 1270.08 880.32 1272.02 878.66 C1273.96 876.99 1275.90 875.26 1277.84 873.42 C1279.78 871.58 1281.72 869.65 1283.66 867.61 C1285.60 865.58 1287.54 863.44 1289.48 861.20 C1291.42 858.97 1293.36 856.63 1295.30 854.21 C1297.24 851.78 1299.18 849.25 1301.12 846.64 C1303.06 844.04 1305.00 841.33 1306.94 838.58 C1308.88 835.83 1310.82 833.02 1312.76 830.16 C1314.70 827.29 1316.64 824.36 1318.58 821.40 C1320.52 818.44 1322.46 815.44 1324.40 812.41 C1326.34 809.38 1328.28 806.33 1330.22 803.24 C1332.16 800.14 1334.10 796.99 1336.04 793.85 C1337.98 790.71 1339.92 787.54 1341.86 784.40 C1343.80 781.26 1345.74 778.08 1347.68 774.99 C1349.62 771.91 1351.56 768.81 1353.50 765.88 C1355.44 762.95 1357.38 760.08 1359.32 757.42 C1361.26 754.76 1363.20 752.20 1365.14 749.92 C1367.08 747.63 1369.02 745.52 1370.96 743.70 C1372.90 741.87 1374.84 740.28 1376.78 738.98 C1378.72 737.68 1381.63 736.40 1382.60 735.88"/><path d="M1126.52 1027.25 C1127.49 1026.79 1130.40 1025.54 1132.34 1024.47 C1134.28 1023.40 1136.22 1022.20 1138.16 1020.84 C1140.10 1019.48 1142.04 1017.96 1143.98 1016.30 C1145.92 1014.63 1147.86 1012.81 1149.80 1010.85 C1151.74 1008.89 1153.68 1006.76 1155.62 1004.52 C1157.56 1002.28 1159.50 999.89 1161.44 997.40 C1163.38 994.91 1165.32 992.28 1167.26 989.59 C1169.20 986.89 1171.14 984.08 1173.08 981.25 C1175.02 978.42 1176.96 975.50 1178.90 972.59 C1180.84 969.69 1182.78 966.71 1184.72 963.82 C1186.66 960.92 1188.60 958.02 1190.54 955.23 C1192.48 952.43 1194.42 949.67 1196.36 947.04 C1198.30 944.40 1200.24 941.86 1202.18 939.43 C1204.12 937.00 1206.06 934.67 1208.00 932.45 C1209.94 930.24 1211.88 928.15 1213.82 926.15 C1215.76 924.15 1217.70 922.26 1219.64 920.45 C1221.58 918.64 1223.52 916.94 1225.46 915.30 C1227.40 913.65 1229.34 912.09 1231.28 910.56 C1233.22 909.04 1235.16 907.57 1237.10 906.14 C1239.04 904.71 1240.98 903.34 1242.92 901.97 C1244.86 900.60 1246.80 899.26 1248.74 897.91 C1250.68 896.56 1252.62 895.23 1254.56 893.86 C1256.50 892.50 1258.44 891.13 1260.38 889.70 C1262.32 888.26 1264.26 886.81 1266.20 885.28 C1268.14 883.74 1270.08 882.17 1272.02 880.50 C1273.96 878.83 1275.90 877.10 1277.84 875.26 C1279.78 873.42 1281.72 871.51 1283.66 869.48 C1285.60 867.45 1287.54 865.32 1289.48 863.09 C1291.42 860.86 1293.36 858.52 1295.30 856.09 C1297.24 853.67 1299.18 851.15 1301.12 848.55 C1303.06 845.95 1305.00 843.25 1306.94 840.51 C1308.88 837.76 1310.82 834.94 1312.76 832.08 C1314.70 829.23 1316.64 826.31 1318.58 823.37 C1320.52 820.43 1322.46 817.45 1324.40 814.44 C1326.34 811.43 1328.28 808.38 1330.22 805.31 C1332.16 802.24 1334.10 799.13 1336.04 796.03 C1337.98 792.92 1339.92 789.79 1341.86 786.68 C1343.80 783.58 1345.74 780.46 1347.68 777.42 C1349.62 774.39 1351.56 771.35 1353.50 768.46 C1355.44 765.57 1357.38 762.72 1359.32 760.10 C1361.26 757.47 1363.20 754.96 1365.14 752.70 C1367.08 750.44 1369.02 748.35 1370.96 746.54 C1372.90 744.74 1374.84 743.15 1376.78 741.85 C1378.72 740.55 1381.63 739.27 1382.60 738.75"/><path d="M1149.80 1027.40 C1150.77 1026.26 1153.68 1023.00 1155.62 1020.57 C1157.56 1018.14 1159.50 1015.52 1161.44 1012.82 C1163.38 1010.11 1165.32 1007.26 1167.26 1004.33 C1169.20 1001.41 1171.14 998.35 1173.08 995.26 C1175.02 992.18 1176.96 988.99 1178.90 985.81 C1180.84 982.64 1182.78 979.40 1184.72 976.22 C1186.66 973.04 1188.60 969.85 1190.54 966.75 C1192.48 963.65 1194.42 960.58 1196.36 957.64 C1198.30 954.70 1200.24 951.83 1202.18 949.11 C1204.12 946.39 1206.06 943.80 1208.00 941.34 C1209.94 938.87 1211.88 936.54 1213.82 934.32 C1215.76 932.10 1217.70 930.02 1219.64 928.03 C1221.58 926.05 1223.52 924.19 1225.46 922.40 C1227.40 920.61 1229.34 918.92 1231.28 917.29 C1233.22 915.65 1235.16 914.11 1237.10 912.59 C1239.04 911.08 1240.98 909.63 1242.92 908.19 C1244.86 906.76 1246.80 905.38 1248.74 903.98 C1250.68 902.59 1252.62 901.21 1254.56 899.81 C1256.50 898.41 1258.44 897.03 1260.38 895.58 C1262.32 894.14 1264.26 892.67 1266.20 891.14 C1268.14 889.61 1270.08 888.05 1272.02 886.39 C1273.96 884.72 1275.90 882.99 1277.84 881.17 C1279.78 879.35 1281.72 877.46 1283.66 875.45 C1285.60 873.44 1287.54 871.33 1289.48 869.12 C1291.42 866.92 1293.36 864.61 1295.30 862.21 C1297.24 859.81 1299.18 857.31 1301.12 854.73 C1303.06 852.15 1305.00 849.47 1306.94 846.75 C1308.88 844.02 1310.82 841.22 1312.76 838.39 C1314.70 835.56 1316.64 832.67 1318.58 829.76 C1320.52 826.85 1322.46 823.90 1324.40 820.94 C1326.34 817.98 1328.28 815.00 1330.22 812.01 C1332.16 809.03 1334.10 806.02 1336.04 803.03 C1337.98 800.03 1339.92 797.01 1341.86 794.04 C1343.80 791.06 1345.74 788.08 1347.68 785.18 C1349.62 782.27 1351.56 779.38 1353.50 776.63 C1355.44 773.88 1357.38 771.18 1359.32 768.67 C1361.26 766.16 1363.20 763.74 1365.14 761.57 C1367.08 759.39 1369.02 757.39 1370.96 755.64 C1372.90 753.88 1374.84 752.33 1376.78 751.05 C1378.72 749.77 1381.63 748.48 1382.60 747.97"/><path d="M1173.08 1027.40 C1174.05 1025.53 1176.96 1019.97 1178.90 1016.19 C1180.84 1012.41 1182.78 1008.54 1184.72 1004.73 C1186.66 1000.93 1188.60 997.10 1190.54 993.36 C1192.48 989.62 1194.42 985.88 1196.36 982.29 C1198.30 978.71 1200.24 975.18 1202.18 971.82 C1204.12 968.46 1206.06 965.21 1208.00 962.14 C1209.94 959.07 1211.88 956.14 1213.82 953.38 C1215.76 950.63 1217.70 948.05 1219.64 945.61 C1221.58 943.17 1223.52 940.90 1225.46 938.74 C1227.40 936.58 1229.34 934.58 1231.28 932.66 C1233.22 930.75 1235.16 928.96 1237.10 927.24 C1239.04 925.51 1240.98 923.90 1242.92 922.31 C1244.86 920.73 1246.80 919.22 1248.74 917.73 C1250.68 916.23 1252.62 914.79 1254.56 913.33 C1256.50 911.87 1258.44 910.44 1260.38 908.97 C1262.32 907.50 1264.26 906.03 1266.20 904.51 C1268.14 902.98 1270.08 901.46 1272.02 899.84 C1273.96 898.22 1275.90 896.54 1277.84 894.79 C1279.78 893.03 1281.72 891.22 1283.66 889.30 C1285.60 887.37 1287.54 885.36 1289.48 883.24 C1291.42 881.13 1293.36 878.93 1295.30 876.62 C1297.24 874.32 1299.18 871.90 1301.12 869.42 C1303.06 866.93 1305.00 864.35 1306.94 861.71 C1308.88 859.07 1310.82 856.33 1312.76 853.58 C1314.70 850.82 1316.64 848.00 1318.58 845.18 C1320.52 842.35 1322.46 839.48 1324.40 836.63 C1326.34 833.78 1328.28 830.90 1330.22 828.06 C1332.16 825.22 1334.10 822.38 1336.04 819.58 C1337.98 816.78 1339.92 813.99 1341.86 811.26 C1343.80 808.53 1345.74 805.82 1347.68 803.19 C1349.62 800.57 1351.56 797.97 1353.50 795.50 C1355.44 793.04 1357.38 790.63 1359.32 788.38 C1361.26 786.13 1363.20 783.97 1365.14 782.01 C1367.08 780.05 1369.02 778.22 1370.96 776.61 C1372.90 774.99 1374.84 773.55 1376.78 772.33 C1378.72 771.12 1381.63 769.82 1382.60 769.32"/><path d="M1196.36 1027.40 C1197.33 1025.13 1200.24 1018.20 1202.18 1013.80 C1204.12 1009.41 1206.06 1005.12 1208.00 1001.04 C1209.94 996.97 1211.88 993.05 1213.82 989.33 C1215.76 985.62 1217.70 982.09 1219.64 978.78 C1221.58 975.46 1223.52 972.35 1225.46 969.43 C1227.40 966.51 1229.34 963.80 1231.28 961.26 C1233.22 958.72 1235.16 956.39 1237.10 954.18 C1239.04 951.97 1240.98 949.92 1242.92 947.98 C1244.86 946.03 1246.80 944.25 1248.74 942.51 C1250.68 940.78 1252.62 939.16 1254.56 937.57 C1256.50 935.97 1258.44 934.45 1260.38 932.94 C1262.32 931.42 1264.26 929.98 1266.20 928.50 C1268.14 927.01 1270.08 925.54 1272.02 924.03 C1273.96 922.52 1275.90 921.01 1277.84 919.42 C1279.78 917.84 1281.72 916.23 1283.66 914.54 C1285.60 912.85 1287.54 911.12 1289.48 909.28 C1291.42 907.45 1293.36 905.54 1295.30 903.54 C1297.24 901.55 1299.18 899.48 1301.12 897.32 C1303.06 895.16 1305.00 892.91 1306.94 890.60 C1308.88 888.28 1310.82 885.87 1312.76 883.41 C1314.70 880.96 1316.64 878.42 1318.58 875.87 C1320.52 873.32 1322.46 870.71 1324.40 868.12 C1326.34 865.52 1328.28 862.89 1330.22 860.30 C1332.16 857.71 1334.10 855.10 1336.04 852.57 C1337.98 850.04 1339.92 847.54 1341.86 845.11 C1343.80 842.69 1345.74 840.31 1347.68 838.03 C1349.62 835.76 1351.56 833.55 1353.50 831.45 C1355.44 829.36 1357.38 827.35 1359.32 825.46 C1361.26 823.58 1363.20 821.79 1365.14 820.14 C1367.08 818.49 1369.02 816.96 1370.96 815.57 C1372.90 814.19 1374.84 812.95 1376.78 811.85 C1378.72 810.75 1381.63 809.45 1382.60 808.98"/><path d="M1219.64 1027.40 C1220.61 1025.32 1223.52 1018.85 1225.46 1014.93 C1227.40 1011.02 1229.34 1007.36 1231.28 1003.94 C1233.22 1000.51 1235.16 997.34 1237.10 994.36 C1239.04 991.38 1240.98 988.64 1242.92 986.07 C1244.86 983.50 1246.80 981.15 1248.74 978.94 C1250.68 976.73 1252.62 974.72 1254.56 972.80 C1256.50 970.89 1258.44 969.13 1260.38 967.44 C1262.32 965.75 1264.26 964.19 1266.20 962.66 C1268.14 961.14 1270.08 959.69 1272.02 958.27 C1273.96 956.84 1275.90 955.49 1277.84 954.12 C1279.78 952.74 1281.72 951.40 1283.66 950.03 C1285.60 948.67 1287.54 947.32 1289.48 945.93 C1291.42 944.53 1293.36 943.11 1295.30 941.65 C1297.24 940.20 1299.18 938.72 1301.12 937.19 C1303.06 935.66 1305.00 934.09 1306.94 932.48 C1308.88 930.86 1310.82 929.20 1312.76 927.49 C1314.70 925.78 1316.64 924.02 1318.58 922.23 C1320.52 920.45 1322.46 918.62 1324.40 916.78 C1326.34 914.94 1328.28 913.07 1330.22 911.19 C1332.16 909.31 1334.10 907.39 1336.04 905.51 C1337.98 903.63 1339.92 901.75 1341.86 899.90 C1343.80 898.05 1345.74 896.20 1347.68 894.41 C1349.62 892.62 1351.56 890.85 1353.50 889.15 C1355.44 887.45 1357.38 885.80 1359.32 884.21 C1361.26 882.62 1363.20 881.08 1365.14 879.62 C1367.08 878.16 1369.02 876.76 1370.96 875.43 C1372.90 874.10 1374.84 872.85 1376.78 871.66 C1378.72 870.47 1381.63 868.85 1382.60 868.28"/><path d="M1242.92 1027.40 C1243.89 1025.96 1246.80 1021.43 1248.74 1018.77 C1250.68 1016.11 1252.62 1013.69 1254.56 1011.44 C1256.50 1009.18 1258.44 1007.15 1260.38 1005.23 C1262.32 1003.32 1264.26 1001.59 1266.20 999.96 C1268.14 998.32 1270.08 996.85 1272.02 995.45 C1273.96 994.05 1275.90 992.77 1277.84 991.53 C1279.78 990.29 1281.72 989.13 1283.66 988.01 C1285.60 986.89 1287.54 985.85 1289.48 984.81 C1291.42 983.77 1293.36 982.78 1295.30 981.79 C1297.24 980.80 1299.18 979.83 1301.12 978.86 C1303.06 977.88 1305.00 976.92 1306.94 975.95 C1308.88 974.97 1310.82 974.00 1312.76 973.01 C1314.70 972.03 1316.64 971.04 1318.58 970.04 C1320.52 969.04 1322.46 968.02 1324.40 967.00 C1326.34 965.98 1328.28 964.95 1330.22 963.90 C1332.16 962.85 1334.10 961.79 1336.04 960.72 C1337.98 959.64 1339.92 958.55 1341.86 957.45 C1343.80 956.35 1345.74 955.24 1347.68 954.12 C1349.62 952.99 1351.56 951.84 1353.50 950.68 C1355.44 949.52 1357.38 948.35 1359.32 947.14 C1361.26 945.93 1363.20 944.69 1365.14 943.43 C1367.08 942.17 1369.02 940.89 1370.96 939.58 C1372.90 938.26 1374.84 936.93 1376.78 935.56 C1378.72 934.18 1381.63 932.01 1382.60 931.30"/><path d="M1266.20 1027.38 C1267.17 1026.63 1270.08 1024.25 1272.02 1022.90 C1273.96 1021.54 1275.90 1020.34 1277.84 1019.23 C1279.78 1018.12 1281.72 1017.15 1283.66 1016.23 C1285.60 1015.32 1287.54 1014.50 1289.48 1013.74 C1291.42 1012.98 1293.36 1012.31 1295.30 1011.67 C1297.24 1011.02 1299.18 1010.43 1301.12 1009.86 C1303.06 1009.30 1305.00 1008.80 1306.94 1008.29 C1308.88 1007.79 1310.82 1007.32 1312.76 1006.85 C1314.70 1006.38 1316.64 1005.94 1318.58 1005.49 C1320.52 1005.04 1322.46 1004.60 1324.40 1004.15 C1326.34 1003.69 1328.28 1003.23 1330.22 1002.74 C1332.16 1002.26 1334.10 1001.77 1336.04 1001.23 C1337.98 1000.69 1339.92 1000.12 1341.86 999.49 C1343.80 998.87 1345.74 998.22 1347.68 997.48 C1349.62 996.75 1351.56 995.96 1353.50 995.07 C1355.44 994.19 1357.38 993.24 1359.32 992.18 C1361.26 991.13 1363.20 989.99 1365.14 988.75 C1367.08 987.50 1369.02 986.16 1370.96 984.70 C1372.90 983.25 1374.84 981.69 1376.78 980.03 C1378.72 978.37 1381.63 975.62 1382.60 974.73"/><path d="M1289.48 1027.25 C1290.45 1026.98 1293.36 1026.09 1295.30 1025.62 C1297.24 1025.14 1299.18 1024.76 1301.12 1024.40 C1303.06 1024.04 1305.00 1023.74 1306.94 1023.46 C1308.88 1023.19 1310.82 1022.96 1312.76 1022.75 C1314.70 1022.54 1316.64 1022.37 1318.58 1022.18 C1320.52 1022.00 1322.46 1021.82 1324.40 1021.64 C1326.34 1021.45 1328.28 1021.29 1330.22 1021.07 C1332.16 1020.86 1334.10 1020.64 1336.04 1020.36 C1337.98 1020.08 1339.92 1019.78 1341.86 1019.40 C1343.80 1019.01 1345.74 1018.58 1347.68 1018.04 C1349.62 1017.49 1351.56 1016.88 1353.50 1016.15 C1355.44 1015.42 1357.38 1014.60 1359.32 1013.64 C1361.26 1012.67 1363.20 1011.60 1365.14 1010.37 C1367.08 1009.14 1369.02 1007.76 1370.96 1006.24 C1372.90 1004.72 1374.84 1003.06 1376.78 1001.25 C1378.72 999.45 1381.63 996.38 1382.60 995.41"/><path d="M1312.76 1027.23 C1313.73 1027.17 1316.64 1026.99 1318.58 1026.88 C1320.52 1026.76 1322.46 1026.67 1324.40 1026.56 C1326.34 1026.45 1328.28 1026.36 1330.22 1026.23 C1332.16 1026.09 1334.10 1025.95 1336.04 1025.74 C1337.98 1025.54 1339.92 1025.29 1341.86 1024.97 C1343.80 1024.65 1345.74 1024.28 1347.68 1023.80 C1349.62 1023.31 1351.56 1022.75 1353.50 1022.06 C1355.44 1021.37 1357.38 1020.59 1359.32 1019.65 C1361.26 1018.71 1363.20 1017.65 1365.14 1016.42 C1367.08 1015.20 1369.02 1013.83 1370.96 1012.30 C1372.90 1010.76 1374.84 1009.07 1376.78 1007.23 C1378.72 1005.39 1381.63 1002.25 1382.60 1001.25"/><path d="M1336.04 1027.40 C1337.01 1027.32 1339.92 1027.18 1341.86 1026.92 C1343.80 1026.65 1345.74 1026.28 1347.68 1025.81 C1349.62 1025.34 1351.56 1024.79 1353.50 1024.11 C1355.44 1023.43 1357.38 1022.68 1359.32 1021.74 C1361.26 1020.81 1363.20 1019.74 1365.14 1018.52 C1367.08 1017.30 1369.02 1015.94 1370.96 1014.41 C1372.90 1012.88 1374.84 1011.17 1376.78 1009.32 C1378.72 1007.47 1381.63 1004.29 1382.60 1003.29"/><path d="M1359.32 1027.40 C1360.29 1027.05 1363.20 1026.36 1365.14 1025.33 C1367.08 1024.30 1369.02 1022.76 1370.96 1021.22 C1372.90 1019.68 1374.84 1017.95 1376.78 1016.07 C1378.72 1014.18 1381.63 1010.93 1382.60 1009.91"/></g>
<path d="M1033.40 1027.40V1023.40M1033.40 608.40V612.40M1149.80 1027.40V1023.40M1149.80 608.40V612.40M1266.20 1027.40V1023.40M1266.20 608.40V612.40M1382.60 1027.40V1023.40M1382.60 608.40V612.40M1033.40 1027.40H1037.40M1382.60 1027.40H1378.60M1033.40 922.65H1037.40M1382.60 922.65H1378.60M1033.40 817.90H1037.40M1382.60 817.90H1378.60M1033.40 713.15H1037.40M1382.60 713.15H1378.60M1033.40 608.40H1037.40M1382.60 608.40H1378.60" stroke="#000" stroke-width="2" fill="none"/>
<rect x="1033.40" y="608.40" width="349.20" height="419.00" fill="none" stroke="#000" stroke-width="3.2" stroke-linejoin="round"/>
<text x="1026.00" y="1041.70" font-family="Liberation Serif" font-size="42" text-anchor="end">0</text>
<text x="1026.00" y="936.95" font-family="Liberation Serif" font-size="42" text-anchor="end">0.5</text>
<text x="1026.00" y="832.20" font-family="Liberation Serif" font-size="42" text-anchor="end">1</text>
<text x="1026.00" y="727.45" font-family="Liberation Serif" font-size="42" text-anchor="end">1.5</text>
<text x="1026.00" y="622.70" font-family="Liberation Serif" font-size="42" text-anchor="end">2</text>
<text x="1033.40" y="1071.20" font-family="Liberation Serif" font-size="42" text-anchor="middle">0</text>
<text x="1149.80" y="1071.20" font-family="Liberation Serif" font-size="42" text-anchor="middle">1</text>
<text x="1266.20" y="1071.20" font-family="Liberation Serif" font-size="42" text-anchor="middle">2</text>
<text x="1382.60" y="1071.20" font-family="Liberation Serif" font-size="42" text-anchor="middle">3</text>
<g transform="translate(919.10 580.40)" fill="none" stroke="#000" stroke-linecap="round"><path stroke-width="2.5" d="M290.3 504.5 C289.5 507.7 287.2 516.5 285.9 521.6 C285.2 524.2 284.6 526.3 284.45 528"/><path stroke-width="1.6" d="M284.45 527.6 C284.3 530 285.6 531.2 287.4 531.2 C289.6 531.2 291.5 529.2 292.7 527.3 C293.3 526.3 293.8 525.5 294.1 524.8"/><path stroke-width="1.4" stroke-linecap="butt" d="M281.2 512.7 H295.0"/></g>
<g transform="translate(919.10 580.40)" fill="none" stroke="#000" stroke-linecap="round"><path stroke-width="1.9" d="M43.95 234.1 C38 232.6 30 230.56 25 229.2 C21.4 228.13 19.5 227.7 18.56 227.99 C16.9 228.5 15.6 230.6 15.56 232.84 C15.5 235 16.8 237.3 18.84 238.83 C20 239.7 21.5 240.1 22.84 240.55 C26.5 241.8 30.5 243.1 34.25 244.4"/><path stroke-width="1.1" d="M18.84 239.6 C17.2 240.3 15.9 241.6 15.7 243.6 C15.6 245.3 16.4 246.3 17.6 246.8 C18.9 247.3 20.3 247.5 21.7 247.4"/><circle cx="43.6" cy="234.0" r="1.25" fill="#000" stroke="none"/><circle cx="33.9" cy="244.3" r="1.15" fill="#000" stroke="none"/></g>
<text transform="translate(1057.60 670.10) scale(0.93 1)" font-family="Liberation Serif" font-size="41.5">V</text>
<text x="1086.20" y="689.40" font-family="Liberation Serif" font-size="31">b</text>
<rect x="1101.60" y="653.30" width="15.5" height="2.6" fill="#000"/><rect x="1101.60" y="661.60" width="15.5" height="2.6" fill="#000"/>
<text x="1122.60" y="668.90" font-family="Liberation Serif" font-size="42">0.4</text>
</svg></body></html>
